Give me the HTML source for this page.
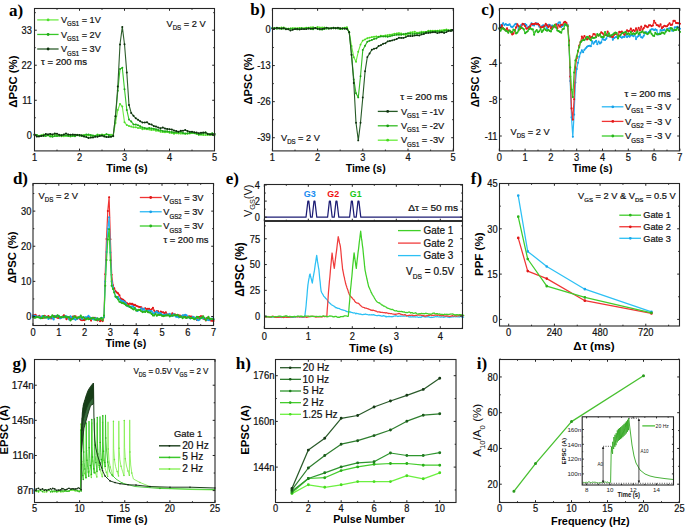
<!DOCTYPE html><html><head><meta charset="utf-8"><style>html,body{margin:0;padding:0;background:#fff;}svg{display:block;}</style></head><body><svg width="685" height="528" viewBox="0 0 685 528">
<rect width="685" height="528" fill="#fff"/>
<polyline points="34.5,134.7 36.8,135.2 39.0,135.7 41.2,135.3 43.5,134.6 45.8,134.9 48.0,135.4 50.2,135.9 52.5,135.0 54.8,134.5 57.0,135.2 59.2,135.5 61.5,136.2 63.8,136.2 66.0,135.7 68.2,135.4 70.5,136.6 72.8,135.8 75.0,135.2 77.2,134.7 79.5,135.0 81.8,135.2 84.0,135.1 86.3,135.2 88.5,135.4 90.8,135.7 93.0,136.0 95.2,135.8 97.5,134.6 99.8,135.3 102.0,134.6 104.2,134.9 106.5,134.3 108.8,134.8 111.0,134.7 113.2,135.1 115.5,122.9 117.8,110.0 120.0,103.9 122.3,106.6 124.5,122.2 126.8,125.1 129.0,126.1 131.2,126.6 133.5,127.3 135.8,127.2 138.0,128.1 140.2,127.9 142.5,129.3 144.8,128.8 147.0,129.3 149.2,129.4 151.5,130.1 153.8,129.8 156.0,130.7 158.2,130.8 160.5,131.7 162.8,132.1 165.0,132.2 167.2,132.0 169.5,132.8 171.8,133.1 174.0,133.8 176.3,133.2 178.5,133.5 180.8,133.6 183.0,133.6 185.2,133.7 187.5,133.7 189.8,133.4 192.0,133.1 194.3,133.3 196.5,133.9 198.8,134.7 201.0,134.8 203.2,135.0 205.5,135.0 207.7,134.9 210.0,134.7 212.2,134.9 214.5,135.5" fill="none" stroke="#70ec48" stroke-width="1.1" stroke-linejoin="round" />
<path d="M33.5,134.7a1.0,1.0 0 1,0 2.0,0a1.0,1.0 0 1,0 -2.0,0M35.8,135.2a1.0,1.0 0 1,0 2.0,0a1.0,1.0 0 1,0 -2.0,0M38.0,135.7a1.0,1.0 0 1,0 2.0,0a1.0,1.0 0 1,0 -2.0,0M40.2,135.3a1.0,1.0 0 1,0 2.0,0a1.0,1.0 0 1,0 -2.0,0M42.5,134.6a1.0,1.0 0 1,0 2.0,0a1.0,1.0 0 1,0 -2.0,0M44.8,134.9a1.0,1.0 0 1,0 2.0,0a1.0,1.0 0 1,0 -2.0,0M47.0,135.4a1.0,1.0 0 1,0 2.0,0a1.0,1.0 0 1,0 -2.0,0M49.2,135.9a1.0,1.0 0 1,0 2.0,0a1.0,1.0 0 1,0 -2.0,0M51.5,135.0a1.0,1.0 0 1,0 2.0,0a1.0,1.0 0 1,0 -2.0,0M53.8,134.5a1.0,1.0 0 1,0 2.0,0a1.0,1.0 0 1,0 -2.0,0M56.0,135.2a1.0,1.0 0 1,0 2.0,0a1.0,1.0 0 1,0 -2.0,0M58.2,135.5a1.0,1.0 0 1,0 2.0,0a1.0,1.0 0 1,0 -2.0,0M60.5,136.2a1.0,1.0 0 1,0 2.0,0a1.0,1.0 0 1,0 -2.0,0M62.8,136.2a1.0,1.0 0 1,0 2.0,0a1.0,1.0 0 1,0 -2.0,0M65.0,135.7a1.0,1.0 0 1,0 2.0,0a1.0,1.0 0 1,0 -2.0,0M67.2,135.4a1.0,1.0 0 1,0 2.0,0a1.0,1.0 0 1,0 -2.0,0M69.5,136.6a1.0,1.0 0 1,0 2.0,0a1.0,1.0 0 1,0 -2.0,0M71.8,135.8a1.0,1.0 0 1,0 2.0,0a1.0,1.0 0 1,0 -2.0,0M74.0,135.2a1.0,1.0 0 1,0 2.0,0a1.0,1.0 0 1,0 -2.0,0M76.2,134.7a1.0,1.0 0 1,0 2.0,0a1.0,1.0 0 1,0 -2.0,0M78.5,135.0a1.0,1.0 0 1,0 2.0,0a1.0,1.0 0 1,0 -2.0,0M80.8,135.2a1.0,1.0 0 1,0 2.0,0a1.0,1.0 0 1,0 -2.0,0M83.0,135.1a1.0,1.0 0 1,0 2.0,0a1.0,1.0 0 1,0 -2.0,0M85.3,135.2a1.0,1.0 0 1,0 2.0,0a1.0,1.0 0 1,0 -2.0,0M87.5,135.4a1.0,1.0 0 1,0 2.0,0a1.0,1.0 0 1,0 -2.0,0M89.8,135.7a1.0,1.0 0 1,0 2.0,0a1.0,1.0 0 1,0 -2.0,0M92.0,136.0a1.0,1.0 0 1,0 2.0,0a1.0,1.0 0 1,0 -2.0,0M94.2,135.8a1.0,1.0 0 1,0 2.0,0a1.0,1.0 0 1,0 -2.0,0M96.5,134.6a1.0,1.0 0 1,0 2.0,0a1.0,1.0 0 1,0 -2.0,0M98.8,135.3a1.0,1.0 0 1,0 2.0,0a1.0,1.0 0 1,0 -2.0,0M101.0,134.6a1.0,1.0 0 1,0 2.0,0a1.0,1.0 0 1,0 -2.0,0M103.2,134.9a1.0,1.0 0 1,0 2.0,0a1.0,1.0 0 1,0 -2.0,0M105.5,134.3a1.0,1.0 0 1,0 2.0,0a1.0,1.0 0 1,0 -2.0,0M107.8,134.8a1.0,1.0 0 1,0 2.0,0a1.0,1.0 0 1,0 -2.0,0M110.0,134.7a1.0,1.0 0 1,0 2.0,0a1.0,1.0 0 1,0 -2.0,0M112.2,135.1a1.0,1.0 0 1,0 2.0,0a1.0,1.0 0 1,0 -2.0,0M114.5,122.9a1.0,1.0 0 1,0 2.0,0a1.0,1.0 0 1,0 -2.0,0M116.8,110.0a1.0,1.0 0 1,0 2.0,0a1.0,1.0 0 1,0 -2.0,0M119.0,103.9a1.0,1.0 0 1,0 2.0,0a1.0,1.0 0 1,0 -2.0,0M121.3,106.6a1.0,1.0 0 1,0 2.0,0a1.0,1.0 0 1,0 -2.0,0M123.5,122.2a1.0,1.0 0 1,0 2.0,0a1.0,1.0 0 1,0 -2.0,0M125.8,125.1a1.0,1.0 0 1,0 2.0,0a1.0,1.0 0 1,0 -2.0,0M128.0,126.1a1.0,1.0 0 1,0 2.0,0a1.0,1.0 0 1,0 -2.0,0M130.2,126.6a1.0,1.0 0 1,0 2.0,0a1.0,1.0 0 1,0 -2.0,0M132.5,127.3a1.0,1.0 0 1,0 2.0,0a1.0,1.0 0 1,0 -2.0,0M134.8,127.2a1.0,1.0 0 1,0 2.0,0a1.0,1.0 0 1,0 -2.0,0M137.0,128.1a1.0,1.0 0 1,0 2.0,0a1.0,1.0 0 1,0 -2.0,0M139.2,127.9a1.0,1.0 0 1,0 2.0,0a1.0,1.0 0 1,0 -2.0,0M141.5,129.3a1.0,1.0 0 1,0 2.0,0a1.0,1.0 0 1,0 -2.0,0M143.8,128.8a1.0,1.0 0 1,0 2.0,0a1.0,1.0 0 1,0 -2.0,0M146.0,129.3a1.0,1.0 0 1,0 2.0,0a1.0,1.0 0 1,0 -2.0,0M148.2,129.4a1.0,1.0 0 1,0 2.0,0a1.0,1.0 0 1,0 -2.0,0M150.5,130.1a1.0,1.0 0 1,0 2.0,0a1.0,1.0 0 1,0 -2.0,0M152.8,129.8a1.0,1.0 0 1,0 2.0,0a1.0,1.0 0 1,0 -2.0,0M155.0,130.7a1.0,1.0 0 1,0 2.0,0a1.0,1.0 0 1,0 -2.0,0M157.2,130.8a1.0,1.0 0 1,0 2.0,0a1.0,1.0 0 1,0 -2.0,0M159.5,131.7a1.0,1.0 0 1,0 2.0,0a1.0,1.0 0 1,0 -2.0,0M161.8,132.1a1.0,1.0 0 1,0 2.0,0a1.0,1.0 0 1,0 -2.0,0M164.0,132.2a1.0,1.0 0 1,0 2.0,0a1.0,1.0 0 1,0 -2.0,0M166.2,132.0a1.0,1.0 0 1,0 2.0,0a1.0,1.0 0 1,0 -2.0,0M168.5,132.8a1.0,1.0 0 1,0 2.0,0a1.0,1.0 0 1,0 -2.0,0M170.8,133.1a1.0,1.0 0 1,0 2.0,0a1.0,1.0 0 1,0 -2.0,0M173.0,133.8a1.0,1.0 0 1,0 2.0,0a1.0,1.0 0 1,0 -2.0,0M175.3,133.2a1.0,1.0 0 1,0 2.0,0a1.0,1.0 0 1,0 -2.0,0M177.5,133.5a1.0,1.0 0 1,0 2.0,0a1.0,1.0 0 1,0 -2.0,0M179.8,133.6a1.0,1.0 0 1,0 2.0,0a1.0,1.0 0 1,0 -2.0,0M182.0,133.6a1.0,1.0 0 1,0 2.0,0a1.0,1.0 0 1,0 -2.0,0M184.2,133.7a1.0,1.0 0 1,0 2.0,0a1.0,1.0 0 1,0 -2.0,0M186.5,133.7a1.0,1.0 0 1,0 2.0,0a1.0,1.0 0 1,0 -2.0,0M188.8,133.4a1.0,1.0 0 1,0 2.0,0a1.0,1.0 0 1,0 -2.0,0M191.0,133.1a1.0,1.0 0 1,0 2.0,0a1.0,1.0 0 1,0 -2.0,0M193.3,133.3a1.0,1.0 0 1,0 2.0,0a1.0,1.0 0 1,0 -2.0,0M195.5,133.9a1.0,1.0 0 1,0 2.0,0a1.0,1.0 0 1,0 -2.0,0M197.8,134.7a1.0,1.0 0 1,0 2.0,0a1.0,1.0 0 1,0 -2.0,0M200.0,134.8a1.0,1.0 0 1,0 2.0,0a1.0,1.0 0 1,0 -2.0,0M202.2,135.0a1.0,1.0 0 1,0 2.0,0a1.0,1.0 0 1,0 -2.0,0M204.5,135.0a1.0,1.0 0 1,0 2.0,0a1.0,1.0 0 1,0 -2.0,0M206.7,134.9a1.0,1.0 0 1,0 2.0,0a1.0,1.0 0 1,0 -2.0,0M209.0,134.7a1.0,1.0 0 1,0 2.0,0a1.0,1.0 0 1,0 -2.0,0M211.2,134.9a1.0,1.0 0 1,0 2.0,0a1.0,1.0 0 1,0 -2.0,0M213.5,135.5a1.0,1.0 0 1,0 2.0,0a1.0,1.0 0 1,0 -2.0,0" fill="#50dc30"/>
<polyline points="34.5,135.1 36.8,134.9 39.0,136.1 41.2,135.8 43.5,136.0 45.8,136.1 48.0,135.1 50.2,136.4 52.5,136.8 54.8,136.1 57.0,136.1 59.2,135.8 61.5,135.1 63.8,135.1 66.0,135.4 68.2,135.9 70.5,136.0 72.8,135.7 75.0,136.2 77.2,135.3 79.5,135.7 81.8,136.1 84.0,135.5 86.3,134.5 88.5,134.5 90.8,135.0 93.0,135.4 95.2,136.1 97.5,135.2 99.8,135.3 102.0,135.6 104.2,135.4 106.5,134.2 108.8,135.1 111.0,136.4 113.2,136.3 115.5,116.2 117.8,90.7 120.0,69.1 122.3,67.7 124.5,89.3 126.8,109.9 129.0,119.6 131.2,121.4 133.5,124.4 135.8,124.6 138.0,125.3 140.2,126.3 142.5,127.6 144.8,128.1 147.0,128.5 149.2,128.0 151.5,128.4 153.8,128.8 156.0,129.2 158.2,130.1 160.5,130.3 162.8,131.1 165.0,131.3 167.2,131.3 169.5,131.8 171.8,132.1 174.0,132.6 176.3,132.2 178.5,132.2 180.8,131.7 183.0,133.0 185.2,133.6 187.5,133.2 189.8,132.9 192.0,132.4 194.3,132.9 196.5,133.2 198.8,134.4 201.0,134.1 203.2,133.5 205.5,132.4 207.7,133.8 210.0,134.0 212.2,133.2 214.5,133.7" fill="none" stroke="#38c828" stroke-width="1.1" stroke-linejoin="round" />
<path d="M33.5,135.1a1.0,1.0 0 1,0 2.0,0a1.0,1.0 0 1,0 -2.0,0M35.8,134.9a1.0,1.0 0 1,0 2.0,0a1.0,1.0 0 1,0 -2.0,0M38.0,136.1a1.0,1.0 0 1,0 2.0,0a1.0,1.0 0 1,0 -2.0,0M40.2,135.8a1.0,1.0 0 1,0 2.0,0a1.0,1.0 0 1,0 -2.0,0M42.5,136.0a1.0,1.0 0 1,0 2.0,0a1.0,1.0 0 1,0 -2.0,0M44.8,136.1a1.0,1.0 0 1,0 2.0,0a1.0,1.0 0 1,0 -2.0,0M47.0,135.1a1.0,1.0 0 1,0 2.0,0a1.0,1.0 0 1,0 -2.0,0M49.2,136.4a1.0,1.0 0 1,0 2.0,0a1.0,1.0 0 1,0 -2.0,0M51.5,136.8a1.0,1.0 0 1,0 2.0,0a1.0,1.0 0 1,0 -2.0,0M53.8,136.1a1.0,1.0 0 1,0 2.0,0a1.0,1.0 0 1,0 -2.0,0M56.0,136.1a1.0,1.0 0 1,0 2.0,0a1.0,1.0 0 1,0 -2.0,0M58.2,135.8a1.0,1.0 0 1,0 2.0,0a1.0,1.0 0 1,0 -2.0,0M60.5,135.1a1.0,1.0 0 1,0 2.0,0a1.0,1.0 0 1,0 -2.0,0M62.8,135.1a1.0,1.0 0 1,0 2.0,0a1.0,1.0 0 1,0 -2.0,0M65.0,135.4a1.0,1.0 0 1,0 2.0,0a1.0,1.0 0 1,0 -2.0,0M67.2,135.9a1.0,1.0 0 1,0 2.0,0a1.0,1.0 0 1,0 -2.0,0M69.5,136.0a1.0,1.0 0 1,0 2.0,0a1.0,1.0 0 1,0 -2.0,0M71.8,135.7a1.0,1.0 0 1,0 2.0,0a1.0,1.0 0 1,0 -2.0,0M74.0,136.2a1.0,1.0 0 1,0 2.0,0a1.0,1.0 0 1,0 -2.0,0M76.2,135.3a1.0,1.0 0 1,0 2.0,0a1.0,1.0 0 1,0 -2.0,0M78.5,135.7a1.0,1.0 0 1,0 2.0,0a1.0,1.0 0 1,0 -2.0,0M80.8,136.1a1.0,1.0 0 1,0 2.0,0a1.0,1.0 0 1,0 -2.0,0M83.0,135.5a1.0,1.0 0 1,0 2.0,0a1.0,1.0 0 1,0 -2.0,0M85.3,134.5a1.0,1.0 0 1,0 2.0,0a1.0,1.0 0 1,0 -2.0,0M87.5,134.5a1.0,1.0 0 1,0 2.0,0a1.0,1.0 0 1,0 -2.0,0M89.8,135.0a1.0,1.0 0 1,0 2.0,0a1.0,1.0 0 1,0 -2.0,0M92.0,135.4a1.0,1.0 0 1,0 2.0,0a1.0,1.0 0 1,0 -2.0,0M94.2,136.1a1.0,1.0 0 1,0 2.0,0a1.0,1.0 0 1,0 -2.0,0M96.5,135.2a1.0,1.0 0 1,0 2.0,0a1.0,1.0 0 1,0 -2.0,0M98.8,135.3a1.0,1.0 0 1,0 2.0,0a1.0,1.0 0 1,0 -2.0,0M101.0,135.6a1.0,1.0 0 1,0 2.0,0a1.0,1.0 0 1,0 -2.0,0M103.2,135.4a1.0,1.0 0 1,0 2.0,0a1.0,1.0 0 1,0 -2.0,0M105.5,134.2a1.0,1.0 0 1,0 2.0,0a1.0,1.0 0 1,0 -2.0,0M107.8,135.1a1.0,1.0 0 1,0 2.0,0a1.0,1.0 0 1,0 -2.0,0M110.0,136.4a1.0,1.0 0 1,0 2.0,0a1.0,1.0 0 1,0 -2.0,0M112.2,136.3a1.0,1.0 0 1,0 2.0,0a1.0,1.0 0 1,0 -2.0,0M114.5,116.2a1.0,1.0 0 1,0 2.0,0a1.0,1.0 0 1,0 -2.0,0M116.8,90.7a1.0,1.0 0 1,0 2.0,0a1.0,1.0 0 1,0 -2.0,0M119.0,69.1a1.0,1.0 0 1,0 2.0,0a1.0,1.0 0 1,0 -2.0,0M121.3,67.7a1.0,1.0 0 1,0 2.0,0a1.0,1.0 0 1,0 -2.0,0M123.5,89.3a1.0,1.0 0 1,0 2.0,0a1.0,1.0 0 1,0 -2.0,0M125.8,109.9a1.0,1.0 0 1,0 2.0,0a1.0,1.0 0 1,0 -2.0,0M128.0,119.6a1.0,1.0 0 1,0 2.0,0a1.0,1.0 0 1,0 -2.0,0M130.2,121.4a1.0,1.0 0 1,0 2.0,0a1.0,1.0 0 1,0 -2.0,0M132.5,124.4a1.0,1.0 0 1,0 2.0,0a1.0,1.0 0 1,0 -2.0,0M134.8,124.6a1.0,1.0 0 1,0 2.0,0a1.0,1.0 0 1,0 -2.0,0M137.0,125.3a1.0,1.0 0 1,0 2.0,0a1.0,1.0 0 1,0 -2.0,0M139.2,126.3a1.0,1.0 0 1,0 2.0,0a1.0,1.0 0 1,0 -2.0,0M141.5,127.6a1.0,1.0 0 1,0 2.0,0a1.0,1.0 0 1,0 -2.0,0M143.8,128.1a1.0,1.0 0 1,0 2.0,0a1.0,1.0 0 1,0 -2.0,0M146.0,128.5a1.0,1.0 0 1,0 2.0,0a1.0,1.0 0 1,0 -2.0,0M148.2,128.0a1.0,1.0 0 1,0 2.0,0a1.0,1.0 0 1,0 -2.0,0M150.5,128.4a1.0,1.0 0 1,0 2.0,0a1.0,1.0 0 1,0 -2.0,0M152.8,128.8a1.0,1.0 0 1,0 2.0,0a1.0,1.0 0 1,0 -2.0,0M155.0,129.2a1.0,1.0 0 1,0 2.0,0a1.0,1.0 0 1,0 -2.0,0M157.2,130.1a1.0,1.0 0 1,0 2.0,0a1.0,1.0 0 1,0 -2.0,0M159.5,130.3a1.0,1.0 0 1,0 2.0,0a1.0,1.0 0 1,0 -2.0,0M161.8,131.1a1.0,1.0 0 1,0 2.0,0a1.0,1.0 0 1,0 -2.0,0M164.0,131.3a1.0,1.0 0 1,0 2.0,0a1.0,1.0 0 1,0 -2.0,0M166.2,131.3a1.0,1.0 0 1,0 2.0,0a1.0,1.0 0 1,0 -2.0,0M168.5,131.8a1.0,1.0 0 1,0 2.0,0a1.0,1.0 0 1,0 -2.0,0M170.8,132.1a1.0,1.0 0 1,0 2.0,0a1.0,1.0 0 1,0 -2.0,0M173.0,132.6a1.0,1.0 0 1,0 2.0,0a1.0,1.0 0 1,0 -2.0,0M175.3,132.2a1.0,1.0 0 1,0 2.0,0a1.0,1.0 0 1,0 -2.0,0M177.5,132.2a1.0,1.0 0 1,0 2.0,0a1.0,1.0 0 1,0 -2.0,0M179.8,131.7a1.0,1.0 0 1,0 2.0,0a1.0,1.0 0 1,0 -2.0,0M182.0,133.0a1.0,1.0 0 1,0 2.0,0a1.0,1.0 0 1,0 -2.0,0M184.2,133.6a1.0,1.0 0 1,0 2.0,0a1.0,1.0 0 1,0 -2.0,0M186.5,133.2a1.0,1.0 0 1,0 2.0,0a1.0,1.0 0 1,0 -2.0,0M188.8,132.9a1.0,1.0 0 1,0 2.0,0a1.0,1.0 0 1,0 -2.0,0M191.0,132.4a1.0,1.0 0 1,0 2.0,0a1.0,1.0 0 1,0 -2.0,0M193.3,132.9a1.0,1.0 0 1,0 2.0,0a1.0,1.0 0 1,0 -2.0,0M195.5,133.2a1.0,1.0 0 1,0 2.0,0a1.0,1.0 0 1,0 -2.0,0M197.8,134.4a1.0,1.0 0 1,0 2.0,0a1.0,1.0 0 1,0 -2.0,0M200.0,134.1a1.0,1.0 0 1,0 2.0,0a1.0,1.0 0 1,0 -2.0,0M202.2,133.5a1.0,1.0 0 1,0 2.0,0a1.0,1.0 0 1,0 -2.0,0M204.5,132.4a1.0,1.0 0 1,0 2.0,0a1.0,1.0 0 1,0 -2.0,0M206.7,133.8a1.0,1.0 0 1,0 2.0,0a1.0,1.0 0 1,0 -2.0,0M209.0,134.0a1.0,1.0 0 1,0 2.0,0a1.0,1.0 0 1,0 -2.0,0M211.2,133.2a1.0,1.0 0 1,0 2.0,0a1.0,1.0 0 1,0 -2.0,0M213.5,133.7a1.0,1.0 0 1,0 2.0,0a1.0,1.0 0 1,0 -2.0,0" fill="#20a818"/>
<polyline points="34.5,134.5 36.8,136.6 39.0,136.4 41.2,136.0 43.5,135.4 45.8,134.1 48.0,134.4 50.2,133.9 52.5,134.6 54.8,133.6 57.0,133.7 59.2,134.7 61.5,135.4 63.8,134.4 66.0,133.6 68.2,134.4 70.5,134.8 72.8,134.5 75.0,134.7 77.2,134.9 79.5,135.0 81.8,135.4 84.0,136.6 86.3,137.0 88.5,138.0 90.8,137.6 93.0,137.4 95.2,136.7 97.5,136.7 99.8,136.1 102.0,135.5 104.2,136.4 106.5,137.1 108.8,136.9 111.0,136.7 113.2,135.9 115.5,116.2 117.8,86.6 120.0,44.5 122.3,26.9 124.5,44.3 126.8,72.6 129.0,104.9 131.2,113.0 133.5,115.8 135.8,118.3 138.0,119.7 140.2,121.3 142.5,122.5 144.8,122.5 147.0,122.3 149.2,124.0 151.5,124.5 153.8,126.0 156.0,126.6 158.2,127.5 160.5,128.2 162.8,127.4 165.0,128.6 167.2,128.9 169.5,129.2 171.8,129.6 174.0,130.5 176.3,131.1 178.5,131.7 180.8,130.7 183.0,130.8 185.2,130.1 187.5,131.0 189.8,131.8 192.0,131.7 194.3,132.2 196.5,132.6 198.8,133.2 201.0,132.7 203.2,132.6 205.5,132.6 207.7,134.0 210.0,134.5 212.2,134.2 214.5,134.3" fill="none" stroke="#2e5e2c" stroke-width="1.1" stroke-linejoin="round" />
<path d="M33.5,134.5a1.0,1.0 0 1,0 2.0,0a1.0,1.0 0 1,0 -2.0,0M35.8,136.6a1.0,1.0 0 1,0 2.0,0a1.0,1.0 0 1,0 -2.0,0M38.0,136.4a1.0,1.0 0 1,0 2.0,0a1.0,1.0 0 1,0 -2.0,0M40.2,136.0a1.0,1.0 0 1,0 2.0,0a1.0,1.0 0 1,0 -2.0,0M42.5,135.4a1.0,1.0 0 1,0 2.0,0a1.0,1.0 0 1,0 -2.0,0M44.8,134.1a1.0,1.0 0 1,0 2.0,0a1.0,1.0 0 1,0 -2.0,0M47.0,134.4a1.0,1.0 0 1,0 2.0,0a1.0,1.0 0 1,0 -2.0,0M49.2,133.9a1.0,1.0 0 1,0 2.0,0a1.0,1.0 0 1,0 -2.0,0M51.5,134.6a1.0,1.0 0 1,0 2.0,0a1.0,1.0 0 1,0 -2.0,0M53.8,133.6a1.0,1.0 0 1,0 2.0,0a1.0,1.0 0 1,0 -2.0,0M56.0,133.7a1.0,1.0 0 1,0 2.0,0a1.0,1.0 0 1,0 -2.0,0M58.2,134.7a1.0,1.0 0 1,0 2.0,0a1.0,1.0 0 1,0 -2.0,0M60.5,135.4a1.0,1.0 0 1,0 2.0,0a1.0,1.0 0 1,0 -2.0,0M62.8,134.4a1.0,1.0 0 1,0 2.0,0a1.0,1.0 0 1,0 -2.0,0M65.0,133.6a1.0,1.0 0 1,0 2.0,0a1.0,1.0 0 1,0 -2.0,0M67.2,134.4a1.0,1.0 0 1,0 2.0,0a1.0,1.0 0 1,0 -2.0,0M69.5,134.8a1.0,1.0 0 1,0 2.0,0a1.0,1.0 0 1,0 -2.0,0M71.8,134.5a1.0,1.0 0 1,0 2.0,0a1.0,1.0 0 1,0 -2.0,0M74.0,134.7a1.0,1.0 0 1,0 2.0,0a1.0,1.0 0 1,0 -2.0,0M76.2,134.9a1.0,1.0 0 1,0 2.0,0a1.0,1.0 0 1,0 -2.0,0M78.5,135.0a1.0,1.0 0 1,0 2.0,0a1.0,1.0 0 1,0 -2.0,0M80.8,135.4a1.0,1.0 0 1,0 2.0,0a1.0,1.0 0 1,0 -2.0,0M83.0,136.6a1.0,1.0 0 1,0 2.0,0a1.0,1.0 0 1,0 -2.0,0M85.3,137.0a1.0,1.0 0 1,0 2.0,0a1.0,1.0 0 1,0 -2.0,0M87.5,138.0a1.0,1.0 0 1,0 2.0,0a1.0,1.0 0 1,0 -2.0,0M89.8,137.6a1.0,1.0 0 1,0 2.0,0a1.0,1.0 0 1,0 -2.0,0M92.0,137.4a1.0,1.0 0 1,0 2.0,0a1.0,1.0 0 1,0 -2.0,0M94.2,136.7a1.0,1.0 0 1,0 2.0,0a1.0,1.0 0 1,0 -2.0,0M96.5,136.7a1.0,1.0 0 1,0 2.0,0a1.0,1.0 0 1,0 -2.0,0M98.8,136.1a1.0,1.0 0 1,0 2.0,0a1.0,1.0 0 1,0 -2.0,0M101.0,135.5a1.0,1.0 0 1,0 2.0,0a1.0,1.0 0 1,0 -2.0,0M103.2,136.4a1.0,1.0 0 1,0 2.0,0a1.0,1.0 0 1,0 -2.0,0M105.5,137.1a1.0,1.0 0 1,0 2.0,0a1.0,1.0 0 1,0 -2.0,0M107.8,136.9a1.0,1.0 0 1,0 2.0,0a1.0,1.0 0 1,0 -2.0,0M110.0,136.7a1.0,1.0 0 1,0 2.0,0a1.0,1.0 0 1,0 -2.0,0M112.2,135.9a1.0,1.0 0 1,0 2.0,0a1.0,1.0 0 1,0 -2.0,0M114.5,116.2a1.0,1.0 0 1,0 2.0,0a1.0,1.0 0 1,0 -2.0,0M116.8,86.6a1.0,1.0 0 1,0 2.0,0a1.0,1.0 0 1,0 -2.0,0M119.0,44.5a1.0,1.0 0 1,0 2.0,0a1.0,1.0 0 1,0 -2.0,0M121.3,26.9a1.0,1.0 0 1,0 2.0,0a1.0,1.0 0 1,0 -2.0,0M123.5,44.3a1.0,1.0 0 1,0 2.0,0a1.0,1.0 0 1,0 -2.0,0M125.8,72.6a1.0,1.0 0 1,0 2.0,0a1.0,1.0 0 1,0 -2.0,0M128.0,104.9a1.0,1.0 0 1,0 2.0,0a1.0,1.0 0 1,0 -2.0,0M130.2,113.0a1.0,1.0 0 1,0 2.0,0a1.0,1.0 0 1,0 -2.0,0M132.5,115.8a1.0,1.0 0 1,0 2.0,0a1.0,1.0 0 1,0 -2.0,0M134.8,118.3a1.0,1.0 0 1,0 2.0,0a1.0,1.0 0 1,0 -2.0,0M137.0,119.7a1.0,1.0 0 1,0 2.0,0a1.0,1.0 0 1,0 -2.0,0M139.2,121.3a1.0,1.0 0 1,0 2.0,0a1.0,1.0 0 1,0 -2.0,0M141.5,122.5a1.0,1.0 0 1,0 2.0,0a1.0,1.0 0 1,0 -2.0,0M143.8,122.5a1.0,1.0 0 1,0 2.0,0a1.0,1.0 0 1,0 -2.0,0M146.0,122.3a1.0,1.0 0 1,0 2.0,0a1.0,1.0 0 1,0 -2.0,0M148.2,124.0a1.0,1.0 0 1,0 2.0,0a1.0,1.0 0 1,0 -2.0,0M150.5,124.5a1.0,1.0 0 1,0 2.0,0a1.0,1.0 0 1,0 -2.0,0M152.8,126.0a1.0,1.0 0 1,0 2.0,0a1.0,1.0 0 1,0 -2.0,0M155.0,126.6a1.0,1.0 0 1,0 2.0,0a1.0,1.0 0 1,0 -2.0,0M157.2,127.5a1.0,1.0 0 1,0 2.0,0a1.0,1.0 0 1,0 -2.0,0M159.5,128.2a1.0,1.0 0 1,0 2.0,0a1.0,1.0 0 1,0 -2.0,0M161.8,127.4a1.0,1.0 0 1,0 2.0,0a1.0,1.0 0 1,0 -2.0,0M164.0,128.6a1.0,1.0 0 1,0 2.0,0a1.0,1.0 0 1,0 -2.0,0M166.2,128.9a1.0,1.0 0 1,0 2.0,0a1.0,1.0 0 1,0 -2.0,0M168.5,129.2a1.0,1.0 0 1,0 2.0,0a1.0,1.0 0 1,0 -2.0,0M170.8,129.6a1.0,1.0 0 1,0 2.0,0a1.0,1.0 0 1,0 -2.0,0M173.0,130.5a1.0,1.0 0 1,0 2.0,0a1.0,1.0 0 1,0 -2.0,0M175.3,131.1a1.0,1.0 0 1,0 2.0,0a1.0,1.0 0 1,0 -2.0,0M177.5,131.7a1.0,1.0 0 1,0 2.0,0a1.0,1.0 0 1,0 -2.0,0M179.8,130.7a1.0,1.0 0 1,0 2.0,0a1.0,1.0 0 1,0 -2.0,0M182.0,130.8a1.0,1.0 0 1,0 2.0,0a1.0,1.0 0 1,0 -2.0,0M184.2,130.1a1.0,1.0 0 1,0 2.0,0a1.0,1.0 0 1,0 -2.0,0M186.5,131.0a1.0,1.0 0 1,0 2.0,0a1.0,1.0 0 1,0 -2.0,0M188.8,131.8a1.0,1.0 0 1,0 2.0,0a1.0,1.0 0 1,0 -2.0,0M191.0,131.7a1.0,1.0 0 1,0 2.0,0a1.0,1.0 0 1,0 -2.0,0M193.3,132.2a1.0,1.0 0 1,0 2.0,0a1.0,1.0 0 1,0 -2.0,0M195.5,132.6a1.0,1.0 0 1,0 2.0,0a1.0,1.0 0 1,0 -2.0,0M197.8,133.2a1.0,1.0 0 1,0 2.0,0a1.0,1.0 0 1,0 -2.0,0M200.0,132.7a1.0,1.0 0 1,0 2.0,0a1.0,1.0 0 1,0 -2.0,0M202.2,132.6a1.0,1.0 0 1,0 2.0,0a1.0,1.0 0 1,0 -2.0,0M204.5,132.6a1.0,1.0 0 1,0 2.0,0a1.0,1.0 0 1,0 -2.0,0M206.7,134.0a1.0,1.0 0 1,0 2.0,0a1.0,1.0 0 1,0 -2.0,0M209.0,134.5a1.0,1.0 0 1,0 2.0,0a1.0,1.0 0 1,0 -2.0,0M211.2,134.2a1.0,1.0 0 1,0 2.0,0a1.0,1.0 0 1,0 -2.0,0M213.5,134.3a1.0,1.0 0 1,0 2.0,0a1.0,1.0 0 1,0 -2.0,0" fill="#0e300e"/>
<path d="M34.5,150.9v-2.3M34.5,8.5v2.3M79.5,150.9v-2.3M79.5,8.5v2.3M124.5,150.9v-2.3M124.5,8.5v2.3M169.5,150.9v-2.3M169.5,8.5v2.3M214.5,150.9v-2.3M214.5,8.5v2.3M57,150.9v-1.3M57,8.5v1.3M102,150.9v-1.3M102,8.5v1.3M147,150.9v-1.3M147,8.5v1.3M192,150.9v-1.3M192,8.5v1.3M34.5,135.3h2.3M214.5,135.3h-2.3M34.5,100.27h2.3M214.5,100.27h-2.3M34.5,65.23h2.3M214.5,65.23h-2.3M34.5,30.2h2.3M214.5,30.2h-2.3M34.5,117.78h1.3M214.5,117.78h-1.3M34.5,82.75h1.3M214.5,82.75h-1.3M34.5,47.71h1.3M214.5,47.71h-1.3M34.5,12.68h1.3M214.5,12.68h-1.3" stroke="#262626" stroke-width="1" fill="none"/>
<rect x="34.5" y="8.5" width="180" height="142.4" fill="none" stroke="#262626" stroke-width="1.1"/>
<text transform="translate(31.91 161.4) scale(0.930 1)" font-family="Liberation Sans" font-size="10" font-weight="normal" fill="#111" stroke="#111" stroke-width="0.22">1</text>
<text transform="translate(76.91 161.4) scale(0.930 1)" font-family="Liberation Sans" font-size="10" font-weight="normal" fill="#111" stroke="#111" stroke-width="0.22">2</text>
<text transform="translate(121.91 161.4) scale(0.930 1)" font-family="Liberation Sans" font-size="10" font-weight="normal" fill="#111" stroke="#111" stroke-width="0.22">3</text>
<text transform="translate(166.91 161.4) scale(0.930 1)" font-family="Liberation Sans" font-size="10" font-weight="normal" fill="#111" stroke="#111" stroke-width="0.22">4</text>
<text transform="translate(211.91 161.4) scale(0.930 1)" font-family="Liberation Sans" font-size="10" font-weight="normal" fill="#111" stroke="#111" stroke-width="0.22">5</text>
<text transform="translate(26.66 139.05) scale(0.930 1)" font-family="Liberation Sans" font-size="10" font-weight="normal" fill="#111" stroke="#111" stroke-width="0.22">0</text>
<text transform="translate(22.29 104.02) scale(0.930 1)" font-family="Liberation Sans" font-size="10" font-weight="normal" fill="#111" stroke="#111" stroke-width="0.22">11</text>
<text transform="translate(21.6 68.98) scale(0.930 1)" font-family="Liberation Sans" font-size="10" font-weight="normal" fill="#111" stroke="#111" stroke-width="0.22">22</text>
<text transform="translate(21.55 33.95) scale(0.930 1)" font-family="Liberation Sans" font-size="10" font-weight="normal" fill="#111" stroke="#111" stroke-width="0.22">33</text>
<text transform="translate(106.29 172.2) scale(0.986 1)" font-family="Liberation Sans" font-size="11" font-weight="bold" fill="#000">Time (s)</text>
<text transform="translate(16.8 107.2) rotate(-90) scale(1.028 1) translate(-0.44 0)" font-family="Liberation Sans" font-size="11" font-weight="bold" fill="#000">ΔPSC (%)</text>
<line x1="37.2" y1="19.9" x2="58.6" y2="19.9" stroke="#70ec48" stroke-width="1.3" />
<path d="M46.7,19.9a1.4,1.4 0 1,0 2.8,0a1.4,1.4 0 1,0 -2.8,0" fill="#50dc30"/>
<text transform="translate(61 23.1) scale(0.932 1)" font-family="Liberation Sans" font-size="9.8" font-weight="normal" fill="#111" stroke="#111" stroke-width="0.22">V<tspan font-size="6.47" dy="3.23">GS1</tspan><tspan dy="-3.23"> = 1V</tspan></text>
<line x1="37.2" y1="34.45" x2="58.6" y2="34.45" stroke="#38c828" stroke-width="1.3" />
<path d="M46.7,34.5a1.4,1.4 0 1,0 2.8,0a1.4,1.4 0 1,0 -2.8,0" fill="#20a818"/>
<text transform="translate(61 37.7) scale(0.932 1)" font-family="Liberation Sans" font-size="9.8" font-weight="normal" fill="#111" stroke="#111" stroke-width="0.22">V<tspan font-size="6.47" dy="3.23">GS1</tspan><tspan dy="-3.23"> = 2V</tspan></text>
<line x1="37.2" y1="49" x2="58.6" y2="49" stroke="#2e5e2c" stroke-width="1.3" />
<path d="M46.7,49.0a1.4,1.4 0 1,0 2.8,0a1.4,1.4 0 1,0 -2.8,0" fill="#0e300e"/>
<text transform="translate(61 52.3) scale(0.932 1)" font-family="Liberation Sans" font-size="9.8" font-weight="normal" fill="#111" stroke="#111" stroke-width="0.22">V<tspan font-size="6.47" dy="3.23">GS1</tspan><tspan dy="-3.23"> = 3V</tspan></text>
<text transform="translate(41 64.5) scale(1.015 1)" font-family="Liberation Sans" font-size="9.4" font-weight="normal" fill="#111" stroke="#111" stroke-width="0.22">τ = 200 ms</text>
<text transform="translate(166.5 26.6) scale(0.937 1)" font-family="Liberation Sans" font-size="9.9" font-weight="normal" fill="#111" stroke="#111" stroke-width="0.22">V<tspan font-size="6.53" dy="3.27">DS</tspan><tspan dy="-3.27"> = 2 V</tspan></text>
<text transform="translate(9.1 15.7)" font-family="Liberation Serif" font-size="17" font-weight="bold" fill="#000">a)</text>
<polyline points="272.4,28.2 274.7,28.2 276.9,28.1 279.2,27.9 281.4,27.5 283.7,27.5 286.0,28.5 288.2,28.6 290.5,28.4 292.7,28.1 295.0,28.2 297.3,28.3 299.5,27.9 301.8,28.1 304.0,28.2 306.3,27.8 308.6,27.6 310.8,27.4 313.1,27.3 315.3,28.1 317.6,27.0 319.9,27.5 322.1,27.5 324.4,27.5 326.6,27.9 328.9,28.5 331.2,28.3 333.4,28.2 335.7,27.9 337.9,27.9 340.2,28.4 342.5,28.1 344.7,27.6 347.0,27.3 349.2,32.1 351.5,45.9 353.8,57.2 356.0,61.7 358.3,51.7 360.5,44.6 362.8,40.6 365.1,39.4 367.3,38.2 369.6,37.6 371.8,37.1 374.1,36.7 376.4,36.4 378.6,36.8 380.9,35.7 383.1,36.1 385.4,35.5 387.7,35.1 389.9,34.7 392.2,34.5 394.4,33.6 396.7,33.4 399.0,33.1 401.2,33.5 403.5,34.4 405.7,35.0 408.0,33.8 410.3,32.4 412.5,32.2 414.8,31.8 417.0,32.8 419.3,32.5 421.6,31.7 423.8,32.0 426.1,31.9 428.3,30.8 430.6,30.7 432.9,30.7 435.1,30.7 437.4,30.7 439.6,30.4 441.9,30.4 444.2,29.9 446.4,29.5 448.7,30.3 450.9,30.0 453.2,29.9" fill="none" stroke="#68ec3c" stroke-width="1.1" stroke-linejoin="round" />
<path d="M271.4,28.2a0.95,0.95 0 1,0 1.9,0a0.95,0.95 0 1,0 -1.9,0M273.7,28.2a0.95,0.95 0 1,0 1.9,0a0.95,0.95 0 1,0 -1.9,0M276.0,28.1a0.95,0.95 0 1,0 1.9,0a0.95,0.95 0 1,0 -1.9,0M278.2,27.9a0.95,0.95 0 1,0 1.9,0a0.95,0.95 0 1,0 -1.9,0M280.5,27.5a0.95,0.95 0 1,0 1.9,0a0.95,0.95 0 1,0 -1.9,0M282.8,27.5a0.95,0.95 0 1,0 1.9,0a0.95,0.95 0 1,0 -1.9,0M285.0,28.5a0.95,0.95 0 1,0 1.9,0a0.95,0.95 0 1,0 -1.9,0M287.3,28.6a0.95,0.95 0 1,0 1.9,0a0.95,0.95 0 1,0 -1.9,0M289.5,28.4a0.95,0.95 0 1,0 1.9,0a0.95,0.95 0 1,0 -1.9,0M291.8,28.1a0.95,0.95 0 1,0 1.9,0a0.95,0.95 0 1,0 -1.9,0M294.1,28.2a0.95,0.95 0 1,0 1.9,0a0.95,0.95 0 1,0 -1.9,0M296.3,28.3a0.95,0.95 0 1,0 1.9,0a0.95,0.95 0 1,0 -1.9,0M298.6,27.9a0.95,0.95 0 1,0 1.9,0a0.95,0.95 0 1,0 -1.9,0M300.8,28.1a0.95,0.95 0 1,0 1.9,0a0.95,0.95 0 1,0 -1.9,0M303.1,28.2a0.95,0.95 0 1,0 1.9,0a0.95,0.95 0 1,0 -1.9,0M305.3,27.8a0.95,0.95 0 1,0 1.9,0a0.95,0.95 0 1,0 -1.9,0M307.6,27.6a0.95,0.95 0 1,0 1.9,0a0.95,0.95 0 1,0 -1.9,0M309.9,27.4a0.95,0.95 0 1,0 1.9,0a0.95,0.95 0 1,0 -1.9,0M312.1,27.3a0.95,0.95 0 1,0 1.9,0a0.95,0.95 0 1,0 -1.9,0M314.4,28.1a0.95,0.95 0 1,0 1.9,0a0.95,0.95 0 1,0 -1.9,0M316.6,27.0a0.95,0.95 0 1,0 1.9,0a0.95,0.95 0 1,0 -1.9,0M318.9,27.5a0.95,0.95 0 1,0 1.9,0a0.95,0.95 0 1,0 -1.9,0M321.2,27.5a0.95,0.95 0 1,0 1.9,0a0.95,0.95 0 1,0 -1.9,0M323.4,27.5a0.95,0.95 0 1,0 1.9,0a0.95,0.95 0 1,0 -1.9,0M325.7,27.9a0.95,0.95 0 1,0 1.9,0a0.95,0.95 0 1,0 -1.9,0M327.9,28.5a0.95,0.95 0 1,0 1.9,0a0.95,0.95 0 1,0 -1.9,0M330.2,28.3a0.95,0.95 0 1,0 1.9,0a0.95,0.95 0 1,0 -1.9,0M332.5,28.2a0.95,0.95 0 1,0 1.9,0a0.95,0.95 0 1,0 -1.9,0M334.7,27.9a0.95,0.95 0 1,0 1.9,0a0.95,0.95 0 1,0 -1.9,0M337.0,27.9a0.95,0.95 0 1,0 1.9,0a0.95,0.95 0 1,0 -1.9,0M339.2,28.4a0.95,0.95 0 1,0 1.9,0a0.95,0.95 0 1,0 -1.9,0M341.5,28.1a0.95,0.95 0 1,0 1.9,0a0.95,0.95 0 1,0 -1.9,0M343.8,27.6a0.95,0.95 0 1,0 1.9,0a0.95,0.95 0 1,0 -1.9,0M346.0,27.3a0.95,0.95 0 1,0 1.9,0a0.95,0.95 0 1,0 -1.9,0M348.3,32.1a0.95,0.95 0 1,0 1.9,0a0.95,0.95 0 1,0 -1.9,0M350.6,45.9a0.95,0.95 0 1,0 1.9,0a0.95,0.95 0 1,0 -1.9,0M352.8,57.2a0.95,0.95 0 1,0 1.9,0a0.95,0.95 0 1,0 -1.9,0M355.1,61.7a0.95,0.95 0 1,0 1.9,0a0.95,0.95 0 1,0 -1.9,0M357.3,51.7a0.95,0.95 0 1,0 1.9,0a0.95,0.95 0 1,0 -1.9,0M359.6,44.6a0.95,0.95 0 1,0 1.9,0a0.95,0.95 0 1,0 -1.9,0M361.8,40.6a0.95,0.95 0 1,0 1.9,0a0.95,0.95 0 1,0 -1.9,0M364.1,39.4a0.95,0.95 0 1,0 1.9,0a0.95,0.95 0 1,0 -1.9,0M366.4,38.2a0.95,0.95 0 1,0 1.9,0a0.95,0.95 0 1,0 -1.9,0M368.6,37.6a0.95,0.95 0 1,0 1.9,0a0.95,0.95 0 1,0 -1.9,0M370.9,37.1a0.95,0.95 0 1,0 1.9,0a0.95,0.95 0 1,0 -1.9,0M373.1,36.7a0.95,0.95 0 1,0 1.9,0a0.95,0.95 0 1,0 -1.9,0M375.4,36.4a0.95,0.95 0 1,0 1.9,0a0.95,0.95 0 1,0 -1.9,0M377.7,36.8a0.95,0.95 0 1,0 1.9,0a0.95,0.95 0 1,0 -1.9,0M379.9,35.7a0.95,0.95 0 1,0 1.9,0a0.95,0.95 0 1,0 -1.9,0M382.2,36.1a0.95,0.95 0 1,0 1.9,0a0.95,0.95 0 1,0 -1.9,0M384.4,35.5a0.95,0.95 0 1,0 1.9,0a0.95,0.95 0 1,0 -1.9,0M386.7,35.1a0.95,0.95 0 1,0 1.9,0a0.95,0.95 0 1,0 -1.9,0M389.0,34.7a0.95,0.95 0 1,0 1.9,0a0.95,0.95 0 1,0 -1.9,0M391.2,34.5a0.95,0.95 0 1,0 1.9,0a0.95,0.95 0 1,0 -1.9,0M393.5,33.6a0.95,0.95 0 1,0 1.9,0a0.95,0.95 0 1,0 -1.9,0M395.8,33.4a0.95,0.95 0 1,0 1.9,0a0.95,0.95 0 1,0 -1.9,0M398.0,33.1a0.95,0.95 0 1,0 1.9,0a0.95,0.95 0 1,0 -1.9,0M400.3,33.5a0.95,0.95 0 1,0 1.9,0a0.95,0.95 0 1,0 -1.9,0M402.5,34.4a0.95,0.95 0 1,0 1.9,0a0.95,0.95 0 1,0 -1.9,0M404.8,35.0a0.95,0.95 0 1,0 1.9,0a0.95,0.95 0 1,0 -1.9,0M407.1,33.8a0.95,0.95 0 1,0 1.9,0a0.95,0.95 0 1,0 -1.9,0M409.3,32.4a0.95,0.95 0 1,0 1.9,0a0.95,0.95 0 1,0 -1.9,0M411.6,32.2a0.95,0.95 0 1,0 1.9,0a0.95,0.95 0 1,0 -1.9,0M413.8,31.8a0.95,0.95 0 1,0 1.9,0a0.95,0.95 0 1,0 -1.9,0M416.1,32.8a0.95,0.95 0 1,0 1.9,0a0.95,0.95 0 1,0 -1.9,0M418.3,32.5a0.95,0.95 0 1,0 1.9,0a0.95,0.95 0 1,0 -1.9,0M420.6,31.7a0.95,0.95 0 1,0 1.9,0a0.95,0.95 0 1,0 -1.9,0M422.9,32.0a0.95,0.95 0 1,0 1.9,0a0.95,0.95 0 1,0 -1.9,0M425.1,31.9a0.95,0.95 0 1,0 1.9,0a0.95,0.95 0 1,0 -1.9,0M427.4,30.8a0.95,0.95 0 1,0 1.9,0a0.95,0.95 0 1,0 -1.9,0M429.7,30.7a0.95,0.95 0 1,0 1.9,0a0.95,0.95 0 1,0 -1.9,0M431.9,30.7a0.95,0.95 0 1,0 1.9,0a0.95,0.95 0 1,0 -1.9,0M434.2,30.7a0.95,0.95 0 1,0 1.9,0a0.95,0.95 0 1,0 -1.9,0M436.4,30.7a0.95,0.95 0 1,0 1.9,0a0.95,0.95 0 1,0 -1.9,0M438.7,30.4a0.95,0.95 0 1,0 1.9,0a0.95,0.95 0 1,0 -1.9,0M440.9,30.4a0.95,0.95 0 1,0 1.9,0a0.95,0.95 0 1,0 -1.9,0M443.2,29.9a0.95,0.95 0 1,0 1.9,0a0.95,0.95 0 1,0 -1.9,0M445.5,29.5a0.95,0.95 0 1,0 1.9,0a0.95,0.95 0 1,0 -1.9,0M447.7,30.3a0.95,0.95 0 1,0 1.9,0a0.95,0.95 0 1,0 -1.9,0M450.0,30.0a0.95,0.95 0 1,0 1.9,0a0.95,0.95 0 1,0 -1.9,0M452.2,29.9a0.95,0.95 0 1,0 1.9,0a0.95,0.95 0 1,0 -1.9,0" fill="#48d820"/>
<polyline points="272.4,27.9 274.7,28.2 276.9,28.8 279.2,28.2 281.4,28.9 283.7,28.6 286.0,28.8 288.2,28.7 290.5,28.8 292.7,29.3 295.0,28.8 297.3,29.4 299.5,28.7 301.8,28.3 304.0,28.8 306.3,28.2 308.6,28.3 310.8,28.9 313.1,29.3 315.3,28.2 317.6,28.7 319.9,29.5 322.1,29.6 324.4,29.0 326.6,28.6 328.9,28.5 331.2,28.1 333.4,28.2 335.7,28.4 337.9,28.5 340.2,29.1 342.5,28.8 344.7,28.1 347.0,28.8 349.2,32.2 351.5,54.4 353.8,79.4 356.0,93.3 358.3,97.4 360.5,76.3 362.8,49.9 365.1,45.8 367.3,41.7 369.6,40.8 371.8,39.9 374.1,38.9 376.4,38.5 378.6,36.9 380.9,36.5 383.1,36.5 385.4,36.5 387.7,36.7 389.9,36.3 392.2,35.6 394.4,35.1 396.7,34.8 399.0,34.7 401.2,34.7 403.5,34.2 405.7,33.6 408.0,33.2 410.3,33.7 412.5,34.0 414.8,33.8 417.0,33.6 419.3,33.4 421.6,32.9 423.8,32.9 426.1,32.0 428.3,31.8 430.6,31.5 432.9,31.8 435.1,31.4 437.4,31.3 439.6,31.4 441.9,31.8 444.2,30.9 446.4,30.4 448.7,30.8 450.9,30.1 453.2,30.3" fill="none" stroke="#34bc24" stroke-width="1.1" stroke-linejoin="round" />
<path d="M271.4,27.9a0.95,0.95 0 1,0 1.9,0a0.95,0.95 0 1,0 -1.9,0M273.7,28.2a0.95,0.95 0 1,0 1.9,0a0.95,0.95 0 1,0 -1.9,0M276.0,28.8a0.95,0.95 0 1,0 1.9,0a0.95,0.95 0 1,0 -1.9,0M278.2,28.2a0.95,0.95 0 1,0 1.9,0a0.95,0.95 0 1,0 -1.9,0M280.5,28.9a0.95,0.95 0 1,0 1.9,0a0.95,0.95 0 1,0 -1.9,0M282.8,28.6a0.95,0.95 0 1,0 1.9,0a0.95,0.95 0 1,0 -1.9,0M285.0,28.8a0.95,0.95 0 1,0 1.9,0a0.95,0.95 0 1,0 -1.9,0M287.3,28.7a0.95,0.95 0 1,0 1.9,0a0.95,0.95 0 1,0 -1.9,0M289.5,28.8a0.95,0.95 0 1,0 1.9,0a0.95,0.95 0 1,0 -1.9,0M291.8,29.3a0.95,0.95 0 1,0 1.9,0a0.95,0.95 0 1,0 -1.9,0M294.1,28.8a0.95,0.95 0 1,0 1.9,0a0.95,0.95 0 1,0 -1.9,0M296.3,29.4a0.95,0.95 0 1,0 1.9,0a0.95,0.95 0 1,0 -1.9,0M298.6,28.7a0.95,0.95 0 1,0 1.9,0a0.95,0.95 0 1,0 -1.9,0M300.8,28.3a0.95,0.95 0 1,0 1.9,0a0.95,0.95 0 1,0 -1.9,0M303.1,28.8a0.95,0.95 0 1,0 1.9,0a0.95,0.95 0 1,0 -1.9,0M305.3,28.2a0.95,0.95 0 1,0 1.9,0a0.95,0.95 0 1,0 -1.9,0M307.6,28.3a0.95,0.95 0 1,0 1.9,0a0.95,0.95 0 1,0 -1.9,0M309.9,28.9a0.95,0.95 0 1,0 1.9,0a0.95,0.95 0 1,0 -1.9,0M312.1,29.3a0.95,0.95 0 1,0 1.9,0a0.95,0.95 0 1,0 -1.9,0M314.4,28.2a0.95,0.95 0 1,0 1.9,0a0.95,0.95 0 1,0 -1.9,0M316.6,28.7a0.95,0.95 0 1,0 1.9,0a0.95,0.95 0 1,0 -1.9,0M318.9,29.5a0.95,0.95 0 1,0 1.9,0a0.95,0.95 0 1,0 -1.9,0M321.2,29.6a0.95,0.95 0 1,0 1.9,0a0.95,0.95 0 1,0 -1.9,0M323.4,29.0a0.95,0.95 0 1,0 1.9,0a0.95,0.95 0 1,0 -1.9,0M325.7,28.6a0.95,0.95 0 1,0 1.9,0a0.95,0.95 0 1,0 -1.9,0M327.9,28.5a0.95,0.95 0 1,0 1.9,0a0.95,0.95 0 1,0 -1.9,0M330.2,28.1a0.95,0.95 0 1,0 1.9,0a0.95,0.95 0 1,0 -1.9,0M332.5,28.2a0.95,0.95 0 1,0 1.9,0a0.95,0.95 0 1,0 -1.9,0M334.7,28.4a0.95,0.95 0 1,0 1.9,0a0.95,0.95 0 1,0 -1.9,0M337.0,28.5a0.95,0.95 0 1,0 1.9,0a0.95,0.95 0 1,0 -1.9,0M339.2,29.1a0.95,0.95 0 1,0 1.9,0a0.95,0.95 0 1,0 -1.9,0M341.5,28.8a0.95,0.95 0 1,0 1.9,0a0.95,0.95 0 1,0 -1.9,0M343.8,28.1a0.95,0.95 0 1,0 1.9,0a0.95,0.95 0 1,0 -1.9,0M346.0,28.8a0.95,0.95 0 1,0 1.9,0a0.95,0.95 0 1,0 -1.9,0M348.3,32.2a0.95,0.95 0 1,0 1.9,0a0.95,0.95 0 1,0 -1.9,0M350.6,54.4a0.95,0.95 0 1,0 1.9,0a0.95,0.95 0 1,0 -1.9,0M352.8,79.4a0.95,0.95 0 1,0 1.9,0a0.95,0.95 0 1,0 -1.9,0M355.1,93.3a0.95,0.95 0 1,0 1.9,0a0.95,0.95 0 1,0 -1.9,0M357.3,97.4a0.95,0.95 0 1,0 1.9,0a0.95,0.95 0 1,0 -1.9,0M359.6,76.3a0.95,0.95 0 1,0 1.9,0a0.95,0.95 0 1,0 -1.9,0M361.8,49.9a0.95,0.95 0 1,0 1.9,0a0.95,0.95 0 1,0 -1.9,0M364.1,45.8a0.95,0.95 0 1,0 1.9,0a0.95,0.95 0 1,0 -1.9,0M366.4,41.7a0.95,0.95 0 1,0 1.9,0a0.95,0.95 0 1,0 -1.9,0M368.6,40.8a0.95,0.95 0 1,0 1.9,0a0.95,0.95 0 1,0 -1.9,0M370.9,39.9a0.95,0.95 0 1,0 1.9,0a0.95,0.95 0 1,0 -1.9,0M373.1,38.9a0.95,0.95 0 1,0 1.9,0a0.95,0.95 0 1,0 -1.9,0M375.4,38.5a0.95,0.95 0 1,0 1.9,0a0.95,0.95 0 1,0 -1.9,0M377.7,36.9a0.95,0.95 0 1,0 1.9,0a0.95,0.95 0 1,0 -1.9,0M379.9,36.5a0.95,0.95 0 1,0 1.9,0a0.95,0.95 0 1,0 -1.9,0M382.2,36.5a0.95,0.95 0 1,0 1.9,0a0.95,0.95 0 1,0 -1.9,0M384.4,36.5a0.95,0.95 0 1,0 1.9,0a0.95,0.95 0 1,0 -1.9,0M386.7,36.7a0.95,0.95 0 1,0 1.9,0a0.95,0.95 0 1,0 -1.9,0M389.0,36.3a0.95,0.95 0 1,0 1.9,0a0.95,0.95 0 1,0 -1.9,0M391.2,35.6a0.95,0.95 0 1,0 1.9,0a0.95,0.95 0 1,0 -1.9,0M393.5,35.1a0.95,0.95 0 1,0 1.9,0a0.95,0.95 0 1,0 -1.9,0M395.8,34.8a0.95,0.95 0 1,0 1.9,0a0.95,0.95 0 1,0 -1.9,0M398.0,34.7a0.95,0.95 0 1,0 1.9,0a0.95,0.95 0 1,0 -1.9,0M400.3,34.7a0.95,0.95 0 1,0 1.9,0a0.95,0.95 0 1,0 -1.9,0M402.5,34.2a0.95,0.95 0 1,0 1.9,0a0.95,0.95 0 1,0 -1.9,0M404.8,33.6a0.95,0.95 0 1,0 1.9,0a0.95,0.95 0 1,0 -1.9,0M407.1,33.2a0.95,0.95 0 1,0 1.9,0a0.95,0.95 0 1,0 -1.9,0M409.3,33.7a0.95,0.95 0 1,0 1.9,0a0.95,0.95 0 1,0 -1.9,0M411.6,34.0a0.95,0.95 0 1,0 1.9,0a0.95,0.95 0 1,0 -1.9,0M413.8,33.8a0.95,0.95 0 1,0 1.9,0a0.95,0.95 0 1,0 -1.9,0M416.1,33.6a0.95,0.95 0 1,0 1.9,0a0.95,0.95 0 1,0 -1.9,0M418.3,33.4a0.95,0.95 0 1,0 1.9,0a0.95,0.95 0 1,0 -1.9,0M420.6,32.9a0.95,0.95 0 1,0 1.9,0a0.95,0.95 0 1,0 -1.9,0M422.9,32.9a0.95,0.95 0 1,0 1.9,0a0.95,0.95 0 1,0 -1.9,0M425.1,32.0a0.95,0.95 0 1,0 1.9,0a0.95,0.95 0 1,0 -1.9,0M427.4,31.8a0.95,0.95 0 1,0 1.9,0a0.95,0.95 0 1,0 -1.9,0M429.7,31.5a0.95,0.95 0 1,0 1.9,0a0.95,0.95 0 1,0 -1.9,0M431.9,31.8a0.95,0.95 0 1,0 1.9,0a0.95,0.95 0 1,0 -1.9,0M434.2,31.4a0.95,0.95 0 1,0 1.9,0a0.95,0.95 0 1,0 -1.9,0M436.4,31.3a0.95,0.95 0 1,0 1.9,0a0.95,0.95 0 1,0 -1.9,0M438.7,31.4a0.95,0.95 0 1,0 1.9,0a0.95,0.95 0 1,0 -1.9,0M440.9,31.8a0.95,0.95 0 1,0 1.9,0a0.95,0.95 0 1,0 -1.9,0M443.2,30.9a0.95,0.95 0 1,0 1.9,0a0.95,0.95 0 1,0 -1.9,0M445.5,30.4a0.95,0.95 0 1,0 1.9,0a0.95,0.95 0 1,0 -1.9,0M447.7,30.8a0.95,0.95 0 1,0 1.9,0a0.95,0.95 0 1,0 -1.9,0M450.0,30.1a0.95,0.95 0 1,0 1.9,0a0.95,0.95 0 1,0 -1.9,0M452.2,30.3a0.95,0.95 0 1,0 1.9,0a0.95,0.95 0 1,0 -1.9,0" fill="#1c9c14"/>
<polyline points="272.4,28.4 274.7,28.5 276.9,27.8 279.2,28.5 281.4,28.4 283.7,28.1 286.0,29.3 288.2,29.3 290.5,30.6 292.7,29.8 295.0,29.1 297.3,28.9 299.5,29.5 301.8,29.1 304.0,29.1 306.3,29.1 308.6,28.5 310.8,28.6 313.1,28.4 315.3,28.0 317.6,28.7 319.9,29.0 322.1,28.9 324.4,28.4 326.6,27.6 328.9,28.4 331.2,28.5 333.4,27.8 335.7,28.2 337.9,27.8 340.2,28.2 342.5,28.5 344.7,28.7 347.0,28.8 349.2,32.3 351.5,54.9 353.8,83.0 356.0,122.7 358.3,140.4 360.5,122.7 362.8,97.5 365.1,71.3 367.3,57.1 369.6,53.5 371.8,49.7 374.1,48.8 376.4,48.3 378.6,46.0 380.9,45.2 383.1,43.8 385.4,43.2 387.7,41.4 389.9,40.9 392.2,40.4 394.4,39.8 396.7,39.0 399.0,37.8 401.2,37.9 403.5,37.9 405.7,37.1 408.0,36.0 410.3,36.0 412.5,36.0 414.8,35.5 417.0,35.2 419.3,35.5 421.6,34.4 423.8,34.0 426.1,33.0 428.3,32.9 430.6,32.6 432.9,32.3 435.1,32.2 437.4,33.1 439.6,32.5 441.9,32.2 444.2,32.9 446.4,32.1 448.7,30.8 450.9,31.0 453.2,30.4" fill="none" stroke="#265a26" stroke-width="1.1" stroke-linejoin="round" />
<path d="M271.4,28.4a0.95,0.95 0 1,0 1.9,0a0.95,0.95 0 1,0 -1.9,0M273.7,28.5a0.95,0.95 0 1,0 1.9,0a0.95,0.95 0 1,0 -1.9,0M276.0,27.8a0.95,0.95 0 1,0 1.9,0a0.95,0.95 0 1,0 -1.9,0M278.2,28.5a0.95,0.95 0 1,0 1.9,0a0.95,0.95 0 1,0 -1.9,0M280.5,28.4a0.95,0.95 0 1,0 1.9,0a0.95,0.95 0 1,0 -1.9,0M282.8,28.1a0.95,0.95 0 1,0 1.9,0a0.95,0.95 0 1,0 -1.9,0M285.0,29.3a0.95,0.95 0 1,0 1.9,0a0.95,0.95 0 1,0 -1.9,0M287.3,29.3a0.95,0.95 0 1,0 1.9,0a0.95,0.95 0 1,0 -1.9,0M289.5,30.6a0.95,0.95 0 1,0 1.9,0a0.95,0.95 0 1,0 -1.9,0M291.8,29.8a0.95,0.95 0 1,0 1.9,0a0.95,0.95 0 1,0 -1.9,0M294.1,29.1a0.95,0.95 0 1,0 1.9,0a0.95,0.95 0 1,0 -1.9,0M296.3,28.9a0.95,0.95 0 1,0 1.9,0a0.95,0.95 0 1,0 -1.9,0M298.6,29.5a0.95,0.95 0 1,0 1.9,0a0.95,0.95 0 1,0 -1.9,0M300.8,29.1a0.95,0.95 0 1,0 1.9,0a0.95,0.95 0 1,0 -1.9,0M303.1,29.1a0.95,0.95 0 1,0 1.9,0a0.95,0.95 0 1,0 -1.9,0M305.3,29.1a0.95,0.95 0 1,0 1.9,0a0.95,0.95 0 1,0 -1.9,0M307.6,28.5a0.95,0.95 0 1,0 1.9,0a0.95,0.95 0 1,0 -1.9,0M309.9,28.6a0.95,0.95 0 1,0 1.9,0a0.95,0.95 0 1,0 -1.9,0M312.1,28.4a0.95,0.95 0 1,0 1.9,0a0.95,0.95 0 1,0 -1.9,0M314.4,28.0a0.95,0.95 0 1,0 1.9,0a0.95,0.95 0 1,0 -1.9,0M316.6,28.7a0.95,0.95 0 1,0 1.9,0a0.95,0.95 0 1,0 -1.9,0M318.9,29.0a0.95,0.95 0 1,0 1.9,0a0.95,0.95 0 1,0 -1.9,0M321.2,28.9a0.95,0.95 0 1,0 1.9,0a0.95,0.95 0 1,0 -1.9,0M323.4,28.4a0.95,0.95 0 1,0 1.9,0a0.95,0.95 0 1,0 -1.9,0M325.7,27.6a0.95,0.95 0 1,0 1.9,0a0.95,0.95 0 1,0 -1.9,0M327.9,28.4a0.95,0.95 0 1,0 1.9,0a0.95,0.95 0 1,0 -1.9,0M330.2,28.5a0.95,0.95 0 1,0 1.9,0a0.95,0.95 0 1,0 -1.9,0M332.5,27.8a0.95,0.95 0 1,0 1.9,0a0.95,0.95 0 1,0 -1.9,0M334.7,28.2a0.95,0.95 0 1,0 1.9,0a0.95,0.95 0 1,0 -1.9,0M337.0,27.8a0.95,0.95 0 1,0 1.9,0a0.95,0.95 0 1,0 -1.9,0M339.2,28.2a0.95,0.95 0 1,0 1.9,0a0.95,0.95 0 1,0 -1.9,0M341.5,28.5a0.95,0.95 0 1,0 1.9,0a0.95,0.95 0 1,0 -1.9,0M343.8,28.7a0.95,0.95 0 1,0 1.9,0a0.95,0.95 0 1,0 -1.9,0M346.0,28.8a0.95,0.95 0 1,0 1.9,0a0.95,0.95 0 1,0 -1.9,0M348.3,32.3a0.95,0.95 0 1,0 1.9,0a0.95,0.95 0 1,0 -1.9,0M350.6,54.9a0.95,0.95 0 1,0 1.9,0a0.95,0.95 0 1,0 -1.9,0M352.8,83.0a0.95,0.95 0 1,0 1.9,0a0.95,0.95 0 1,0 -1.9,0M355.1,122.7a0.95,0.95 0 1,0 1.9,0a0.95,0.95 0 1,0 -1.9,0M357.3,140.4a0.95,0.95 0 1,0 1.9,0a0.95,0.95 0 1,0 -1.9,0M359.6,122.7a0.95,0.95 0 1,0 1.9,0a0.95,0.95 0 1,0 -1.9,0M361.8,97.5a0.95,0.95 0 1,0 1.9,0a0.95,0.95 0 1,0 -1.9,0M364.1,71.3a0.95,0.95 0 1,0 1.9,0a0.95,0.95 0 1,0 -1.9,0M366.4,57.1a0.95,0.95 0 1,0 1.9,0a0.95,0.95 0 1,0 -1.9,0M368.6,53.5a0.95,0.95 0 1,0 1.9,0a0.95,0.95 0 1,0 -1.9,0M370.9,49.7a0.95,0.95 0 1,0 1.9,0a0.95,0.95 0 1,0 -1.9,0M373.1,48.8a0.95,0.95 0 1,0 1.9,0a0.95,0.95 0 1,0 -1.9,0M375.4,48.3a0.95,0.95 0 1,0 1.9,0a0.95,0.95 0 1,0 -1.9,0M377.7,46.0a0.95,0.95 0 1,0 1.9,0a0.95,0.95 0 1,0 -1.9,0M379.9,45.2a0.95,0.95 0 1,0 1.9,0a0.95,0.95 0 1,0 -1.9,0M382.2,43.8a0.95,0.95 0 1,0 1.9,0a0.95,0.95 0 1,0 -1.9,0M384.4,43.2a0.95,0.95 0 1,0 1.9,0a0.95,0.95 0 1,0 -1.9,0M386.7,41.4a0.95,0.95 0 1,0 1.9,0a0.95,0.95 0 1,0 -1.9,0M389.0,40.9a0.95,0.95 0 1,0 1.9,0a0.95,0.95 0 1,0 -1.9,0M391.2,40.4a0.95,0.95 0 1,0 1.9,0a0.95,0.95 0 1,0 -1.9,0M393.5,39.8a0.95,0.95 0 1,0 1.9,0a0.95,0.95 0 1,0 -1.9,0M395.8,39.0a0.95,0.95 0 1,0 1.9,0a0.95,0.95 0 1,0 -1.9,0M398.0,37.8a0.95,0.95 0 1,0 1.9,0a0.95,0.95 0 1,0 -1.9,0M400.3,37.9a0.95,0.95 0 1,0 1.9,0a0.95,0.95 0 1,0 -1.9,0M402.5,37.9a0.95,0.95 0 1,0 1.9,0a0.95,0.95 0 1,0 -1.9,0M404.8,37.1a0.95,0.95 0 1,0 1.9,0a0.95,0.95 0 1,0 -1.9,0M407.1,36.0a0.95,0.95 0 1,0 1.9,0a0.95,0.95 0 1,0 -1.9,0M409.3,36.0a0.95,0.95 0 1,0 1.9,0a0.95,0.95 0 1,0 -1.9,0M411.6,36.0a0.95,0.95 0 1,0 1.9,0a0.95,0.95 0 1,0 -1.9,0M413.8,35.5a0.95,0.95 0 1,0 1.9,0a0.95,0.95 0 1,0 -1.9,0M416.1,35.2a0.95,0.95 0 1,0 1.9,0a0.95,0.95 0 1,0 -1.9,0M418.3,35.5a0.95,0.95 0 1,0 1.9,0a0.95,0.95 0 1,0 -1.9,0M420.6,34.4a0.95,0.95 0 1,0 1.9,0a0.95,0.95 0 1,0 -1.9,0M422.9,34.0a0.95,0.95 0 1,0 1.9,0a0.95,0.95 0 1,0 -1.9,0M425.1,33.0a0.95,0.95 0 1,0 1.9,0a0.95,0.95 0 1,0 -1.9,0M427.4,32.9a0.95,0.95 0 1,0 1.9,0a0.95,0.95 0 1,0 -1.9,0M429.7,32.6a0.95,0.95 0 1,0 1.9,0a0.95,0.95 0 1,0 -1.9,0M431.9,32.3a0.95,0.95 0 1,0 1.9,0a0.95,0.95 0 1,0 -1.9,0M434.2,32.2a0.95,0.95 0 1,0 1.9,0a0.95,0.95 0 1,0 -1.9,0M436.4,33.1a0.95,0.95 0 1,0 1.9,0a0.95,0.95 0 1,0 -1.9,0M438.7,32.5a0.95,0.95 0 1,0 1.9,0a0.95,0.95 0 1,0 -1.9,0M440.9,32.2a0.95,0.95 0 1,0 1.9,0a0.95,0.95 0 1,0 -1.9,0M443.2,32.9a0.95,0.95 0 1,0 1.9,0a0.95,0.95 0 1,0 -1.9,0M445.5,32.1a0.95,0.95 0 1,0 1.9,0a0.95,0.95 0 1,0 -1.9,0M447.7,30.8a0.95,0.95 0 1,0 1.9,0a0.95,0.95 0 1,0 -1.9,0M450.0,31.0a0.95,0.95 0 1,0 1.9,0a0.95,0.95 0 1,0 -1.9,0M452.2,30.4a0.95,0.95 0 1,0 1.9,0a0.95,0.95 0 1,0 -1.9,0" fill="#0e300e"/>
<path d="M272.4,150.9v-2.3M272.4,8.5v2.3M317.6,150.9v-2.3M317.6,8.5v2.3M362.8,150.9v-2.3M362.8,8.5v2.3M408,150.9v-2.3M408,8.5v2.3M453.2,150.9v-2.3M453.2,8.5v2.3M295,150.9v-1.3M295,8.5v1.3M340.2,150.9v-1.3M340.2,8.5v1.3M385.4,150.9v-1.3M385.4,8.5v1.3M430.6,150.9v-1.3M430.6,8.5v1.3M272.5,29.5h2.3M453.5,29.5h-2.3M272.5,65.57h2.3M453.5,65.57h-2.3M272.5,101.65h2.3M453.5,101.65h-2.3M272.5,137.72h2.3M453.5,137.72h-2.3M272.5,47.54h1.3M453.5,47.54h-1.3M272.5,83.61h1.3M453.5,83.61h-1.3M272.5,119.69h1.3M453.5,119.69h-1.3" stroke="#262626" stroke-width="1" fill="none"/>
<rect x="272.5" y="8.5" width="181" height="142.4" fill="none" stroke="#262626" stroke-width="1.1"/>
<text transform="translate(269.81 161.4) scale(0.930 1)" font-family="Liberation Sans" font-size="10" font-weight="normal" fill="#111" stroke="#111" stroke-width="0.22">1</text>
<text transform="translate(315.01 161.4) scale(0.930 1)" font-family="Liberation Sans" font-size="10" font-weight="normal" fill="#111" stroke="#111" stroke-width="0.22">2</text>
<text transform="translate(360.21 161.4) scale(0.930 1)" font-family="Liberation Sans" font-size="10" font-weight="normal" fill="#111" stroke="#111" stroke-width="0.22">3</text>
<text transform="translate(405.41 161.4) scale(0.930 1)" font-family="Liberation Sans" font-size="10" font-weight="normal" fill="#111" stroke="#111" stroke-width="0.22">4</text>
<text transform="translate(450.61 161.4) scale(0.930 1)" font-family="Liberation Sans" font-size="10" font-weight="normal" fill="#111" stroke="#111" stroke-width="0.22">5</text>
<text transform="translate(265.46 33.25) scale(0.930 1)" font-family="Liberation Sans" font-size="10" font-weight="normal" fill="#111" stroke="#111" stroke-width="0.22">0</text>
<text transform="translate(257.23 69.32) scale(0.930 1)" font-family="Liberation Sans" font-size="10" font-weight="normal" fill="#111" stroke="#111" stroke-width="0.22">-13</text>
<text transform="translate(257.23 105.4) scale(0.930 1)" font-family="Liberation Sans" font-size="10" font-weight="normal" fill="#111" stroke="#111" stroke-width="0.22">-26</text>
<text transform="translate(257.28 141.47) scale(0.930 1)" font-family="Liberation Sans" font-size="10" font-weight="normal" fill="#111" stroke="#111" stroke-width="0.22">-39</text>
<text transform="translate(345.7 172) scale(0.953 1)" font-family="Liberation Sans" font-size="11" font-weight="bold" fill="#000">Time (s)</text>
<text transform="translate(252.3 104.1) rotate(-90) scale(1.006 1) translate(-0.44 0)" font-family="Liberation Sans" font-size="11" font-weight="bold" fill="#000">ΔPSC (%)</text>
<line x1="377.8" y1="111.4" x2="397.7" y2="111.4" stroke="#265a26" stroke-width="1.3" />
<path d="M386.3,111.4a1.4,1.4 0 1,0 2.8,0a1.4,1.4 0 1,0 -2.8,0" fill="#0e300e"/>
<text transform="translate(400.9 114.9) scale(0.946 1)" font-family="Liberation Sans" font-size="9.8" font-weight="normal" fill="#111" stroke="#111" stroke-width="0.22">V<tspan font-size="6.47" dy="3.23">GS1</tspan><tspan dy="-3.23"> = -1V</tspan></text>
<line x1="377.8" y1="125.8" x2="397.7" y2="125.8" stroke="#34bc24" stroke-width="1.3" />
<path d="M386.3,125.8a1.4,1.4 0 1,0 2.8,0a1.4,1.4 0 1,0 -2.8,0" fill="#1c9c14"/>
<text transform="translate(400.9 129.15) scale(0.946 1)" font-family="Liberation Sans" font-size="9.8" font-weight="normal" fill="#111" stroke="#111" stroke-width="0.22">V<tspan font-size="6.47" dy="3.23">GS1</tspan><tspan dy="-3.23"> = -2V</tspan></text>
<line x1="377.8" y1="140.2" x2="397.7" y2="140.2" stroke="#68ec3c" stroke-width="1.3" />
<path d="M386.3,140.2a1.4,1.4 0 1,0 2.8,0a1.4,1.4 0 1,0 -2.8,0" fill="#48d820"/>
<text transform="translate(400.9 143.4) scale(0.946 1)" font-family="Liberation Sans" font-size="9.8" font-weight="normal" fill="#111" stroke="#111" stroke-width="0.22">V<tspan font-size="6.47" dy="3.23">GS1</tspan><tspan dy="-3.23"> = -3V</tspan></text>
<text transform="translate(400.3 100.1) scale(1.039 1)" font-family="Liberation Sans" font-size="9.4" font-weight="normal" fill="#111" stroke="#111" stroke-width="0.22">τ = 200 ms</text>
<text transform="translate(281 140.8) scale(0.930 1)" font-family="Liberation Sans" font-size="9.9" font-weight="normal" fill="#111" stroke="#111" stroke-width="0.22">V<tspan font-size="6.53" dy="3.27">DS</tspan><tspan dy="-3.27"> = 2 V</tspan></text>
<text transform="translate(250.2 15.3)" font-family="Liberation Serif" font-size="17" font-weight="bold" fill="#000">b)</text>
<polyline points="499.3,28.8 500.6,25.2 501.9,24.9 503.2,23.2 504.5,25.1 505.8,24.0 507.0,25.0 508.3,24.9 509.6,24.4 510.9,26.5 512.2,27.2 513.5,26.2 514.8,24.5 516.1,23.7 517.4,25.5 518.6,29.3 519.9,26.5 521.2,25.0 522.5,24.7 523.8,24.1 525.1,24.1 526.4,25.1 527.7,27.9 529.0,26.7 530.3,25.4 531.5,23.2 532.8,25.2 534.1,25.4 535.4,23.7 536.7,23.2 538.0,24.5 539.3,26.6 540.6,26.8 541.9,26.2 543.2,25.2 544.5,25.8 545.7,25.5 547.0,28.7 548.3,24.9 549.6,24.7 550.9,27.0 552.2,25.5 553.5,27.4 554.8,25.8 556.1,25.4 557.4,24.4 558.6,22.5 559.9,22.4 561.2,27.0 562.5,25.9 563.8,25.2 565.1,25.1 566.4,24.3 567.7,24.8 569.0,40.8 570.2,81.0 571.5,117.4 572.8,136.7 574.1,114.6 575.4,82.6 576.7,69.1 578.0,62.7 579.3,56.8 580.6,52.7 581.9,50.3 583.1,52.2 584.4,49.7 585.7,48.3 587.0,46.8 588.3,46.0 589.6,45.8 590.9,46.2 592.2,41.4 593.5,43.7 594.8,42.1 596.0,40.9 597.3,44.3 598.6,41.5 599.9,43.4 601.2,42.4 602.5,38.8 603.8,39.6 605.1,40.0 606.4,38.6 607.7,34.6 609.0,36.2 610.2,37.0 611.5,35.8 612.8,39.8 614.1,38.0 615.4,37.2 616.7,37.0 618.0,36.1 619.3,35.8 620.6,37.0 621.9,37.7 623.1,36.7 624.4,36.9 625.7,35.0 627.0,37.1 628.3,36.0 629.6,36.8 630.9,35.3 632.2,35.3 633.5,36.2 634.8,34.3 636.0,39.1 637.3,36.8 638.6,35.9 639.9,34.4 641.2,37.3 642.5,37.6 643.8,35.8 645.1,32.4 646.4,32.2 647.6,33.5 648.9,32.0 650.2,30.2 651.5,29.2 652.8,29.2 654.1,30.1 655.4,29.4 656.7,30.1 658.0,34.4 659.3,34.3 660.5,30.0 661.8,30.5 663.1,30.1 664.4,29.6 665.7,31.1 667.0,29.5 668.3,28.8 669.6,28.4 670.9,28.6 672.2,30.7 673.5,30.6 674.7,27.3 676.0,27.4 677.3,26.8 678.6,28.9 679.9,28.7" fill="none" stroke="#2cb8f4" stroke-width="1.2" stroke-linejoin="round" />
<path d="M498.2,28.8a1.05,1.05 0 1,0 2.1,0a1.05,1.05 0 1,0 -2.1,0M499.5,25.2a1.05,1.05 0 1,0 2.1,0a1.05,1.05 0 1,0 -2.1,0M500.8,24.9a1.05,1.05 0 1,0 2.1,0a1.05,1.05 0 1,0 -2.1,0M502.1,23.2a1.05,1.05 0 1,0 2.1,0a1.05,1.05 0 1,0 -2.1,0M503.4,25.1a1.05,1.05 0 1,0 2.1,0a1.05,1.05 0 1,0 -2.1,0M504.7,24.0a1.05,1.05 0 1,0 2.1,0a1.05,1.05 0 1,0 -2.1,0M506.0,25.0a1.05,1.05 0 1,0 2.1,0a1.05,1.05 0 1,0 -2.1,0M507.3,24.9a1.05,1.05 0 1,0 2.1,0a1.05,1.05 0 1,0 -2.1,0M508.6,24.4a1.05,1.05 0 1,0 2.1,0a1.05,1.05 0 1,0 -2.1,0M509.9,26.5a1.05,1.05 0 1,0 2.1,0a1.05,1.05 0 1,0 -2.1,0M511.2,27.2a1.05,1.05 0 1,0 2.1,0a1.05,1.05 0 1,0 -2.1,0M512.4,26.2a1.05,1.05 0 1,0 2.1,0a1.05,1.05 0 1,0 -2.1,0M513.7,24.5a1.05,1.05 0 1,0 2.1,0a1.05,1.05 0 1,0 -2.1,0M515.0,23.7a1.05,1.05 0 1,0 2.1,0a1.05,1.05 0 1,0 -2.1,0M516.3,25.5a1.05,1.05 0 1,0 2.1,0a1.05,1.05 0 1,0 -2.1,0M517.6,29.3a1.05,1.05 0 1,0 2.1,0a1.05,1.05 0 1,0 -2.1,0M518.9,26.5a1.05,1.05 0 1,0 2.1,0a1.05,1.05 0 1,0 -2.1,0M520.2,25.0a1.05,1.05 0 1,0 2.1,0a1.05,1.05 0 1,0 -2.1,0M521.5,24.7a1.05,1.05 0 1,0 2.1,0a1.05,1.05 0 1,0 -2.1,0M522.8,24.1a1.05,1.05 0 1,0 2.1,0a1.05,1.05 0 1,0 -2.1,0M524.1,24.1a1.05,1.05 0 1,0 2.1,0a1.05,1.05 0 1,0 -2.1,0M525.3,25.1a1.05,1.05 0 1,0 2.1,0a1.05,1.05 0 1,0 -2.1,0M526.6,27.9a1.05,1.05 0 1,0 2.1,0a1.05,1.05 0 1,0 -2.1,0M527.9,26.7a1.05,1.05 0 1,0 2.1,0a1.05,1.05 0 1,0 -2.1,0M529.2,25.4a1.05,1.05 0 1,0 2.1,0a1.05,1.05 0 1,0 -2.1,0M530.5,23.2a1.05,1.05 0 1,0 2.1,0a1.05,1.05 0 1,0 -2.1,0M531.8,25.2a1.05,1.05 0 1,0 2.1,0a1.05,1.05 0 1,0 -2.1,0M533.1,25.4a1.05,1.05 0 1,0 2.1,0a1.05,1.05 0 1,0 -2.1,0M534.4,23.7a1.05,1.05 0 1,0 2.1,0a1.05,1.05 0 1,0 -2.1,0M535.7,23.2a1.05,1.05 0 1,0 2.1,0a1.05,1.05 0 1,0 -2.1,0M537.0,24.5a1.05,1.05 0 1,0 2.1,0a1.05,1.05 0 1,0 -2.1,0M538.2,26.6a1.05,1.05 0 1,0 2.1,0a1.05,1.05 0 1,0 -2.1,0M539.5,26.8a1.05,1.05 0 1,0 2.1,0a1.05,1.05 0 1,0 -2.1,0M540.8,26.2a1.05,1.05 0 1,0 2.1,0a1.05,1.05 0 1,0 -2.1,0M542.1,25.2a1.05,1.05 0 1,0 2.1,0a1.05,1.05 0 1,0 -2.1,0M543.4,25.8a1.05,1.05 0 1,0 2.1,0a1.05,1.05 0 1,0 -2.1,0M544.7,25.5a1.05,1.05 0 1,0 2.1,0a1.05,1.05 0 1,0 -2.1,0M546.0,28.7a1.05,1.05 0 1,0 2.1,0a1.05,1.05 0 1,0 -2.1,0M547.3,24.9a1.05,1.05 0 1,0 2.1,0a1.05,1.05 0 1,0 -2.1,0M548.6,24.7a1.05,1.05 0 1,0 2.1,0a1.05,1.05 0 1,0 -2.1,0M549.9,27.0a1.05,1.05 0 1,0 2.1,0a1.05,1.05 0 1,0 -2.1,0M551.1,25.5a1.05,1.05 0 1,0 2.1,0a1.05,1.05 0 1,0 -2.1,0M552.4,27.4a1.05,1.05 0 1,0 2.1,0a1.05,1.05 0 1,0 -2.1,0M553.7,25.8a1.05,1.05 0 1,0 2.1,0a1.05,1.05 0 1,0 -2.1,0M555.0,25.4a1.05,1.05 0 1,0 2.1,0a1.05,1.05 0 1,0 -2.1,0M556.3,24.4a1.05,1.05 0 1,0 2.1,0a1.05,1.05 0 1,0 -2.1,0M557.6,22.5a1.05,1.05 0 1,0 2.1,0a1.05,1.05 0 1,0 -2.1,0M558.9,22.4a1.05,1.05 0 1,0 2.1,0a1.05,1.05 0 1,0 -2.1,0M560.2,27.0a1.05,1.05 0 1,0 2.1,0a1.05,1.05 0 1,0 -2.1,0M561.5,25.9a1.05,1.05 0 1,0 2.1,0a1.05,1.05 0 1,0 -2.1,0M562.8,25.2a1.05,1.05 0 1,0 2.1,0a1.05,1.05 0 1,0 -2.1,0M564.0,25.1a1.05,1.05 0 1,0 2.1,0a1.05,1.05 0 1,0 -2.1,0M565.3,24.3a1.05,1.05 0 1,0 2.1,0a1.05,1.05 0 1,0 -2.1,0M566.6,24.8a1.05,1.05 0 1,0 2.1,0a1.05,1.05 0 1,0 -2.1,0M567.9,40.8a1.05,1.05 0 1,0 2.1,0a1.05,1.05 0 1,0 -2.1,0M569.2,81.0a1.05,1.05 0 1,0 2.1,0a1.05,1.05 0 1,0 -2.1,0M570.5,117.4a1.05,1.05 0 1,0 2.1,0a1.05,1.05 0 1,0 -2.1,0M571.8,136.7a1.05,1.05 0 1,0 2.1,0a1.05,1.05 0 1,0 -2.1,0M573.1,114.6a1.05,1.05 0 1,0 2.1,0a1.05,1.05 0 1,0 -2.1,0M574.4,82.6a1.05,1.05 0 1,0 2.1,0a1.05,1.05 0 1,0 -2.1,0M575.7,69.1a1.05,1.05 0 1,0 2.1,0a1.05,1.05 0 1,0 -2.1,0M576.9,62.7a1.05,1.05 0 1,0 2.1,0a1.05,1.05 0 1,0 -2.1,0M578.2,56.8a1.05,1.05 0 1,0 2.1,0a1.05,1.05 0 1,0 -2.1,0M579.5,52.7a1.05,1.05 0 1,0 2.1,0a1.05,1.05 0 1,0 -2.1,0M580.8,50.3a1.05,1.05 0 1,0 2.1,0a1.05,1.05 0 1,0 -2.1,0M582.1,52.2a1.05,1.05 0 1,0 2.1,0a1.05,1.05 0 1,0 -2.1,0M583.4,49.7a1.05,1.05 0 1,0 2.1,0a1.05,1.05 0 1,0 -2.1,0M584.7,48.3a1.05,1.05 0 1,0 2.1,0a1.05,1.05 0 1,0 -2.1,0M586.0,46.8a1.05,1.05 0 1,0 2.1,0a1.05,1.05 0 1,0 -2.1,0M587.3,46.0a1.05,1.05 0 1,0 2.1,0a1.05,1.05 0 1,0 -2.1,0M588.6,45.8a1.05,1.05 0 1,0 2.1,0a1.05,1.05 0 1,0 -2.1,0M589.8,46.2a1.05,1.05 0 1,0 2.1,0a1.05,1.05 0 1,0 -2.1,0M591.1,41.4a1.05,1.05 0 1,0 2.1,0a1.05,1.05 0 1,0 -2.1,0M592.4,43.7a1.05,1.05 0 1,0 2.1,0a1.05,1.05 0 1,0 -2.1,0M593.7,42.1a1.05,1.05 0 1,0 2.1,0a1.05,1.05 0 1,0 -2.1,0M595.0,40.9a1.05,1.05 0 1,0 2.1,0a1.05,1.05 0 1,0 -2.1,0M596.3,44.3a1.05,1.05 0 1,0 2.1,0a1.05,1.05 0 1,0 -2.1,0M597.6,41.5a1.05,1.05 0 1,0 2.1,0a1.05,1.05 0 1,0 -2.1,0M598.9,43.4a1.05,1.05 0 1,0 2.1,0a1.05,1.05 0 1,0 -2.1,0M600.2,42.4a1.05,1.05 0 1,0 2.1,0a1.05,1.05 0 1,0 -2.1,0M601.5,38.8a1.05,1.05 0 1,0 2.1,0a1.05,1.05 0 1,0 -2.1,0M602.7,39.6a1.05,1.05 0 1,0 2.1,0a1.05,1.05 0 1,0 -2.1,0M604.0,40.0a1.05,1.05 0 1,0 2.1,0a1.05,1.05 0 1,0 -2.1,0M605.3,38.6a1.05,1.05 0 1,0 2.1,0a1.05,1.05 0 1,0 -2.1,0M606.6,34.6a1.05,1.05 0 1,0 2.1,0a1.05,1.05 0 1,0 -2.1,0M607.9,36.2a1.05,1.05 0 1,0 2.1,0a1.05,1.05 0 1,0 -2.1,0M609.2,37.0a1.05,1.05 0 1,0 2.1,0a1.05,1.05 0 1,0 -2.1,0M610.5,35.8a1.05,1.05 0 1,0 2.1,0a1.05,1.05 0 1,0 -2.1,0M611.8,39.8a1.05,1.05 0 1,0 2.1,0a1.05,1.05 0 1,0 -2.1,0M613.1,38.0a1.05,1.05 0 1,0 2.1,0a1.05,1.05 0 1,0 -2.1,0M614.4,37.2a1.05,1.05 0 1,0 2.1,0a1.05,1.05 0 1,0 -2.1,0M615.6,37.0a1.05,1.05 0 1,0 2.1,0a1.05,1.05 0 1,0 -2.1,0M616.9,36.1a1.05,1.05 0 1,0 2.1,0a1.05,1.05 0 1,0 -2.1,0M618.2,35.8a1.05,1.05 0 1,0 2.1,0a1.05,1.05 0 1,0 -2.1,0M619.5,37.0a1.05,1.05 0 1,0 2.1,0a1.05,1.05 0 1,0 -2.1,0M620.8,37.7a1.05,1.05 0 1,0 2.1,0a1.05,1.05 0 1,0 -2.1,0M622.1,36.7a1.05,1.05 0 1,0 2.1,0a1.05,1.05 0 1,0 -2.1,0M623.4,36.9a1.05,1.05 0 1,0 2.1,0a1.05,1.05 0 1,0 -2.1,0M624.7,35.0a1.05,1.05 0 1,0 2.1,0a1.05,1.05 0 1,0 -2.1,0M626.0,37.1a1.05,1.05 0 1,0 2.1,0a1.05,1.05 0 1,0 -2.1,0M627.2,36.0a1.05,1.05 0 1,0 2.1,0a1.05,1.05 0 1,0 -2.1,0M628.5,36.8a1.05,1.05 0 1,0 2.1,0a1.05,1.05 0 1,0 -2.1,0M629.8,35.3a1.05,1.05 0 1,0 2.1,0a1.05,1.05 0 1,0 -2.1,0M631.1,35.3a1.05,1.05 0 1,0 2.1,0a1.05,1.05 0 1,0 -2.1,0M632.4,36.2a1.05,1.05 0 1,0 2.1,0a1.05,1.05 0 1,0 -2.1,0M633.7,34.3a1.05,1.05 0 1,0 2.1,0a1.05,1.05 0 1,0 -2.1,0M635.0,39.1a1.05,1.05 0 1,0 2.1,0a1.05,1.05 0 1,0 -2.1,0M636.3,36.8a1.05,1.05 0 1,0 2.1,0a1.05,1.05 0 1,0 -2.1,0M637.6,35.9a1.05,1.05 0 1,0 2.1,0a1.05,1.05 0 1,0 -2.1,0M638.9,34.4a1.05,1.05 0 1,0 2.1,0a1.05,1.05 0 1,0 -2.1,0M640.2,37.3a1.05,1.05 0 1,0 2.1,0a1.05,1.05 0 1,0 -2.1,0M641.4,37.6a1.05,1.05 0 1,0 2.1,0a1.05,1.05 0 1,0 -2.1,0M642.7,35.8a1.05,1.05 0 1,0 2.1,0a1.05,1.05 0 1,0 -2.1,0M644.0,32.4a1.05,1.05 0 1,0 2.1,0a1.05,1.05 0 1,0 -2.1,0M645.3,32.2a1.05,1.05 0 1,0 2.1,0a1.05,1.05 0 1,0 -2.1,0M646.6,33.5a1.05,1.05 0 1,0 2.1,0a1.05,1.05 0 1,0 -2.1,0M647.9,32.0a1.05,1.05 0 1,0 2.1,0a1.05,1.05 0 1,0 -2.1,0M649.2,30.2a1.05,1.05 0 1,0 2.1,0a1.05,1.05 0 1,0 -2.1,0M650.5,29.2a1.05,1.05 0 1,0 2.1,0a1.05,1.05 0 1,0 -2.1,0M651.8,29.2a1.05,1.05 0 1,0 2.1,0a1.05,1.05 0 1,0 -2.1,0M653.1,30.1a1.05,1.05 0 1,0 2.1,0a1.05,1.05 0 1,0 -2.1,0M654.3,29.4a1.05,1.05 0 1,0 2.1,0a1.05,1.05 0 1,0 -2.1,0M655.6,30.1a1.05,1.05 0 1,0 2.1,0a1.05,1.05 0 1,0 -2.1,0M656.9,34.4a1.05,1.05 0 1,0 2.1,0a1.05,1.05 0 1,0 -2.1,0M658.2,34.3a1.05,1.05 0 1,0 2.1,0a1.05,1.05 0 1,0 -2.1,0M659.5,30.0a1.05,1.05 0 1,0 2.1,0a1.05,1.05 0 1,0 -2.1,0M660.8,30.5a1.05,1.05 0 1,0 2.1,0a1.05,1.05 0 1,0 -2.1,0M662.1,30.1a1.05,1.05 0 1,0 2.1,0a1.05,1.05 0 1,0 -2.1,0M663.4,29.6a1.05,1.05 0 1,0 2.1,0a1.05,1.05 0 1,0 -2.1,0M664.7,31.1a1.05,1.05 0 1,0 2.1,0a1.05,1.05 0 1,0 -2.1,0M666.0,29.5a1.05,1.05 0 1,0 2.1,0a1.05,1.05 0 1,0 -2.1,0M667.2,28.8a1.05,1.05 0 1,0 2.1,0a1.05,1.05 0 1,0 -2.1,0M668.5,28.4a1.05,1.05 0 1,0 2.1,0a1.05,1.05 0 1,0 -2.1,0M669.8,28.6a1.05,1.05 0 1,0 2.1,0a1.05,1.05 0 1,0 -2.1,0M671.1,30.7a1.05,1.05 0 1,0 2.1,0a1.05,1.05 0 1,0 -2.1,0M672.4,30.6a1.05,1.05 0 1,0 2.1,0a1.05,1.05 0 1,0 -2.1,0M673.7,27.3a1.05,1.05 0 1,0 2.1,0a1.05,1.05 0 1,0 -2.1,0M675.0,27.4a1.05,1.05 0 1,0 2.1,0a1.05,1.05 0 1,0 -2.1,0M676.3,26.8a1.05,1.05 0 1,0 2.1,0a1.05,1.05 0 1,0 -2.1,0M677.6,28.9a1.05,1.05 0 1,0 2.1,0a1.05,1.05 0 1,0 -2.1,0M678.9,28.7a1.05,1.05 0 1,0 2.1,0a1.05,1.05 0 1,0 -2.1,0" fill="#18a0e8"/>
<polyline points="499.3,28.5 500.6,28.0 501.9,25.4 503.2,28.3 504.5,29.2 505.8,30.3 507.0,28.2 508.3,30.6 509.6,30.9 510.9,31.8 512.2,34.4 513.5,33.6 514.8,30.5 516.1,27.4 517.4,24.2 518.6,26.0 519.9,28.9 521.2,27.8 522.5,23.9 523.8,24.3 525.1,26.1 526.4,28.6 527.7,28.5 529.0,27.2 530.3,26.4 531.5,24.1 532.8,24.1 534.1,24.1 535.4,23.4 536.7,24.3 538.0,23.8 539.3,25.0 540.6,27.3 541.9,27.2 543.2,26.9 544.5,25.9 545.7,23.9 547.0,25.4 548.3,27.1 549.6,25.6 550.9,28.6 552.2,27.0 553.5,27.3 554.8,26.2 556.1,24.3 557.4,28.5 558.6,25.0 559.9,26.7 561.2,24.9 562.5,24.8 563.8,22.5 565.1,21.7 566.4,22.8 567.7,26.0 569.0,40.6 570.2,76.6 571.5,108.4 572.8,119.6 574.1,99.3 575.4,67.4 576.7,57.9 578.0,51.4 579.3,45.5 580.6,42.0 581.9,36.6 583.1,38.2 584.4,36.0 585.7,37.8 587.0,39.4 588.3,38.4 589.6,36.1 590.9,37.8 592.2,36.7 593.5,34.0 594.8,34.2 596.0,37.0 597.3,35.3 598.6,35.4 599.9,34.6 601.2,32.3 602.5,33.2 603.8,34.8 605.1,35.1 606.4,34.6 607.7,31.5 609.0,35.4 610.2,35.9 611.5,36.6 612.8,37.1 614.1,34.7 615.4,33.6 616.7,34.3 618.0,36.4 619.3,31.9 620.6,32.4 621.9,31.6 623.1,33.1 624.4,34.8 625.7,32.6 627.0,30.2 628.3,31.2 629.6,30.8 630.9,28.6 632.2,31.3 633.5,30.0 634.8,31.1 636.0,28.4 637.3,30.9 638.6,27.7 639.9,30.2 641.2,26.6 642.5,29.9 643.8,28.1 645.1,25.5 646.4,26.4 647.6,27.3 648.9,25.4 650.2,25.2 651.5,26.1 652.8,25.5 654.1,20.7 655.4,23.0 656.7,25.0 658.0,25.4 659.3,26.5 660.5,24.3 661.8,28.3 663.1,26.9 664.4,25.7 665.7,26.3 667.0,26.2 668.3,24.8 669.6,23.2 670.9,25.0 672.2,24.6 673.5,20.9 674.7,20.7 676.0,22.9 677.3,23.1 678.6,23.3 679.9,23.8" fill="none" stroke="#f03434" stroke-width="1.2" stroke-linejoin="round" />
<path d="M498.2,28.5a1.05,1.05 0 1,0 2.1,0a1.05,1.05 0 1,0 -2.1,0M499.5,28.0a1.05,1.05 0 1,0 2.1,0a1.05,1.05 0 1,0 -2.1,0M500.8,25.4a1.05,1.05 0 1,0 2.1,0a1.05,1.05 0 1,0 -2.1,0M502.1,28.3a1.05,1.05 0 1,0 2.1,0a1.05,1.05 0 1,0 -2.1,0M503.4,29.2a1.05,1.05 0 1,0 2.1,0a1.05,1.05 0 1,0 -2.1,0M504.7,30.3a1.05,1.05 0 1,0 2.1,0a1.05,1.05 0 1,0 -2.1,0M506.0,28.2a1.05,1.05 0 1,0 2.1,0a1.05,1.05 0 1,0 -2.1,0M507.3,30.6a1.05,1.05 0 1,0 2.1,0a1.05,1.05 0 1,0 -2.1,0M508.6,30.9a1.05,1.05 0 1,0 2.1,0a1.05,1.05 0 1,0 -2.1,0M509.9,31.8a1.05,1.05 0 1,0 2.1,0a1.05,1.05 0 1,0 -2.1,0M511.2,34.4a1.05,1.05 0 1,0 2.1,0a1.05,1.05 0 1,0 -2.1,0M512.4,33.6a1.05,1.05 0 1,0 2.1,0a1.05,1.05 0 1,0 -2.1,0M513.7,30.5a1.05,1.05 0 1,0 2.1,0a1.05,1.05 0 1,0 -2.1,0M515.0,27.4a1.05,1.05 0 1,0 2.1,0a1.05,1.05 0 1,0 -2.1,0M516.3,24.2a1.05,1.05 0 1,0 2.1,0a1.05,1.05 0 1,0 -2.1,0M517.6,26.0a1.05,1.05 0 1,0 2.1,0a1.05,1.05 0 1,0 -2.1,0M518.9,28.9a1.05,1.05 0 1,0 2.1,0a1.05,1.05 0 1,0 -2.1,0M520.2,27.8a1.05,1.05 0 1,0 2.1,0a1.05,1.05 0 1,0 -2.1,0M521.5,23.9a1.05,1.05 0 1,0 2.1,0a1.05,1.05 0 1,0 -2.1,0M522.8,24.3a1.05,1.05 0 1,0 2.1,0a1.05,1.05 0 1,0 -2.1,0M524.1,26.1a1.05,1.05 0 1,0 2.1,0a1.05,1.05 0 1,0 -2.1,0M525.3,28.6a1.05,1.05 0 1,0 2.1,0a1.05,1.05 0 1,0 -2.1,0M526.6,28.5a1.05,1.05 0 1,0 2.1,0a1.05,1.05 0 1,0 -2.1,0M527.9,27.2a1.05,1.05 0 1,0 2.1,0a1.05,1.05 0 1,0 -2.1,0M529.2,26.4a1.05,1.05 0 1,0 2.1,0a1.05,1.05 0 1,0 -2.1,0M530.5,24.1a1.05,1.05 0 1,0 2.1,0a1.05,1.05 0 1,0 -2.1,0M531.8,24.1a1.05,1.05 0 1,0 2.1,0a1.05,1.05 0 1,0 -2.1,0M533.1,24.1a1.05,1.05 0 1,0 2.1,0a1.05,1.05 0 1,0 -2.1,0M534.4,23.4a1.05,1.05 0 1,0 2.1,0a1.05,1.05 0 1,0 -2.1,0M535.7,24.3a1.05,1.05 0 1,0 2.1,0a1.05,1.05 0 1,0 -2.1,0M537.0,23.8a1.05,1.05 0 1,0 2.1,0a1.05,1.05 0 1,0 -2.1,0M538.2,25.0a1.05,1.05 0 1,0 2.1,0a1.05,1.05 0 1,0 -2.1,0M539.5,27.3a1.05,1.05 0 1,0 2.1,0a1.05,1.05 0 1,0 -2.1,0M540.8,27.2a1.05,1.05 0 1,0 2.1,0a1.05,1.05 0 1,0 -2.1,0M542.1,26.9a1.05,1.05 0 1,0 2.1,0a1.05,1.05 0 1,0 -2.1,0M543.4,25.9a1.05,1.05 0 1,0 2.1,0a1.05,1.05 0 1,0 -2.1,0M544.7,23.9a1.05,1.05 0 1,0 2.1,0a1.05,1.05 0 1,0 -2.1,0M546.0,25.4a1.05,1.05 0 1,0 2.1,0a1.05,1.05 0 1,0 -2.1,0M547.3,27.1a1.05,1.05 0 1,0 2.1,0a1.05,1.05 0 1,0 -2.1,0M548.6,25.6a1.05,1.05 0 1,0 2.1,0a1.05,1.05 0 1,0 -2.1,0M549.9,28.6a1.05,1.05 0 1,0 2.1,0a1.05,1.05 0 1,0 -2.1,0M551.1,27.0a1.05,1.05 0 1,0 2.1,0a1.05,1.05 0 1,0 -2.1,0M552.4,27.3a1.05,1.05 0 1,0 2.1,0a1.05,1.05 0 1,0 -2.1,0M553.7,26.2a1.05,1.05 0 1,0 2.1,0a1.05,1.05 0 1,0 -2.1,0M555.0,24.3a1.05,1.05 0 1,0 2.1,0a1.05,1.05 0 1,0 -2.1,0M556.3,28.5a1.05,1.05 0 1,0 2.1,0a1.05,1.05 0 1,0 -2.1,0M557.6,25.0a1.05,1.05 0 1,0 2.1,0a1.05,1.05 0 1,0 -2.1,0M558.9,26.7a1.05,1.05 0 1,0 2.1,0a1.05,1.05 0 1,0 -2.1,0M560.2,24.9a1.05,1.05 0 1,0 2.1,0a1.05,1.05 0 1,0 -2.1,0M561.5,24.8a1.05,1.05 0 1,0 2.1,0a1.05,1.05 0 1,0 -2.1,0M562.8,22.5a1.05,1.05 0 1,0 2.1,0a1.05,1.05 0 1,0 -2.1,0M564.0,21.7a1.05,1.05 0 1,0 2.1,0a1.05,1.05 0 1,0 -2.1,0M565.3,22.8a1.05,1.05 0 1,0 2.1,0a1.05,1.05 0 1,0 -2.1,0M566.6,26.0a1.05,1.05 0 1,0 2.1,0a1.05,1.05 0 1,0 -2.1,0M567.9,40.6a1.05,1.05 0 1,0 2.1,0a1.05,1.05 0 1,0 -2.1,0M569.2,76.6a1.05,1.05 0 1,0 2.1,0a1.05,1.05 0 1,0 -2.1,0M570.5,108.4a1.05,1.05 0 1,0 2.1,0a1.05,1.05 0 1,0 -2.1,0M571.8,119.6a1.05,1.05 0 1,0 2.1,0a1.05,1.05 0 1,0 -2.1,0M573.1,99.3a1.05,1.05 0 1,0 2.1,0a1.05,1.05 0 1,0 -2.1,0M574.4,67.4a1.05,1.05 0 1,0 2.1,0a1.05,1.05 0 1,0 -2.1,0M575.7,57.9a1.05,1.05 0 1,0 2.1,0a1.05,1.05 0 1,0 -2.1,0M576.9,51.4a1.05,1.05 0 1,0 2.1,0a1.05,1.05 0 1,0 -2.1,0M578.2,45.5a1.05,1.05 0 1,0 2.1,0a1.05,1.05 0 1,0 -2.1,0M579.5,42.0a1.05,1.05 0 1,0 2.1,0a1.05,1.05 0 1,0 -2.1,0M580.8,36.6a1.05,1.05 0 1,0 2.1,0a1.05,1.05 0 1,0 -2.1,0M582.1,38.2a1.05,1.05 0 1,0 2.1,0a1.05,1.05 0 1,0 -2.1,0M583.4,36.0a1.05,1.05 0 1,0 2.1,0a1.05,1.05 0 1,0 -2.1,0M584.7,37.8a1.05,1.05 0 1,0 2.1,0a1.05,1.05 0 1,0 -2.1,0M586.0,39.4a1.05,1.05 0 1,0 2.1,0a1.05,1.05 0 1,0 -2.1,0M587.3,38.4a1.05,1.05 0 1,0 2.1,0a1.05,1.05 0 1,0 -2.1,0M588.6,36.1a1.05,1.05 0 1,0 2.1,0a1.05,1.05 0 1,0 -2.1,0M589.8,37.8a1.05,1.05 0 1,0 2.1,0a1.05,1.05 0 1,0 -2.1,0M591.1,36.7a1.05,1.05 0 1,0 2.1,0a1.05,1.05 0 1,0 -2.1,0M592.4,34.0a1.05,1.05 0 1,0 2.1,0a1.05,1.05 0 1,0 -2.1,0M593.7,34.2a1.05,1.05 0 1,0 2.1,0a1.05,1.05 0 1,0 -2.1,0M595.0,37.0a1.05,1.05 0 1,0 2.1,0a1.05,1.05 0 1,0 -2.1,0M596.3,35.3a1.05,1.05 0 1,0 2.1,0a1.05,1.05 0 1,0 -2.1,0M597.6,35.4a1.05,1.05 0 1,0 2.1,0a1.05,1.05 0 1,0 -2.1,0M598.9,34.6a1.05,1.05 0 1,0 2.1,0a1.05,1.05 0 1,0 -2.1,0M600.2,32.3a1.05,1.05 0 1,0 2.1,0a1.05,1.05 0 1,0 -2.1,0M601.5,33.2a1.05,1.05 0 1,0 2.1,0a1.05,1.05 0 1,0 -2.1,0M602.7,34.8a1.05,1.05 0 1,0 2.1,0a1.05,1.05 0 1,0 -2.1,0M604.0,35.1a1.05,1.05 0 1,0 2.1,0a1.05,1.05 0 1,0 -2.1,0M605.3,34.6a1.05,1.05 0 1,0 2.1,0a1.05,1.05 0 1,0 -2.1,0M606.6,31.5a1.05,1.05 0 1,0 2.1,0a1.05,1.05 0 1,0 -2.1,0M607.9,35.4a1.05,1.05 0 1,0 2.1,0a1.05,1.05 0 1,0 -2.1,0M609.2,35.9a1.05,1.05 0 1,0 2.1,0a1.05,1.05 0 1,0 -2.1,0M610.5,36.6a1.05,1.05 0 1,0 2.1,0a1.05,1.05 0 1,0 -2.1,0M611.8,37.1a1.05,1.05 0 1,0 2.1,0a1.05,1.05 0 1,0 -2.1,0M613.1,34.7a1.05,1.05 0 1,0 2.1,0a1.05,1.05 0 1,0 -2.1,0M614.4,33.6a1.05,1.05 0 1,0 2.1,0a1.05,1.05 0 1,0 -2.1,0M615.6,34.3a1.05,1.05 0 1,0 2.1,0a1.05,1.05 0 1,0 -2.1,0M616.9,36.4a1.05,1.05 0 1,0 2.1,0a1.05,1.05 0 1,0 -2.1,0M618.2,31.9a1.05,1.05 0 1,0 2.1,0a1.05,1.05 0 1,0 -2.1,0M619.5,32.4a1.05,1.05 0 1,0 2.1,0a1.05,1.05 0 1,0 -2.1,0M620.8,31.6a1.05,1.05 0 1,0 2.1,0a1.05,1.05 0 1,0 -2.1,0M622.1,33.1a1.05,1.05 0 1,0 2.1,0a1.05,1.05 0 1,0 -2.1,0M623.4,34.8a1.05,1.05 0 1,0 2.1,0a1.05,1.05 0 1,0 -2.1,0M624.7,32.6a1.05,1.05 0 1,0 2.1,0a1.05,1.05 0 1,0 -2.1,0M626.0,30.2a1.05,1.05 0 1,0 2.1,0a1.05,1.05 0 1,0 -2.1,0M627.2,31.2a1.05,1.05 0 1,0 2.1,0a1.05,1.05 0 1,0 -2.1,0M628.5,30.8a1.05,1.05 0 1,0 2.1,0a1.05,1.05 0 1,0 -2.1,0M629.8,28.6a1.05,1.05 0 1,0 2.1,0a1.05,1.05 0 1,0 -2.1,0M631.1,31.3a1.05,1.05 0 1,0 2.1,0a1.05,1.05 0 1,0 -2.1,0M632.4,30.0a1.05,1.05 0 1,0 2.1,0a1.05,1.05 0 1,0 -2.1,0M633.7,31.1a1.05,1.05 0 1,0 2.1,0a1.05,1.05 0 1,0 -2.1,0M635.0,28.4a1.05,1.05 0 1,0 2.1,0a1.05,1.05 0 1,0 -2.1,0M636.3,30.9a1.05,1.05 0 1,0 2.1,0a1.05,1.05 0 1,0 -2.1,0M637.6,27.7a1.05,1.05 0 1,0 2.1,0a1.05,1.05 0 1,0 -2.1,0M638.9,30.2a1.05,1.05 0 1,0 2.1,0a1.05,1.05 0 1,0 -2.1,0M640.2,26.6a1.05,1.05 0 1,0 2.1,0a1.05,1.05 0 1,0 -2.1,0M641.4,29.9a1.05,1.05 0 1,0 2.1,0a1.05,1.05 0 1,0 -2.1,0M642.7,28.1a1.05,1.05 0 1,0 2.1,0a1.05,1.05 0 1,0 -2.1,0M644.0,25.5a1.05,1.05 0 1,0 2.1,0a1.05,1.05 0 1,0 -2.1,0M645.3,26.4a1.05,1.05 0 1,0 2.1,0a1.05,1.05 0 1,0 -2.1,0M646.6,27.3a1.05,1.05 0 1,0 2.1,0a1.05,1.05 0 1,0 -2.1,0M647.9,25.4a1.05,1.05 0 1,0 2.1,0a1.05,1.05 0 1,0 -2.1,0M649.2,25.2a1.05,1.05 0 1,0 2.1,0a1.05,1.05 0 1,0 -2.1,0M650.5,26.1a1.05,1.05 0 1,0 2.1,0a1.05,1.05 0 1,0 -2.1,0M651.8,25.5a1.05,1.05 0 1,0 2.1,0a1.05,1.05 0 1,0 -2.1,0M653.1,20.7a1.05,1.05 0 1,0 2.1,0a1.05,1.05 0 1,0 -2.1,0M654.3,23.0a1.05,1.05 0 1,0 2.1,0a1.05,1.05 0 1,0 -2.1,0M655.6,25.0a1.05,1.05 0 1,0 2.1,0a1.05,1.05 0 1,0 -2.1,0M656.9,25.4a1.05,1.05 0 1,0 2.1,0a1.05,1.05 0 1,0 -2.1,0M658.2,26.5a1.05,1.05 0 1,0 2.1,0a1.05,1.05 0 1,0 -2.1,0M659.5,24.3a1.05,1.05 0 1,0 2.1,0a1.05,1.05 0 1,0 -2.1,0M660.8,28.3a1.05,1.05 0 1,0 2.1,0a1.05,1.05 0 1,0 -2.1,0M662.1,26.9a1.05,1.05 0 1,0 2.1,0a1.05,1.05 0 1,0 -2.1,0M663.4,25.7a1.05,1.05 0 1,0 2.1,0a1.05,1.05 0 1,0 -2.1,0M664.7,26.3a1.05,1.05 0 1,0 2.1,0a1.05,1.05 0 1,0 -2.1,0M666.0,26.2a1.05,1.05 0 1,0 2.1,0a1.05,1.05 0 1,0 -2.1,0M667.2,24.8a1.05,1.05 0 1,0 2.1,0a1.05,1.05 0 1,0 -2.1,0M668.5,23.2a1.05,1.05 0 1,0 2.1,0a1.05,1.05 0 1,0 -2.1,0M669.8,25.0a1.05,1.05 0 1,0 2.1,0a1.05,1.05 0 1,0 -2.1,0M671.1,24.6a1.05,1.05 0 1,0 2.1,0a1.05,1.05 0 1,0 -2.1,0M672.4,20.9a1.05,1.05 0 1,0 2.1,0a1.05,1.05 0 1,0 -2.1,0M673.7,20.7a1.05,1.05 0 1,0 2.1,0a1.05,1.05 0 1,0 -2.1,0M675.0,22.9a1.05,1.05 0 1,0 2.1,0a1.05,1.05 0 1,0 -2.1,0M676.3,23.1a1.05,1.05 0 1,0 2.1,0a1.05,1.05 0 1,0 -2.1,0M677.6,23.3a1.05,1.05 0 1,0 2.1,0a1.05,1.05 0 1,0 -2.1,0M678.9,23.8a1.05,1.05 0 1,0 2.1,0a1.05,1.05 0 1,0 -2.1,0" fill="#e01818"/>
<polyline points="499.3,28.3 500.6,30.8 501.9,28.6 503.2,28.3 504.5,29.4 505.8,30.7 507.0,31.3 508.3,32.8 509.6,30.5 510.9,32.4 512.2,32.1 513.5,29.6 514.8,30.0 516.1,33.4 517.4,32.6 518.6,30.4 519.9,26.7 521.2,27.8 522.5,28.2 523.8,29.4 525.1,33.2 526.4,32.2 527.7,31.3 529.0,29.2 530.3,28.1 531.5,29.3 532.8,29.4 534.1,34.7 535.4,31.5 536.7,30.1 538.0,32.3 539.3,31.3 540.6,29.0 541.9,31.9 543.2,30.4 544.5,28.4 545.7,30.0 547.0,30.8 548.3,29.8 549.6,30.9 550.9,31.5 552.2,29.0 553.5,26.3 554.8,24.8 556.1,27.6 557.4,30.5 558.6,31.1 559.9,31.9 561.2,32.7 562.5,29.2 563.8,28.8 565.1,24.1 566.4,25.0 567.7,26.2 569.0,45.2 570.2,67.4 571.5,89.5 572.8,97.1 574.1,72.6 575.4,60.4 576.7,56.2 578.0,50.7 579.3,47.1 580.6,42.3 581.9,40.7 583.1,39.9 584.4,40.1 585.7,38.5 587.0,36.8 588.3,37.2 589.6,39.1 590.9,40.3 592.2,37.6 593.5,38.0 594.8,37.8 596.0,37.2 597.3,34.0 598.6,35.7 599.9,34.2 601.2,36.9 602.5,37.1 603.8,36.9 605.1,32.0 606.4,35.0 607.7,36.0 609.0,33.4 610.2,35.7 611.5,35.2 612.8,34.5 614.1,33.4 615.4,32.5 616.7,33.0 618.0,38.4 619.3,35.9 620.6,35.0 621.9,33.3 623.1,32.7 624.4,32.5 625.7,31.9 627.0,34.3 628.3,33.3 629.6,34.6 630.9,32.0 632.2,34.2 633.5,33.4 634.8,34.1 636.0,33.2 637.3,31.6 638.6,34.1 639.9,32.5 641.2,32.3 642.5,31.3 643.8,32.8 645.1,32.5 646.4,33.5 647.6,34.1 648.9,32.8 650.2,31.4 651.5,33.8 652.8,35.5 654.1,35.9 655.4,32.9 656.7,34.3 658.0,34.3 659.3,34.0 660.5,33.9 661.8,32.6 663.1,32.8 664.4,33.7 665.7,31.7 667.0,29.4 668.3,30.5 669.6,31.1 670.9,28.1 672.2,28.6 673.5,30.5 674.7,29.9 676.0,29.9 677.3,27.7 678.6,30.0 679.9,31.9" fill="none" stroke="#3ccc2c" stroke-width="1.2" stroke-linejoin="round" />
<path d="M498.2,28.3a1.05,1.05 0 1,0 2.1,0a1.05,1.05 0 1,0 -2.1,0M499.5,30.8a1.05,1.05 0 1,0 2.1,0a1.05,1.05 0 1,0 -2.1,0M500.8,28.6a1.05,1.05 0 1,0 2.1,0a1.05,1.05 0 1,0 -2.1,0M502.1,28.3a1.05,1.05 0 1,0 2.1,0a1.05,1.05 0 1,0 -2.1,0M503.4,29.4a1.05,1.05 0 1,0 2.1,0a1.05,1.05 0 1,0 -2.1,0M504.7,30.7a1.05,1.05 0 1,0 2.1,0a1.05,1.05 0 1,0 -2.1,0M506.0,31.3a1.05,1.05 0 1,0 2.1,0a1.05,1.05 0 1,0 -2.1,0M507.3,32.8a1.05,1.05 0 1,0 2.1,0a1.05,1.05 0 1,0 -2.1,0M508.6,30.5a1.05,1.05 0 1,0 2.1,0a1.05,1.05 0 1,0 -2.1,0M509.9,32.4a1.05,1.05 0 1,0 2.1,0a1.05,1.05 0 1,0 -2.1,0M511.2,32.1a1.05,1.05 0 1,0 2.1,0a1.05,1.05 0 1,0 -2.1,0M512.4,29.6a1.05,1.05 0 1,0 2.1,0a1.05,1.05 0 1,0 -2.1,0M513.7,30.0a1.05,1.05 0 1,0 2.1,0a1.05,1.05 0 1,0 -2.1,0M515.0,33.4a1.05,1.05 0 1,0 2.1,0a1.05,1.05 0 1,0 -2.1,0M516.3,32.6a1.05,1.05 0 1,0 2.1,0a1.05,1.05 0 1,0 -2.1,0M517.6,30.4a1.05,1.05 0 1,0 2.1,0a1.05,1.05 0 1,0 -2.1,0M518.9,26.7a1.05,1.05 0 1,0 2.1,0a1.05,1.05 0 1,0 -2.1,0M520.2,27.8a1.05,1.05 0 1,0 2.1,0a1.05,1.05 0 1,0 -2.1,0M521.5,28.2a1.05,1.05 0 1,0 2.1,0a1.05,1.05 0 1,0 -2.1,0M522.8,29.4a1.05,1.05 0 1,0 2.1,0a1.05,1.05 0 1,0 -2.1,0M524.1,33.2a1.05,1.05 0 1,0 2.1,0a1.05,1.05 0 1,0 -2.1,0M525.3,32.2a1.05,1.05 0 1,0 2.1,0a1.05,1.05 0 1,0 -2.1,0M526.6,31.3a1.05,1.05 0 1,0 2.1,0a1.05,1.05 0 1,0 -2.1,0M527.9,29.2a1.05,1.05 0 1,0 2.1,0a1.05,1.05 0 1,0 -2.1,0M529.2,28.1a1.05,1.05 0 1,0 2.1,0a1.05,1.05 0 1,0 -2.1,0M530.5,29.3a1.05,1.05 0 1,0 2.1,0a1.05,1.05 0 1,0 -2.1,0M531.8,29.4a1.05,1.05 0 1,0 2.1,0a1.05,1.05 0 1,0 -2.1,0M533.1,34.7a1.05,1.05 0 1,0 2.1,0a1.05,1.05 0 1,0 -2.1,0M534.4,31.5a1.05,1.05 0 1,0 2.1,0a1.05,1.05 0 1,0 -2.1,0M535.7,30.1a1.05,1.05 0 1,0 2.1,0a1.05,1.05 0 1,0 -2.1,0M537.0,32.3a1.05,1.05 0 1,0 2.1,0a1.05,1.05 0 1,0 -2.1,0M538.2,31.3a1.05,1.05 0 1,0 2.1,0a1.05,1.05 0 1,0 -2.1,0M539.5,29.0a1.05,1.05 0 1,0 2.1,0a1.05,1.05 0 1,0 -2.1,0M540.8,31.9a1.05,1.05 0 1,0 2.1,0a1.05,1.05 0 1,0 -2.1,0M542.1,30.4a1.05,1.05 0 1,0 2.1,0a1.05,1.05 0 1,0 -2.1,0M543.4,28.4a1.05,1.05 0 1,0 2.1,0a1.05,1.05 0 1,0 -2.1,0M544.7,30.0a1.05,1.05 0 1,0 2.1,0a1.05,1.05 0 1,0 -2.1,0M546.0,30.8a1.05,1.05 0 1,0 2.1,0a1.05,1.05 0 1,0 -2.1,0M547.3,29.8a1.05,1.05 0 1,0 2.1,0a1.05,1.05 0 1,0 -2.1,0M548.6,30.9a1.05,1.05 0 1,0 2.1,0a1.05,1.05 0 1,0 -2.1,0M549.9,31.5a1.05,1.05 0 1,0 2.1,0a1.05,1.05 0 1,0 -2.1,0M551.1,29.0a1.05,1.05 0 1,0 2.1,0a1.05,1.05 0 1,0 -2.1,0M552.4,26.3a1.05,1.05 0 1,0 2.1,0a1.05,1.05 0 1,0 -2.1,0M553.7,24.8a1.05,1.05 0 1,0 2.1,0a1.05,1.05 0 1,0 -2.1,0M555.0,27.6a1.05,1.05 0 1,0 2.1,0a1.05,1.05 0 1,0 -2.1,0M556.3,30.5a1.05,1.05 0 1,0 2.1,0a1.05,1.05 0 1,0 -2.1,0M557.6,31.1a1.05,1.05 0 1,0 2.1,0a1.05,1.05 0 1,0 -2.1,0M558.9,31.9a1.05,1.05 0 1,0 2.1,0a1.05,1.05 0 1,0 -2.1,0M560.2,32.7a1.05,1.05 0 1,0 2.1,0a1.05,1.05 0 1,0 -2.1,0M561.5,29.2a1.05,1.05 0 1,0 2.1,0a1.05,1.05 0 1,0 -2.1,0M562.8,28.8a1.05,1.05 0 1,0 2.1,0a1.05,1.05 0 1,0 -2.1,0M564.0,24.1a1.05,1.05 0 1,0 2.1,0a1.05,1.05 0 1,0 -2.1,0M565.3,25.0a1.05,1.05 0 1,0 2.1,0a1.05,1.05 0 1,0 -2.1,0M566.6,26.2a1.05,1.05 0 1,0 2.1,0a1.05,1.05 0 1,0 -2.1,0M567.9,45.2a1.05,1.05 0 1,0 2.1,0a1.05,1.05 0 1,0 -2.1,0M569.2,67.4a1.05,1.05 0 1,0 2.1,0a1.05,1.05 0 1,0 -2.1,0M570.5,89.5a1.05,1.05 0 1,0 2.1,0a1.05,1.05 0 1,0 -2.1,0M571.8,97.1a1.05,1.05 0 1,0 2.1,0a1.05,1.05 0 1,0 -2.1,0M573.1,72.6a1.05,1.05 0 1,0 2.1,0a1.05,1.05 0 1,0 -2.1,0M574.4,60.4a1.05,1.05 0 1,0 2.1,0a1.05,1.05 0 1,0 -2.1,0M575.7,56.2a1.05,1.05 0 1,0 2.1,0a1.05,1.05 0 1,0 -2.1,0M576.9,50.7a1.05,1.05 0 1,0 2.1,0a1.05,1.05 0 1,0 -2.1,0M578.2,47.1a1.05,1.05 0 1,0 2.1,0a1.05,1.05 0 1,0 -2.1,0M579.5,42.3a1.05,1.05 0 1,0 2.1,0a1.05,1.05 0 1,0 -2.1,0M580.8,40.7a1.05,1.05 0 1,0 2.1,0a1.05,1.05 0 1,0 -2.1,0M582.1,39.9a1.05,1.05 0 1,0 2.1,0a1.05,1.05 0 1,0 -2.1,0M583.4,40.1a1.05,1.05 0 1,0 2.1,0a1.05,1.05 0 1,0 -2.1,0M584.7,38.5a1.05,1.05 0 1,0 2.1,0a1.05,1.05 0 1,0 -2.1,0M586.0,36.8a1.05,1.05 0 1,0 2.1,0a1.05,1.05 0 1,0 -2.1,0M587.3,37.2a1.05,1.05 0 1,0 2.1,0a1.05,1.05 0 1,0 -2.1,0M588.6,39.1a1.05,1.05 0 1,0 2.1,0a1.05,1.05 0 1,0 -2.1,0M589.8,40.3a1.05,1.05 0 1,0 2.1,0a1.05,1.05 0 1,0 -2.1,0M591.1,37.6a1.05,1.05 0 1,0 2.1,0a1.05,1.05 0 1,0 -2.1,0M592.4,38.0a1.05,1.05 0 1,0 2.1,0a1.05,1.05 0 1,0 -2.1,0M593.7,37.8a1.05,1.05 0 1,0 2.1,0a1.05,1.05 0 1,0 -2.1,0M595.0,37.2a1.05,1.05 0 1,0 2.1,0a1.05,1.05 0 1,0 -2.1,0M596.3,34.0a1.05,1.05 0 1,0 2.1,0a1.05,1.05 0 1,0 -2.1,0M597.6,35.7a1.05,1.05 0 1,0 2.1,0a1.05,1.05 0 1,0 -2.1,0M598.9,34.2a1.05,1.05 0 1,0 2.1,0a1.05,1.05 0 1,0 -2.1,0M600.2,36.9a1.05,1.05 0 1,0 2.1,0a1.05,1.05 0 1,0 -2.1,0M601.5,37.1a1.05,1.05 0 1,0 2.1,0a1.05,1.05 0 1,0 -2.1,0M602.7,36.9a1.05,1.05 0 1,0 2.1,0a1.05,1.05 0 1,0 -2.1,0M604.0,32.0a1.05,1.05 0 1,0 2.1,0a1.05,1.05 0 1,0 -2.1,0M605.3,35.0a1.05,1.05 0 1,0 2.1,0a1.05,1.05 0 1,0 -2.1,0M606.6,36.0a1.05,1.05 0 1,0 2.1,0a1.05,1.05 0 1,0 -2.1,0M607.9,33.4a1.05,1.05 0 1,0 2.1,0a1.05,1.05 0 1,0 -2.1,0M609.2,35.7a1.05,1.05 0 1,0 2.1,0a1.05,1.05 0 1,0 -2.1,0M610.5,35.2a1.05,1.05 0 1,0 2.1,0a1.05,1.05 0 1,0 -2.1,0M611.8,34.5a1.05,1.05 0 1,0 2.1,0a1.05,1.05 0 1,0 -2.1,0M613.1,33.4a1.05,1.05 0 1,0 2.1,0a1.05,1.05 0 1,0 -2.1,0M614.4,32.5a1.05,1.05 0 1,0 2.1,0a1.05,1.05 0 1,0 -2.1,0M615.6,33.0a1.05,1.05 0 1,0 2.1,0a1.05,1.05 0 1,0 -2.1,0M616.9,38.4a1.05,1.05 0 1,0 2.1,0a1.05,1.05 0 1,0 -2.1,0M618.2,35.9a1.05,1.05 0 1,0 2.1,0a1.05,1.05 0 1,0 -2.1,0M619.5,35.0a1.05,1.05 0 1,0 2.1,0a1.05,1.05 0 1,0 -2.1,0M620.8,33.3a1.05,1.05 0 1,0 2.1,0a1.05,1.05 0 1,0 -2.1,0M622.1,32.7a1.05,1.05 0 1,0 2.1,0a1.05,1.05 0 1,0 -2.1,0M623.4,32.5a1.05,1.05 0 1,0 2.1,0a1.05,1.05 0 1,0 -2.1,0M624.7,31.9a1.05,1.05 0 1,0 2.1,0a1.05,1.05 0 1,0 -2.1,0M626.0,34.3a1.05,1.05 0 1,0 2.1,0a1.05,1.05 0 1,0 -2.1,0M627.2,33.3a1.05,1.05 0 1,0 2.1,0a1.05,1.05 0 1,0 -2.1,0M628.5,34.6a1.05,1.05 0 1,0 2.1,0a1.05,1.05 0 1,0 -2.1,0M629.8,32.0a1.05,1.05 0 1,0 2.1,0a1.05,1.05 0 1,0 -2.1,0M631.1,34.2a1.05,1.05 0 1,0 2.1,0a1.05,1.05 0 1,0 -2.1,0M632.4,33.4a1.05,1.05 0 1,0 2.1,0a1.05,1.05 0 1,0 -2.1,0M633.7,34.1a1.05,1.05 0 1,0 2.1,0a1.05,1.05 0 1,0 -2.1,0M635.0,33.2a1.05,1.05 0 1,0 2.1,0a1.05,1.05 0 1,0 -2.1,0M636.3,31.6a1.05,1.05 0 1,0 2.1,0a1.05,1.05 0 1,0 -2.1,0M637.6,34.1a1.05,1.05 0 1,0 2.1,0a1.05,1.05 0 1,0 -2.1,0M638.9,32.5a1.05,1.05 0 1,0 2.1,0a1.05,1.05 0 1,0 -2.1,0M640.2,32.3a1.05,1.05 0 1,0 2.1,0a1.05,1.05 0 1,0 -2.1,0M641.4,31.3a1.05,1.05 0 1,0 2.1,0a1.05,1.05 0 1,0 -2.1,0M642.7,32.8a1.05,1.05 0 1,0 2.1,0a1.05,1.05 0 1,0 -2.1,0M644.0,32.5a1.05,1.05 0 1,0 2.1,0a1.05,1.05 0 1,0 -2.1,0M645.3,33.5a1.05,1.05 0 1,0 2.1,0a1.05,1.05 0 1,0 -2.1,0M646.6,34.1a1.05,1.05 0 1,0 2.1,0a1.05,1.05 0 1,0 -2.1,0M647.9,32.8a1.05,1.05 0 1,0 2.1,0a1.05,1.05 0 1,0 -2.1,0M649.2,31.4a1.05,1.05 0 1,0 2.1,0a1.05,1.05 0 1,0 -2.1,0M650.5,33.8a1.05,1.05 0 1,0 2.1,0a1.05,1.05 0 1,0 -2.1,0M651.8,35.5a1.05,1.05 0 1,0 2.1,0a1.05,1.05 0 1,0 -2.1,0M653.1,35.9a1.05,1.05 0 1,0 2.1,0a1.05,1.05 0 1,0 -2.1,0M654.3,32.9a1.05,1.05 0 1,0 2.1,0a1.05,1.05 0 1,0 -2.1,0M655.6,34.3a1.05,1.05 0 1,0 2.1,0a1.05,1.05 0 1,0 -2.1,0M656.9,34.3a1.05,1.05 0 1,0 2.1,0a1.05,1.05 0 1,0 -2.1,0M658.2,34.0a1.05,1.05 0 1,0 2.1,0a1.05,1.05 0 1,0 -2.1,0M659.5,33.9a1.05,1.05 0 1,0 2.1,0a1.05,1.05 0 1,0 -2.1,0M660.8,32.6a1.05,1.05 0 1,0 2.1,0a1.05,1.05 0 1,0 -2.1,0M662.1,32.8a1.05,1.05 0 1,0 2.1,0a1.05,1.05 0 1,0 -2.1,0M663.4,33.7a1.05,1.05 0 1,0 2.1,0a1.05,1.05 0 1,0 -2.1,0M664.7,31.7a1.05,1.05 0 1,0 2.1,0a1.05,1.05 0 1,0 -2.1,0M666.0,29.4a1.05,1.05 0 1,0 2.1,0a1.05,1.05 0 1,0 -2.1,0M667.2,30.5a1.05,1.05 0 1,0 2.1,0a1.05,1.05 0 1,0 -2.1,0M668.5,31.1a1.05,1.05 0 1,0 2.1,0a1.05,1.05 0 1,0 -2.1,0M669.8,28.1a1.05,1.05 0 1,0 2.1,0a1.05,1.05 0 1,0 -2.1,0M671.1,28.6a1.05,1.05 0 1,0 2.1,0a1.05,1.05 0 1,0 -2.1,0M672.4,30.5a1.05,1.05 0 1,0 2.1,0a1.05,1.05 0 1,0 -2.1,0M673.7,29.9a1.05,1.05 0 1,0 2.1,0a1.05,1.05 0 1,0 -2.1,0M675.0,29.9a1.05,1.05 0 1,0 2.1,0a1.05,1.05 0 1,0 -2.1,0M676.3,27.7a1.05,1.05 0 1,0 2.1,0a1.05,1.05 0 1,0 -2.1,0M677.6,30.0a1.05,1.05 0 1,0 2.1,0a1.05,1.05 0 1,0 -2.1,0M678.9,31.9a1.05,1.05 0 1,0 2.1,0a1.05,1.05 0 1,0 -2.1,0" fill="#28b41c"/>
<path d="M499.3,150.9v-2.3M499.3,8.5v2.3M525.1,150.9v-2.3M525.1,8.5v2.3M550.9,150.9v-2.3M550.9,8.5v2.3M576.7,150.9v-2.3M576.7,8.5v2.3M602.5,150.9v-2.3M602.5,8.5v2.3M628.3,150.9v-2.3M628.3,8.5v2.3M654.1,150.9v-2.3M654.1,8.5v2.3M679.9,150.9v-2.3M679.9,8.5v2.3M512.2,150.9v-1.3M512.2,8.5v1.3M538,150.9v-1.3M538,8.5v1.3M563.8,150.9v-1.3M563.8,8.5v1.3M589.6,150.9v-1.3M589.6,8.5v1.3M615.4,150.9v-1.3M615.4,8.5v1.3M641.2,150.9v-1.3M641.2,8.5v1.3M667,150.9v-1.3M667,8.5v1.3M499.5,27.2h2.3M679.5,27.2h-2.3M499.5,63.1h2.3M679.5,63.1h-2.3M499.5,99.1h2.3M679.5,99.1h-2.3M499.5,136h2.3M679.5,136h-2.3M499.5,45.15h1.3M679.5,45.15h-1.3M499.5,81.1h1.3M679.5,81.1h-1.3M499.5,117.5h1.3M679.5,117.5h-1.3" stroke="#262626" stroke-width="1" fill="none"/>
<rect x="499.5" y="8.5" width="180" height="142.4" fill="none" stroke="#262626" stroke-width="1.1"/>
<text transform="translate(496.71 161.4) scale(0.930 1)" font-family="Liberation Sans" font-size="10" font-weight="normal" fill="#111" stroke="#111" stroke-width="0.22">0</text>
<text transform="translate(522.51 161.4) scale(0.930 1)" font-family="Liberation Sans" font-size="10" font-weight="normal" fill="#111" stroke="#111" stroke-width="0.22">1</text>
<text transform="translate(548.31 161.4) scale(0.930 1)" font-family="Liberation Sans" font-size="10" font-weight="normal" fill="#111" stroke="#111" stroke-width="0.22">2</text>
<text transform="translate(574.11 161.4) scale(0.930 1)" font-family="Liberation Sans" font-size="10" font-weight="normal" fill="#111" stroke="#111" stroke-width="0.22">3</text>
<text transform="translate(599.91 161.4) scale(0.930 1)" font-family="Liberation Sans" font-size="10" font-weight="normal" fill="#111" stroke="#111" stroke-width="0.22">4</text>
<text transform="translate(625.71 161.4) scale(0.930 1)" font-family="Liberation Sans" font-size="10" font-weight="normal" fill="#111" stroke="#111" stroke-width="0.22">5</text>
<text transform="translate(651.51 161.4) scale(0.930 1)" font-family="Liberation Sans" font-size="10" font-weight="normal" fill="#111" stroke="#111" stroke-width="0.22">6</text>
<text transform="translate(677.31 161.4) scale(0.930 1)" font-family="Liberation Sans" font-size="10" font-weight="normal" fill="#111" stroke="#111" stroke-width="0.22">7</text>
<text transform="translate(492.16 30.95) scale(0.930 1)" font-family="Liberation Sans" font-size="10" font-weight="normal" fill="#111" stroke="#111" stroke-width="0.22">0</text>
<text transform="translate(488.96 67.15) scale(0.930 1)" font-family="Liberation Sans" font-size="10" font-weight="normal" fill="#111" stroke="#111" stroke-width="0.22">-4</text>
<text transform="translate(489.1 104.15) scale(0.930 1)" font-family="Liberation Sans" font-size="10" font-weight="normal" fill="#111" stroke="#111" stroke-width="0.22">-8</text>
<text transform="translate(484.68 139.75) scale(0.930 1)" font-family="Liberation Sans" font-size="10" font-weight="normal" fill="#111" stroke="#111" stroke-width="0.22">-11</text>
<text transform="translate(572.4 172) scale(0.953 1)" font-family="Liberation Sans" font-size="11" font-weight="bold" fill="#000">Time (s)</text>
<text transform="translate(479.2 106.7) rotate(-90) scale(1.006 1) translate(-0.44 0)" font-family="Liberation Sans" font-size="11" font-weight="bold" fill="#000">ΔPSC (%)</text>
<line x1="601.8" y1="106.8" x2="623.4" y2="106.8" stroke="#2cb8f4" stroke-width="1.3" />
<path d="M611.4,106.8a1.4,1.4 0 1,0 2.8,0a1.4,1.4 0 1,0 -2.8,0" fill="#18a0e8"/>
<text transform="translate(625.1 110.1) scale(0.949 1)" font-family="Liberation Sans" font-size="9.8" font-weight="normal" fill="#111" stroke="#111" stroke-width="0.22">V<tspan font-size="6.47" dy="3.23">GS1</tspan><tspan dy="-3.23"> = -3 V</tspan></text>
<line x1="601.8" y1="121.4" x2="623.4" y2="121.4" stroke="#f03434" stroke-width="1.3" />
<path d="M611.4,121.4a1.4,1.4 0 1,0 2.8,0a1.4,1.4 0 1,0 -2.8,0" fill="#e01818"/>
<text transform="translate(625.1 124.7) scale(0.949 1)" font-family="Liberation Sans" font-size="9.8" font-weight="normal" fill="#111" stroke="#111" stroke-width="0.22">V<tspan font-size="6.47" dy="3.23">GS2</tspan><tspan dy="-3.23"> = -3 V</tspan></text>
<line x1="601.8" y1="136" x2="623.4" y2="136" stroke="#3ccc2c" stroke-width="1.3" />
<path d="M611.4,136.0a1.4,1.4 0 1,0 2.8,0a1.4,1.4 0 1,0 -2.8,0" fill="#28b41c"/>
<text transform="translate(625.1 139.3) scale(0.949 1)" font-family="Liberation Sans" font-size="9.8" font-weight="normal" fill="#111" stroke="#111" stroke-width="0.22">V<tspan font-size="6.47" dy="3.23">GS3</tspan><tspan dy="-3.23"> = -3 V</tspan></text>
<text transform="translate(624.4 97.3) scale(1.030 1)" font-family="Liberation Sans" font-size="9.4" font-weight="normal" fill="#111" stroke="#111" stroke-width="0.22">τ = 200 ms</text>
<text transform="translate(510.5 134.6) scale(0.935 1)" font-family="Liberation Sans" font-size="9.9" font-weight="normal" fill="#111" stroke="#111" stroke-width="0.22">V<tspan font-size="6.53" dy="3.27">DS</tspan><tspan dy="-3.27"> = 2 V</tspan></text>
<text transform="translate(481.2 15.3)" font-family="Liberation Serif" font-size="17" font-weight="bold" fill="#000">c)</text>
<polyline points="33.0,315.6 34.3,315.2 35.6,314.8 36.9,316.6 38.2,316.6 39.5,315.9 40.7,317.5 42.0,317.8 43.3,317.8 44.6,315.8 45.9,316.7 47.2,317.5 48.5,316.1 49.8,317.5 51.1,318.4 52.4,318.3 53.6,316.6 54.9,316.0 56.2,317.2 57.5,317.7 58.8,318.0 60.1,318.2 61.4,317.2 62.7,316.6 64.0,315.2 65.2,317.1 66.5,319.2 67.8,317.5 69.1,317.0 70.4,317.9 71.7,318.1 73.0,316.5 74.3,316.6 75.6,316.3 76.9,319.0 78.2,317.6 79.4,318.5 80.7,319.8 82.0,320.2 83.3,320.0 84.6,320.1 85.9,317.7 87.2,317.7 88.5,317.4 89.8,317.8 91.1,320.6 92.3,317.8 93.6,318.9 94.9,317.7 96.2,319.7 97.5,320.4 98.8,319.2 100.1,321.2 101.4,320.2 102.7,321.1 104.0,317.3 105.2,274.3 106.5,239.1 107.8,211.1 109.1,197.2 110.4,239.3 111.7,274.8 113.0,285.4 114.3,288.4 115.6,291.2 116.9,292.5 118.1,293.4 119.4,295.2 120.7,298.5 122.0,299.2 123.3,299.8 124.6,301.0 125.9,302.6 127.2,303.3 128.5,304.2 129.8,303.5 131.0,303.9 132.3,303.9 133.6,304.9 134.9,304.9 136.2,305.7 137.5,306.3 138.8,306.8 140.1,307.1 141.4,307.3 142.7,309.3 143.9,308.7 145.2,308.2 146.5,309.3 147.8,308.8 149.1,308.9 150.4,310.2 151.7,309.3 153.0,307.8 154.3,310.7 155.6,312.6 156.8,311.0 158.1,311.4 159.4,313.1 160.7,311.6 162.0,312.3 163.3,312.3 164.6,313.4 165.9,312.3 167.2,314.6 168.5,314.6 169.7,315.2 171.0,315.0 172.3,313.4 173.6,314.8 174.9,314.3 176.2,315.3 177.5,315.0 178.8,315.4 180.1,315.6 181.3,316.7 182.6,317.1 183.9,315.6 185.2,316.1 186.5,317.6 187.8,317.3 189.1,316.3 190.4,316.6 191.7,316.6 193.0,317.9 194.2,317.6 195.5,318.0 196.8,319.9 198.1,317.4 199.4,317.0 200.7,316.3 202.0,316.3 203.3,318.6 204.6,319.0 205.9,320.4 207.2,317.7 208.4,317.9 209.7,320.1 211.0,320.6 212.3,320.7 213.6,320.9" fill="none" stroke="#f03434" stroke-width="1.2" stroke-linejoin="round" />
<path d="M31.9,315.6a1.05,1.05 0 1,0 2.1,0a1.05,1.05 0 1,0 -2.1,0M33.2,315.2a1.05,1.05 0 1,0 2.1,0a1.05,1.05 0 1,0 -2.1,0M34.5,314.8a1.05,1.05 0 1,0 2.1,0a1.05,1.05 0 1,0 -2.1,0M35.8,316.6a1.05,1.05 0 1,0 2.1,0a1.05,1.05 0 1,0 -2.1,0M37.1,316.6a1.05,1.05 0 1,0 2.1,0a1.05,1.05 0 1,0 -2.1,0M38.4,315.9a1.05,1.05 0 1,0 2.1,0a1.05,1.05 0 1,0 -2.1,0M39.7,317.5a1.05,1.05 0 1,0 2.1,0a1.05,1.05 0 1,0 -2.1,0M41.0,317.8a1.05,1.05 0 1,0 2.1,0a1.05,1.05 0 1,0 -2.1,0M42.3,317.8a1.05,1.05 0 1,0 2.1,0a1.05,1.05 0 1,0 -2.1,0M43.6,315.8a1.05,1.05 0 1,0 2.1,0a1.05,1.05 0 1,0 -2.1,0M44.9,316.7a1.05,1.05 0 1,0 2.1,0a1.05,1.05 0 1,0 -2.1,0M46.1,317.5a1.05,1.05 0 1,0 2.1,0a1.05,1.05 0 1,0 -2.1,0M47.4,316.1a1.05,1.05 0 1,0 2.1,0a1.05,1.05 0 1,0 -2.1,0M48.7,317.5a1.05,1.05 0 1,0 2.1,0a1.05,1.05 0 1,0 -2.1,0M50.0,318.4a1.05,1.05 0 1,0 2.1,0a1.05,1.05 0 1,0 -2.1,0M51.3,318.3a1.05,1.05 0 1,0 2.1,0a1.05,1.05 0 1,0 -2.1,0M52.6,316.6a1.05,1.05 0 1,0 2.1,0a1.05,1.05 0 1,0 -2.1,0M53.9,316.0a1.05,1.05 0 1,0 2.1,0a1.05,1.05 0 1,0 -2.1,0M55.2,317.2a1.05,1.05 0 1,0 2.1,0a1.05,1.05 0 1,0 -2.1,0M56.5,317.7a1.05,1.05 0 1,0 2.1,0a1.05,1.05 0 1,0 -2.1,0M57.8,318.0a1.05,1.05 0 1,0 2.1,0a1.05,1.05 0 1,0 -2.1,0M59.0,318.2a1.05,1.05 0 1,0 2.1,0a1.05,1.05 0 1,0 -2.1,0M60.3,317.2a1.05,1.05 0 1,0 2.1,0a1.05,1.05 0 1,0 -2.1,0M61.6,316.6a1.05,1.05 0 1,0 2.1,0a1.05,1.05 0 1,0 -2.1,0M62.9,315.2a1.05,1.05 0 1,0 2.1,0a1.05,1.05 0 1,0 -2.1,0M64.2,317.1a1.05,1.05 0 1,0 2.1,0a1.05,1.05 0 1,0 -2.1,0M65.5,319.2a1.05,1.05 0 1,0 2.1,0a1.05,1.05 0 1,0 -2.1,0M66.8,317.5a1.05,1.05 0 1,0 2.1,0a1.05,1.05 0 1,0 -2.1,0M68.1,317.0a1.05,1.05 0 1,0 2.1,0a1.05,1.05 0 1,0 -2.1,0M69.4,317.9a1.05,1.05 0 1,0 2.1,0a1.05,1.05 0 1,0 -2.1,0M70.7,318.1a1.05,1.05 0 1,0 2.1,0a1.05,1.05 0 1,0 -2.1,0M71.9,316.5a1.05,1.05 0 1,0 2.1,0a1.05,1.05 0 1,0 -2.1,0M73.2,316.6a1.05,1.05 0 1,0 2.1,0a1.05,1.05 0 1,0 -2.1,0M74.5,316.3a1.05,1.05 0 1,0 2.1,0a1.05,1.05 0 1,0 -2.1,0M75.8,319.0a1.05,1.05 0 1,0 2.1,0a1.05,1.05 0 1,0 -2.1,0M77.1,317.6a1.05,1.05 0 1,0 2.1,0a1.05,1.05 0 1,0 -2.1,0M78.4,318.5a1.05,1.05 0 1,0 2.1,0a1.05,1.05 0 1,0 -2.1,0M79.7,319.8a1.05,1.05 0 1,0 2.1,0a1.05,1.05 0 1,0 -2.1,0M81.0,320.2a1.05,1.05 0 1,0 2.1,0a1.05,1.05 0 1,0 -2.1,0M82.3,320.0a1.05,1.05 0 1,0 2.1,0a1.05,1.05 0 1,0 -2.1,0M83.5,320.1a1.05,1.05 0 1,0 2.1,0a1.05,1.05 0 1,0 -2.1,0M84.8,317.7a1.05,1.05 0 1,0 2.1,0a1.05,1.05 0 1,0 -2.1,0M86.1,317.7a1.05,1.05 0 1,0 2.1,0a1.05,1.05 0 1,0 -2.1,0M87.4,317.4a1.05,1.05 0 1,0 2.1,0a1.05,1.05 0 1,0 -2.1,0M88.7,317.8a1.05,1.05 0 1,0 2.1,0a1.05,1.05 0 1,0 -2.1,0M90.0,320.6a1.05,1.05 0 1,0 2.1,0a1.05,1.05 0 1,0 -2.1,0M91.3,317.8a1.05,1.05 0 1,0 2.1,0a1.05,1.05 0 1,0 -2.1,0M92.6,318.9a1.05,1.05 0 1,0 2.1,0a1.05,1.05 0 1,0 -2.1,0M93.9,317.7a1.05,1.05 0 1,0 2.1,0a1.05,1.05 0 1,0 -2.1,0M95.2,319.7a1.05,1.05 0 1,0 2.1,0a1.05,1.05 0 1,0 -2.1,0M96.5,320.4a1.05,1.05 0 1,0 2.1,0a1.05,1.05 0 1,0 -2.1,0M97.7,319.2a1.05,1.05 0 1,0 2.1,0a1.05,1.05 0 1,0 -2.1,0M99.0,321.2a1.05,1.05 0 1,0 2.1,0a1.05,1.05 0 1,0 -2.1,0M100.3,320.2a1.05,1.05 0 1,0 2.1,0a1.05,1.05 0 1,0 -2.1,0M101.6,321.1a1.05,1.05 0 1,0 2.1,0a1.05,1.05 0 1,0 -2.1,0M102.9,317.3a1.05,1.05 0 1,0 2.1,0a1.05,1.05 0 1,0 -2.1,0M104.2,274.3a1.05,1.05 0 1,0 2.1,0a1.05,1.05 0 1,0 -2.1,0M105.5,239.1a1.05,1.05 0 1,0 2.1,0a1.05,1.05 0 1,0 -2.1,0M106.8,211.1a1.05,1.05 0 1,0 2.1,0a1.05,1.05 0 1,0 -2.1,0M108.1,197.2a1.05,1.05 0 1,0 2.1,0a1.05,1.05 0 1,0 -2.1,0M109.4,239.3a1.05,1.05 0 1,0 2.1,0a1.05,1.05 0 1,0 -2.1,0M110.6,274.8a1.05,1.05 0 1,0 2.1,0a1.05,1.05 0 1,0 -2.1,0M111.9,285.4a1.05,1.05 0 1,0 2.1,0a1.05,1.05 0 1,0 -2.1,0M113.2,288.4a1.05,1.05 0 1,0 2.1,0a1.05,1.05 0 1,0 -2.1,0M114.5,291.2a1.05,1.05 0 1,0 2.1,0a1.05,1.05 0 1,0 -2.1,0M115.8,292.5a1.05,1.05 0 1,0 2.1,0a1.05,1.05 0 1,0 -2.1,0M117.1,293.4a1.05,1.05 0 1,0 2.1,0a1.05,1.05 0 1,0 -2.1,0M118.4,295.2a1.05,1.05 0 1,0 2.1,0a1.05,1.05 0 1,0 -2.1,0M119.7,298.5a1.05,1.05 0 1,0 2.1,0a1.05,1.05 0 1,0 -2.1,0M121.0,299.2a1.05,1.05 0 1,0 2.1,0a1.05,1.05 0 1,0 -2.1,0M122.2,299.8a1.05,1.05 0 1,0 2.1,0a1.05,1.05 0 1,0 -2.1,0M123.5,301.0a1.05,1.05 0 1,0 2.1,0a1.05,1.05 0 1,0 -2.1,0M124.8,302.6a1.05,1.05 0 1,0 2.1,0a1.05,1.05 0 1,0 -2.1,0M126.1,303.3a1.05,1.05 0 1,0 2.1,0a1.05,1.05 0 1,0 -2.1,0M127.4,304.2a1.05,1.05 0 1,0 2.1,0a1.05,1.05 0 1,0 -2.1,0M128.7,303.5a1.05,1.05 0 1,0 2.1,0a1.05,1.05 0 1,0 -2.1,0M130.0,303.9a1.05,1.05 0 1,0 2.1,0a1.05,1.05 0 1,0 -2.1,0M131.3,303.9a1.05,1.05 0 1,0 2.1,0a1.05,1.05 0 1,0 -2.1,0M132.6,304.9a1.05,1.05 0 1,0 2.1,0a1.05,1.05 0 1,0 -2.1,0M133.9,304.9a1.05,1.05 0 1,0 2.1,0a1.05,1.05 0 1,0 -2.1,0M135.1,305.7a1.05,1.05 0 1,0 2.1,0a1.05,1.05 0 1,0 -2.1,0M136.4,306.3a1.05,1.05 0 1,0 2.1,0a1.05,1.05 0 1,0 -2.1,0M137.7,306.8a1.05,1.05 0 1,0 2.1,0a1.05,1.05 0 1,0 -2.1,0M139.0,307.1a1.05,1.05 0 1,0 2.1,0a1.05,1.05 0 1,0 -2.1,0M140.3,307.3a1.05,1.05 0 1,0 2.1,0a1.05,1.05 0 1,0 -2.1,0M141.6,309.3a1.05,1.05 0 1,0 2.1,0a1.05,1.05 0 1,0 -2.1,0M142.9,308.7a1.05,1.05 0 1,0 2.1,0a1.05,1.05 0 1,0 -2.1,0M144.2,308.2a1.05,1.05 0 1,0 2.1,0a1.05,1.05 0 1,0 -2.1,0M145.5,309.3a1.05,1.05 0 1,0 2.1,0a1.05,1.05 0 1,0 -2.1,0M146.8,308.8a1.05,1.05 0 1,0 2.1,0a1.05,1.05 0 1,0 -2.1,0M148.1,308.9a1.05,1.05 0 1,0 2.1,0a1.05,1.05 0 1,0 -2.1,0M149.3,310.2a1.05,1.05 0 1,0 2.1,0a1.05,1.05 0 1,0 -2.1,0M150.6,309.3a1.05,1.05 0 1,0 2.1,0a1.05,1.05 0 1,0 -2.1,0M151.9,307.8a1.05,1.05 0 1,0 2.1,0a1.05,1.05 0 1,0 -2.1,0M153.2,310.7a1.05,1.05 0 1,0 2.1,0a1.05,1.05 0 1,0 -2.1,0M154.5,312.6a1.05,1.05 0 1,0 2.1,0a1.05,1.05 0 1,0 -2.1,0M155.8,311.0a1.05,1.05 0 1,0 2.1,0a1.05,1.05 0 1,0 -2.1,0M157.1,311.4a1.05,1.05 0 1,0 2.1,0a1.05,1.05 0 1,0 -2.1,0M158.4,313.1a1.05,1.05 0 1,0 2.1,0a1.05,1.05 0 1,0 -2.1,0M159.7,311.6a1.05,1.05 0 1,0 2.1,0a1.05,1.05 0 1,0 -2.1,0M160.9,312.3a1.05,1.05 0 1,0 2.1,0a1.05,1.05 0 1,0 -2.1,0M162.2,312.3a1.05,1.05 0 1,0 2.1,0a1.05,1.05 0 1,0 -2.1,0M163.5,313.4a1.05,1.05 0 1,0 2.1,0a1.05,1.05 0 1,0 -2.1,0M164.8,312.3a1.05,1.05 0 1,0 2.1,0a1.05,1.05 0 1,0 -2.1,0M166.1,314.6a1.05,1.05 0 1,0 2.1,0a1.05,1.05 0 1,0 -2.1,0M167.4,314.6a1.05,1.05 0 1,0 2.1,0a1.05,1.05 0 1,0 -2.1,0M168.7,315.2a1.05,1.05 0 1,0 2.1,0a1.05,1.05 0 1,0 -2.1,0M170.0,315.0a1.05,1.05 0 1,0 2.1,0a1.05,1.05 0 1,0 -2.1,0M171.3,313.4a1.05,1.05 0 1,0 2.1,0a1.05,1.05 0 1,0 -2.1,0M172.6,314.8a1.05,1.05 0 1,0 2.1,0a1.05,1.05 0 1,0 -2.1,0M173.8,314.3a1.05,1.05 0 1,0 2.1,0a1.05,1.05 0 1,0 -2.1,0M175.1,315.3a1.05,1.05 0 1,0 2.1,0a1.05,1.05 0 1,0 -2.1,0M176.4,315.0a1.05,1.05 0 1,0 2.1,0a1.05,1.05 0 1,0 -2.1,0M177.7,315.4a1.05,1.05 0 1,0 2.1,0a1.05,1.05 0 1,0 -2.1,0M179.0,315.6a1.05,1.05 0 1,0 2.1,0a1.05,1.05 0 1,0 -2.1,0M180.3,316.7a1.05,1.05 0 1,0 2.1,0a1.05,1.05 0 1,0 -2.1,0M181.6,317.1a1.05,1.05 0 1,0 2.1,0a1.05,1.05 0 1,0 -2.1,0M182.9,315.6a1.05,1.05 0 1,0 2.1,0a1.05,1.05 0 1,0 -2.1,0M184.2,316.1a1.05,1.05 0 1,0 2.1,0a1.05,1.05 0 1,0 -2.1,0M185.5,317.6a1.05,1.05 0 1,0 2.1,0a1.05,1.05 0 1,0 -2.1,0M186.8,317.3a1.05,1.05 0 1,0 2.1,0a1.05,1.05 0 1,0 -2.1,0M188.0,316.3a1.05,1.05 0 1,0 2.1,0a1.05,1.05 0 1,0 -2.1,0M189.3,316.6a1.05,1.05 0 1,0 2.1,0a1.05,1.05 0 1,0 -2.1,0M190.6,316.6a1.05,1.05 0 1,0 2.1,0a1.05,1.05 0 1,0 -2.1,0M191.9,317.9a1.05,1.05 0 1,0 2.1,0a1.05,1.05 0 1,0 -2.1,0M193.2,317.6a1.05,1.05 0 1,0 2.1,0a1.05,1.05 0 1,0 -2.1,0M194.5,318.0a1.05,1.05 0 1,0 2.1,0a1.05,1.05 0 1,0 -2.1,0M195.8,319.9a1.05,1.05 0 1,0 2.1,0a1.05,1.05 0 1,0 -2.1,0M197.1,317.4a1.05,1.05 0 1,0 2.1,0a1.05,1.05 0 1,0 -2.1,0M198.4,317.0a1.05,1.05 0 1,0 2.1,0a1.05,1.05 0 1,0 -2.1,0M199.7,316.3a1.05,1.05 0 1,0 2.1,0a1.05,1.05 0 1,0 -2.1,0M200.9,316.3a1.05,1.05 0 1,0 2.1,0a1.05,1.05 0 1,0 -2.1,0M202.2,318.6a1.05,1.05 0 1,0 2.1,0a1.05,1.05 0 1,0 -2.1,0M203.5,319.0a1.05,1.05 0 1,0 2.1,0a1.05,1.05 0 1,0 -2.1,0M204.8,320.4a1.05,1.05 0 1,0 2.1,0a1.05,1.05 0 1,0 -2.1,0M206.1,317.7a1.05,1.05 0 1,0 2.1,0a1.05,1.05 0 1,0 -2.1,0M207.4,317.9a1.05,1.05 0 1,0 2.1,0a1.05,1.05 0 1,0 -2.1,0M208.7,320.1a1.05,1.05 0 1,0 2.1,0a1.05,1.05 0 1,0 -2.1,0M210.0,320.6a1.05,1.05 0 1,0 2.1,0a1.05,1.05 0 1,0 -2.1,0M211.3,320.7a1.05,1.05 0 1,0 2.1,0a1.05,1.05 0 1,0 -2.1,0M212.5,320.9a1.05,1.05 0 1,0 2.1,0a1.05,1.05 0 1,0 -2.1,0" fill="#e01818"/>
<polyline points="33.0,315.8 34.3,315.9 35.6,316.1 36.9,317.0 38.2,316.5 39.5,316.8 40.7,318.1 42.0,316.3 43.3,316.1 44.6,317.3 45.9,317.0 47.2,316.9 48.5,318.9 49.8,318.0 51.1,316.9 52.4,317.8 53.6,319.4 54.9,316.6 56.2,316.0 57.5,316.5 58.8,315.9 60.1,318.3 61.4,317.8 62.7,316.8 64.0,317.4 65.2,316.5 66.5,316.4 67.8,317.1 69.1,319.4 70.4,316.2 71.7,317.5 73.0,318.8 74.3,318.7 75.6,319.8 76.9,318.8 78.2,318.3 79.4,317.8 80.7,317.1 82.0,319.0 83.3,317.2 84.6,317.6 85.9,317.4 87.2,317.2 88.5,315.9 89.8,317.2 91.1,318.2 92.3,318.6 93.6,319.4 94.9,318.9 96.2,318.3 97.5,319.0 98.8,319.8 100.1,318.7 101.4,317.9 102.7,318.2 104.0,316.9 105.2,281.6 106.5,252.1 107.8,228.8 109.1,217.2 110.4,252.5 111.7,281.4 113.0,287.3 114.3,291.9 115.6,296.6 116.9,297.9 118.1,297.0 119.4,299.1 120.7,300.2 122.0,301.1 123.3,301.3 124.6,302.1 125.9,303.4 127.2,306.0 128.5,306.4 129.8,306.6 131.0,306.6 132.3,306.3 133.6,307.0 134.9,308.9 136.2,309.5 137.5,310.9 138.8,310.1 140.1,309.7 141.4,308.4 142.7,310.0 143.9,308.8 145.2,311.5 146.5,310.8 147.8,311.3 149.1,310.5 150.4,311.1 151.7,311.2 153.0,313.2 154.3,313.4 155.6,312.3 156.8,311.5 158.1,313.1 159.4,313.4 160.7,313.2 162.0,314.8 163.3,314.7 164.6,315.0 165.9,314.5 167.2,314.5 168.5,314.6 169.7,313.7 171.0,315.5 172.3,315.9 173.6,314.3 174.9,315.4 176.2,316.8 177.5,316.6 178.8,317.5 180.1,316.5 181.3,316.5 182.6,315.4 183.9,315.5 185.2,314.7 186.5,315.4 187.8,316.7 189.1,317.5 190.4,318.5 191.7,317.9 193.0,316.8 194.2,317.8 195.5,317.7 196.8,319.5 198.1,320.3 199.4,319.8 200.7,317.8 202.0,317.8 203.3,318.5 204.6,318.0 205.9,319.1 207.2,319.7 208.4,320.1 209.7,319.8 211.0,318.8 212.3,318.6 213.6,319.2" fill="none" stroke="#2cb8f4" stroke-width="1.2" stroke-linejoin="round" />
<path d="M31.9,315.8a1.05,1.05 0 1,0 2.1,0a1.05,1.05 0 1,0 -2.1,0M33.2,315.9a1.05,1.05 0 1,0 2.1,0a1.05,1.05 0 1,0 -2.1,0M34.5,316.1a1.05,1.05 0 1,0 2.1,0a1.05,1.05 0 1,0 -2.1,0M35.8,317.0a1.05,1.05 0 1,0 2.1,0a1.05,1.05 0 1,0 -2.1,0M37.1,316.5a1.05,1.05 0 1,0 2.1,0a1.05,1.05 0 1,0 -2.1,0M38.4,316.8a1.05,1.05 0 1,0 2.1,0a1.05,1.05 0 1,0 -2.1,0M39.7,318.1a1.05,1.05 0 1,0 2.1,0a1.05,1.05 0 1,0 -2.1,0M41.0,316.3a1.05,1.05 0 1,0 2.1,0a1.05,1.05 0 1,0 -2.1,0M42.3,316.1a1.05,1.05 0 1,0 2.1,0a1.05,1.05 0 1,0 -2.1,0M43.6,317.3a1.05,1.05 0 1,0 2.1,0a1.05,1.05 0 1,0 -2.1,0M44.9,317.0a1.05,1.05 0 1,0 2.1,0a1.05,1.05 0 1,0 -2.1,0M46.1,316.9a1.05,1.05 0 1,0 2.1,0a1.05,1.05 0 1,0 -2.1,0M47.4,318.9a1.05,1.05 0 1,0 2.1,0a1.05,1.05 0 1,0 -2.1,0M48.7,318.0a1.05,1.05 0 1,0 2.1,0a1.05,1.05 0 1,0 -2.1,0M50.0,316.9a1.05,1.05 0 1,0 2.1,0a1.05,1.05 0 1,0 -2.1,0M51.3,317.8a1.05,1.05 0 1,0 2.1,0a1.05,1.05 0 1,0 -2.1,0M52.6,319.4a1.05,1.05 0 1,0 2.1,0a1.05,1.05 0 1,0 -2.1,0M53.9,316.6a1.05,1.05 0 1,0 2.1,0a1.05,1.05 0 1,0 -2.1,0M55.2,316.0a1.05,1.05 0 1,0 2.1,0a1.05,1.05 0 1,0 -2.1,0M56.5,316.5a1.05,1.05 0 1,0 2.1,0a1.05,1.05 0 1,0 -2.1,0M57.8,315.9a1.05,1.05 0 1,0 2.1,0a1.05,1.05 0 1,0 -2.1,0M59.0,318.3a1.05,1.05 0 1,0 2.1,0a1.05,1.05 0 1,0 -2.1,0M60.3,317.8a1.05,1.05 0 1,0 2.1,0a1.05,1.05 0 1,0 -2.1,0M61.6,316.8a1.05,1.05 0 1,0 2.1,0a1.05,1.05 0 1,0 -2.1,0M62.9,317.4a1.05,1.05 0 1,0 2.1,0a1.05,1.05 0 1,0 -2.1,0M64.2,316.5a1.05,1.05 0 1,0 2.1,0a1.05,1.05 0 1,0 -2.1,0M65.5,316.4a1.05,1.05 0 1,0 2.1,0a1.05,1.05 0 1,0 -2.1,0M66.8,317.1a1.05,1.05 0 1,0 2.1,0a1.05,1.05 0 1,0 -2.1,0M68.1,319.4a1.05,1.05 0 1,0 2.1,0a1.05,1.05 0 1,0 -2.1,0M69.4,316.2a1.05,1.05 0 1,0 2.1,0a1.05,1.05 0 1,0 -2.1,0M70.7,317.5a1.05,1.05 0 1,0 2.1,0a1.05,1.05 0 1,0 -2.1,0M71.9,318.8a1.05,1.05 0 1,0 2.1,0a1.05,1.05 0 1,0 -2.1,0M73.2,318.7a1.05,1.05 0 1,0 2.1,0a1.05,1.05 0 1,0 -2.1,0M74.5,319.8a1.05,1.05 0 1,0 2.1,0a1.05,1.05 0 1,0 -2.1,0M75.8,318.8a1.05,1.05 0 1,0 2.1,0a1.05,1.05 0 1,0 -2.1,0M77.1,318.3a1.05,1.05 0 1,0 2.1,0a1.05,1.05 0 1,0 -2.1,0M78.4,317.8a1.05,1.05 0 1,0 2.1,0a1.05,1.05 0 1,0 -2.1,0M79.7,317.1a1.05,1.05 0 1,0 2.1,0a1.05,1.05 0 1,0 -2.1,0M81.0,319.0a1.05,1.05 0 1,0 2.1,0a1.05,1.05 0 1,0 -2.1,0M82.3,317.2a1.05,1.05 0 1,0 2.1,0a1.05,1.05 0 1,0 -2.1,0M83.5,317.6a1.05,1.05 0 1,0 2.1,0a1.05,1.05 0 1,0 -2.1,0M84.8,317.4a1.05,1.05 0 1,0 2.1,0a1.05,1.05 0 1,0 -2.1,0M86.1,317.2a1.05,1.05 0 1,0 2.1,0a1.05,1.05 0 1,0 -2.1,0M87.4,315.9a1.05,1.05 0 1,0 2.1,0a1.05,1.05 0 1,0 -2.1,0M88.7,317.2a1.05,1.05 0 1,0 2.1,0a1.05,1.05 0 1,0 -2.1,0M90.0,318.2a1.05,1.05 0 1,0 2.1,0a1.05,1.05 0 1,0 -2.1,0M91.3,318.6a1.05,1.05 0 1,0 2.1,0a1.05,1.05 0 1,0 -2.1,0M92.6,319.4a1.05,1.05 0 1,0 2.1,0a1.05,1.05 0 1,0 -2.1,0M93.9,318.9a1.05,1.05 0 1,0 2.1,0a1.05,1.05 0 1,0 -2.1,0M95.2,318.3a1.05,1.05 0 1,0 2.1,0a1.05,1.05 0 1,0 -2.1,0M96.5,319.0a1.05,1.05 0 1,0 2.1,0a1.05,1.05 0 1,0 -2.1,0M97.7,319.8a1.05,1.05 0 1,0 2.1,0a1.05,1.05 0 1,0 -2.1,0M99.0,318.7a1.05,1.05 0 1,0 2.1,0a1.05,1.05 0 1,0 -2.1,0M100.3,317.9a1.05,1.05 0 1,0 2.1,0a1.05,1.05 0 1,0 -2.1,0M101.6,318.2a1.05,1.05 0 1,0 2.1,0a1.05,1.05 0 1,0 -2.1,0M102.9,316.9a1.05,1.05 0 1,0 2.1,0a1.05,1.05 0 1,0 -2.1,0M104.2,281.6a1.05,1.05 0 1,0 2.1,0a1.05,1.05 0 1,0 -2.1,0M105.5,252.1a1.05,1.05 0 1,0 2.1,0a1.05,1.05 0 1,0 -2.1,0M106.8,228.8a1.05,1.05 0 1,0 2.1,0a1.05,1.05 0 1,0 -2.1,0M108.1,217.2a1.05,1.05 0 1,0 2.1,0a1.05,1.05 0 1,0 -2.1,0M109.4,252.5a1.05,1.05 0 1,0 2.1,0a1.05,1.05 0 1,0 -2.1,0M110.6,281.4a1.05,1.05 0 1,0 2.1,0a1.05,1.05 0 1,0 -2.1,0M111.9,287.3a1.05,1.05 0 1,0 2.1,0a1.05,1.05 0 1,0 -2.1,0M113.2,291.9a1.05,1.05 0 1,0 2.1,0a1.05,1.05 0 1,0 -2.1,0M114.5,296.6a1.05,1.05 0 1,0 2.1,0a1.05,1.05 0 1,0 -2.1,0M115.8,297.9a1.05,1.05 0 1,0 2.1,0a1.05,1.05 0 1,0 -2.1,0M117.1,297.0a1.05,1.05 0 1,0 2.1,0a1.05,1.05 0 1,0 -2.1,0M118.4,299.1a1.05,1.05 0 1,0 2.1,0a1.05,1.05 0 1,0 -2.1,0M119.7,300.2a1.05,1.05 0 1,0 2.1,0a1.05,1.05 0 1,0 -2.1,0M121.0,301.1a1.05,1.05 0 1,0 2.1,0a1.05,1.05 0 1,0 -2.1,0M122.2,301.3a1.05,1.05 0 1,0 2.1,0a1.05,1.05 0 1,0 -2.1,0M123.5,302.1a1.05,1.05 0 1,0 2.1,0a1.05,1.05 0 1,0 -2.1,0M124.8,303.4a1.05,1.05 0 1,0 2.1,0a1.05,1.05 0 1,0 -2.1,0M126.1,306.0a1.05,1.05 0 1,0 2.1,0a1.05,1.05 0 1,0 -2.1,0M127.4,306.4a1.05,1.05 0 1,0 2.1,0a1.05,1.05 0 1,0 -2.1,0M128.7,306.6a1.05,1.05 0 1,0 2.1,0a1.05,1.05 0 1,0 -2.1,0M130.0,306.6a1.05,1.05 0 1,0 2.1,0a1.05,1.05 0 1,0 -2.1,0M131.3,306.3a1.05,1.05 0 1,0 2.1,0a1.05,1.05 0 1,0 -2.1,0M132.6,307.0a1.05,1.05 0 1,0 2.1,0a1.05,1.05 0 1,0 -2.1,0M133.9,308.9a1.05,1.05 0 1,0 2.1,0a1.05,1.05 0 1,0 -2.1,0M135.1,309.5a1.05,1.05 0 1,0 2.1,0a1.05,1.05 0 1,0 -2.1,0M136.4,310.9a1.05,1.05 0 1,0 2.1,0a1.05,1.05 0 1,0 -2.1,0M137.7,310.1a1.05,1.05 0 1,0 2.1,0a1.05,1.05 0 1,0 -2.1,0M139.0,309.7a1.05,1.05 0 1,0 2.1,0a1.05,1.05 0 1,0 -2.1,0M140.3,308.4a1.05,1.05 0 1,0 2.1,0a1.05,1.05 0 1,0 -2.1,0M141.6,310.0a1.05,1.05 0 1,0 2.1,0a1.05,1.05 0 1,0 -2.1,0M142.9,308.8a1.05,1.05 0 1,0 2.1,0a1.05,1.05 0 1,0 -2.1,0M144.2,311.5a1.05,1.05 0 1,0 2.1,0a1.05,1.05 0 1,0 -2.1,0M145.5,310.8a1.05,1.05 0 1,0 2.1,0a1.05,1.05 0 1,0 -2.1,0M146.8,311.3a1.05,1.05 0 1,0 2.1,0a1.05,1.05 0 1,0 -2.1,0M148.1,310.5a1.05,1.05 0 1,0 2.1,0a1.05,1.05 0 1,0 -2.1,0M149.3,311.1a1.05,1.05 0 1,0 2.1,0a1.05,1.05 0 1,0 -2.1,0M150.6,311.2a1.05,1.05 0 1,0 2.1,0a1.05,1.05 0 1,0 -2.1,0M151.9,313.2a1.05,1.05 0 1,0 2.1,0a1.05,1.05 0 1,0 -2.1,0M153.2,313.4a1.05,1.05 0 1,0 2.1,0a1.05,1.05 0 1,0 -2.1,0M154.5,312.3a1.05,1.05 0 1,0 2.1,0a1.05,1.05 0 1,0 -2.1,0M155.8,311.5a1.05,1.05 0 1,0 2.1,0a1.05,1.05 0 1,0 -2.1,0M157.1,313.1a1.05,1.05 0 1,0 2.1,0a1.05,1.05 0 1,0 -2.1,0M158.4,313.4a1.05,1.05 0 1,0 2.1,0a1.05,1.05 0 1,0 -2.1,0M159.7,313.2a1.05,1.05 0 1,0 2.1,0a1.05,1.05 0 1,0 -2.1,0M160.9,314.8a1.05,1.05 0 1,0 2.1,0a1.05,1.05 0 1,0 -2.1,0M162.2,314.7a1.05,1.05 0 1,0 2.1,0a1.05,1.05 0 1,0 -2.1,0M163.5,315.0a1.05,1.05 0 1,0 2.1,0a1.05,1.05 0 1,0 -2.1,0M164.8,314.5a1.05,1.05 0 1,0 2.1,0a1.05,1.05 0 1,0 -2.1,0M166.1,314.5a1.05,1.05 0 1,0 2.1,0a1.05,1.05 0 1,0 -2.1,0M167.4,314.6a1.05,1.05 0 1,0 2.1,0a1.05,1.05 0 1,0 -2.1,0M168.7,313.7a1.05,1.05 0 1,0 2.1,0a1.05,1.05 0 1,0 -2.1,0M170.0,315.5a1.05,1.05 0 1,0 2.1,0a1.05,1.05 0 1,0 -2.1,0M171.3,315.9a1.05,1.05 0 1,0 2.1,0a1.05,1.05 0 1,0 -2.1,0M172.6,314.3a1.05,1.05 0 1,0 2.1,0a1.05,1.05 0 1,0 -2.1,0M173.8,315.4a1.05,1.05 0 1,0 2.1,0a1.05,1.05 0 1,0 -2.1,0M175.1,316.8a1.05,1.05 0 1,0 2.1,0a1.05,1.05 0 1,0 -2.1,0M176.4,316.6a1.05,1.05 0 1,0 2.1,0a1.05,1.05 0 1,0 -2.1,0M177.7,317.5a1.05,1.05 0 1,0 2.1,0a1.05,1.05 0 1,0 -2.1,0M179.0,316.5a1.05,1.05 0 1,0 2.1,0a1.05,1.05 0 1,0 -2.1,0M180.3,316.5a1.05,1.05 0 1,0 2.1,0a1.05,1.05 0 1,0 -2.1,0M181.6,315.4a1.05,1.05 0 1,0 2.1,0a1.05,1.05 0 1,0 -2.1,0M182.9,315.5a1.05,1.05 0 1,0 2.1,0a1.05,1.05 0 1,0 -2.1,0M184.2,314.7a1.05,1.05 0 1,0 2.1,0a1.05,1.05 0 1,0 -2.1,0M185.5,315.4a1.05,1.05 0 1,0 2.1,0a1.05,1.05 0 1,0 -2.1,0M186.8,316.7a1.05,1.05 0 1,0 2.1,0a1.05,1.05 0 1,0 -2.1,0M188.0,317.5a1.05,1.05 0 1,0 2.1,0a1.05,1.05 0 1,0 -2.1,0M189.3,318.5a1.05,1.05 0 1,0 2.1,0a1.05,1.05 0 1,0 -2.1,0M190.6,317.9a1.05,1.05 0 1,0 2.1,0a1.05,1.05 0 1,0 -2.1,0M191.9,316.8a1.05,1.05 0 1,0 2.1,0a1.05,1.05 0 1,0 -2.1,0M193.2,317.8a1.05,1.05 0 1,0 2.1,0a1.05,1.05 0 1,0 -2.1,0M194.5,317.7a1.05,1.05 0 1,0 2.1,0a1.05,1.05 0 1,0 -2.1,0M195.8,319.5a1.05,1.05 0 1,0 2.1,0a1.05,1.05 0 1,0 -2.1,0M197.1,320.3a1.05,1.05 0 1,0 2.1,0a1.05,1.05 0 1,0 -2.1,0M198.4,319.8a1.05,1.05 0 1,0 2.1,0a1.05,1.05 0 1,0 -2.1,0M199.7,317.8a1.05,1.05 0 1,0 2.1,0a1.05,1.05 0 1,0 -2.1,0M200.9,317.8a1.05,1.05 0 1,0 2.1,0a1.05,1.05 0 1,0 -2.1,0M202.2,318.5a1.05,1.05 0 1,0 2.1,0a1.05,1.05 0 1,0 -2.1,0M203.5,318.0a1.05,1.05 0 1,0 2.1,0a1.05,1.05 0 1,0 -2.1,0M204.8,319.1a1.05,1.05 0 1,0 2.1,0a1.05,1.05 0 1,0 -2.1,0M206.1,319.7a1.05,1.05 0 1,0 2.1,0a1.05,1.05 0 1,0 -2.1,0M207.4,320.1a1.05,1.05 0 1,0 2.1,0a1.05,1.05 0 1,0 -2.1,0M208.7,319.8a1.05,1.05 0 1,0 2.1,0a1.05,1.05 0 1,0 -2.1,0M210.0,318.8a1.05,1.05 0 1,0 2.1,0a1.05,1.05 0 1,0 -2.1,0M211.3,318.6a1.05,1.05 0 1,0 2.1,0a1.05,1.05 0 1,0 -2.1,0M212.5,319.2a1.05,1.05 0 1,0 2.1,0a1.05,1.05 0 1,0 -2.1,0" fill="#18a0e8"/>
<polyline points="33.0,317.0 34.3,317.8 35.6,317.6 36.9,317.1 38.2,317.3 39.5,317.6 40.7,318.2 42.0,318.1 43.3,316.0 44.6,317.6 45.9,317.7 47.2,316.9 48.5,317.5 49.8,317.4 51.1,317.0 52.4,315.4 53.6,316.4 54.9,317.1 56.2,316.7 57.5,315.2 58.8,316.4 60.1,317.2 61.4,317.1 62.7,317.3 64.0,316.8 65.2,316.4 66.5,317.4 67.8,317.0 69.1,317.4 70.4,320.4 71.7,319.2 73.0,318.3 74.3,316.4 75.6,317.3 76.9,318.3 78.2,317.3 79.4,317.4 80.7,315.6 82.0,317.6 83.3,317.2 84.6,318.3 85.9,319.4 87.2,318.4 88.5,319.2 89.8,318.9 91.1,318.4 92.3,318.3 93.6,317.8 94.9,319.6 96.2,319.9 97.5,318.4 98.8,319.7 100.1,318.9 101.4,318.0 102.7,320.2 104.0,315.5 105.2,285.8 106.5,260.0 107.8,239.5 109.1,229.2 110.4,260.2 111.7,285.8 113.0,288.9 114.3,292.6 115.6,296.6 116.9,297.1 118.1,299.5 119.4,301.8 120.7,302.3 122.0,303.1 123.3,303.1 124.6,303.9 125.9,305.1 127.2,305.6 128.5,305.8 129.8,306.9 131.0,307.8 132.3,308.6 133.6,309.5 134.9,308.0 136.2,310.6 137.5,310.2 138.8,309.8 140.1,310.1 141.4,311.2 142.7,312.1 143.9,311.5 145.2,312.0 146.5,310.7 147.8,312.1 149.1,312.5 150.4,312.5 151.7,313.9 153.0,315.4 154.3,315.4 155.6,313.9 156.8,315.7 158.1,314.8 159.4,314.9 160.7,314.7 162.0,315.7 163.3,316.1 164.6,315.8 165.9,315.5 167.2,315.4 168.5,315.2 169.7,316.4 171.0,315.5 172.3,315.5 173.6,315.5 174.9,315.0 176.2,315.5 177.5,314.7 178.8,316.2 180.1,316.9 181.3,316.5 182.6,318.2 183.9,316.7 185.2,317.6 186.5,317.9 187.8,317.2 189.1,317.2 190.4,318.3 191.7,318.0 193.0,318.2 194.2,319.2 195.5,318.6 196.8,316.8 198.1,317.0 199.4,318.5 200.7,318.3 202.0,317.4 203.3,316.4 204.6,318.2 205.9,320.0 207.2,318.3 208.4,316.9 209.7,318.9 211.0,318.8 212.3,319.0 213.6,319.2" fill="none" stroke="#3ccc2c" stroke-width="1.2" stroke-linejoin="round" />
<path d="M31.9,317.0a1.05,1.05 0 1,0 2.1,0a1.05,1.05 0 1,0 -2.1,0M33.2,317.8a1.05,1.05 0 1,0 2.1,0a1.05,1.05 0 1,0 -2.1,0M34.5,317.6a1.05,1.05 0 1,0 2.1,0a1.05,1.05 0 1,0 -2.1,0M35.8,317.1a1.05,1.05 0 1,0 2.1,0a1.05,1.05 0 1,0 -2.1,0M37.1,317.3a1.05,1.05 0 1,0 2.1,0a1.05,1.05 0 1,0 -2.1,0M38.4,317.6a1.05,1.05 0 1,0 2.1,0a1.05,1.05 0 1,0 -2.1,0M39.7,318.2a1.05,1.05 0 1,0 2.1,0a1.05,1.05 0 1,0 -2.1,0M41.0,318.1a1.05,1.05 0 1,0 2.1,0a1.05,1.05 0 1,0 -2.1,0M42.3,316.0a1.05,1.05 0 1,0 2.1,0a1.05,1.05 0 1,0 -2.1,0M43.6,317.6a1.05,1.05 0 1,0 2.1,0a1.05,1.05 0 1,0 -2.1,0M44.9,317.7a1.05,1.05 0 1,0 2.1,0a1.05,1.05 0 1,0 -2.1,0M46.1,316.9a1.05,1.05 0 1,0 2.1,0a1.05,1.05 0 1,0 -2.1,0M47.4,317.5a1.05,1.05 0 1,0 2.1,0a1.05,1.05 0 1,0 -2.1,0M48.7,317.4a1.05,1.05 0 1,0 2.1,0a1.05,1.05 0 1,0 -2.1,0M50.0,317.0a1.05,1.05 0 1,0 2.1,0a1.05,1.05 0 1,0 -2.1,0M51.3,315.4a1.05,1.05 0 1,0 2.1,0a1.05,1.05 0 1,0 -2.1,0M52.6,316.4a1.05,1.05 0 1,0 2.1,0a1.05,1.05 0 1,0 -2.1,0M53.9,317.1a1.05,1.05 0 1,0 2.1,0a1.05,1.05 0 1,0 -2.1,0M55.2,316.7a1.05,1.05 0 1,0 2.1,0a1.05,1.05 0 1,0 -2.1,0M56.5,315.2a1.05,1.05 0 1,0 2.1,0a1.05,1.05 0 1,0 -2.1,0M57.8,316.4a1.05,1.05 0 1,0 2.1,0a1.05,1.05 0 1,0 -2.1,0M59.0,317.2a1.05,1.05 0 1,0 2.1,0a1.05,1.05 0 1,0 -2.1,0M60.3,317.1a1.05,1.05 0 1,0 2.1,0a1.05,1.05 0 1,0 -2.1,0M61.6,317.3a1.05,1.05 0 1,0 2.1,0a1.05,1.05 0 1,0 -2.1,0M62.9,316.8a1.05,1.05 0 1,0 2.1,0a1.05,1.05 0 1,0 -2.1,0M64.2,316.4a1.05,1.05 0 1,0 2.1,0a1.05,1.05 0 1,0 -2.1,0M65.5,317.4a1.05,1.05 0 1,0 2.1,0a1.05,1.05 0 1,0 -2.1,0M66.8,317.0a1.05,1.05 0 1,0 2.1,0a1.05,1.05 0 1,0 -2.1,0M68.1,317.4a1.05,1.05 0 1,0 2.1,0a1.05,1.05 0 1,0 -2.1,0M69.4,320.4a1.05,1.05 0 1,0 2.1,0a1.05,1.05 0 1,0 -2.1,0M70.7,319.2a1.05,1.05 0 1,0 2.1,0a1.05,1.05 0 1,0 -2.1,0M71.9,318.3a1.05,1.05 0 1,0 2.1,0a1.05,1.05 0 1,0 -2.1,0M73.2,316.4a1.05,1.05 0 1,0 2.1,0a1.05,1.05 0 1,0 -2.1,0M74.5,317.3a1.05,1.05 0 1,0 2.1,0a1.05,1.05 0 1,0 -2.1,0M75.8,318.3a1.05,1.05 0 1,0 2.1,0a1.05,1.05 0 1,0 -2.1,0M77.1,317.3a1.05,1.05 0 1,0 2.1,0a1.05,1.05 0 1,0 -2.1,0M78.4,317.4a1.05,1.05 0 1,0 2.1,0a1.05,1.05 0 1,0 -2.1,0M79.7,315.6a1.05,1.05 0 1,0 2.1,0a1.05,1.05 0 1,0 -2.1,0M81.0,317.6a1.05,1.05 0 1,0 2.1,0a1.05,1.05 0 1,0 -2.1,0M82.3,317.2a1.05,1.05 0 1,0 2.1,0a1.05,1.05 0 1,0 -2.1,0M83.5,318.3a1.05,1.05 0 1,0 2.1,0a1.05,1.05 0 1,0 -2.1,0M84.8,319.4a1.05,1.05 0 1,0 2.1,0a1.05,1.05 0 1,0 -2.1,0M86.1,318.4a1.05,1.05 0 1,0 2.1,0a1.05,1.05 0 1,0 -2.1,0M87.4,319.2a1.05,1.05 0 1,0 2.1,0a1.05,1.05 0 1,0 -2.1,0M88.7,318.9a1.05,1.05 0 1,0 2.1,0a1.05,1.05 0 1,0 -2.1,0M90.0,318.4a1.05,1.05 0 1,0 2.1,0a1.05,1.05 0 1,0 -2.1,0M91.3,318.3a1.05,1.05 0 1,0 2.1,0a1.05,1.05 0 1,0 -2.1,0M92.6,317.8a1.05,1.05 0 1,0 2.1,0a1.05,1.05 0 1,0 -2.1,0M93.9,319.6a1.05,1.05 0 1,0 2.1,0a1.05,1.05 0 1,0 -2.1,0M95.2,319.9a1.05,1.05 0 1,0 2.1,0a1.05,1.05 0 1,0 -2.1,0M96.5,318.4a1.05,1.05 0 1,0 2.1,0a1.05,1.05 0 1,0 -2.1,0M97.7,319.7a1.05,1.05 0 1,0 2.1,0a1.05,1.05 0 1,0 -2.1,0M99.0,318.9a1.05,1.05 0 1,0 2.1,0a1.05,1.05 0 1,0 -2.1,0M100.3,318.0a1.05,1.05 0 1,0 2.1,0a1.05,1.05 0 1,0 -2.1,0M101.6,320.2a1.05,1.05 0 1,0 2.1,0a1.05,1.05 0 1,0 -2.1,0M102.9,315.5a1.05,1.05 0 1,0 2.1,0a1.05,1.05 0 1,0 -2.1,0M104.2,285.8a1.05,1.05 0 1,0 2.1,0a1.05,1.05 0 1,0 -2.1,0M105.5,260.0a1.05,1.05 0 1,0 2.1,0a1.05,1.05 0 1,0 -2.1,0M106.8,239.5a1.05,1.05 0 1,0 2.1,0a1.05,1.05 0 1,0 -2.1,0M108.1,229.2a1.05,1.05 0 1,0 2.1,0a1.05,1.05 0 1,0 -2.1,0M109.4,260.2a1.05,1.05 0 1,0 2.1,0a1.05,1.05 0 1,0 -2.1,0M110.6,285.8a1.05,1.05 0 1,0 2.1,0a1.05,1.05 0 1,0 -2.1,0M111.9,288.9a1.05,1.05 0 1,0 2.1,0a1.05,1.05 0 1,0 -2.1,0M113.2,292.6a1.05,1.05 0 1,0 2.1,0a1.05,1.05 0 1,0 -2.1,0M114.5,296.6a1.05,1.05 0 1,0 2.1,0a1.05,1.05 0 1,0 -2.1,0M115.8,297.1a1.05,1.05 0 1,0 2.1,0a1.05,1.05 0 1,0 -2.1,0M117.1,299.5a1.05,1.05 0 1,0 2.1,0a1.05,1.05 0 1,0 -2.1,0M118.4,301.8a1.05,1.05 0 1,0 2.1,0a1.05,1.05 0 1,0 -2.1,0M119.7,302.3a1.05,1.05 0 1,0 2.1,0a1.05,1.05 0 1,0 -2.1,0M121.0,303.1a1.05,1.05 0 1,0 2.1,0a1.05,1.05 0 1,0 -2.1,0M122.2,303.1a1.05,1.05 0 1,0 2.1,0a1.05,1.05 0 1,0 -2.1,0M123.5,303.9a1.05,1.05 0 1,0 2.1,0a1.05,1.05 0 1,0 -2.1,0M124.8,305.1a1.05,1.05 0 1,0 2.1,0a1.05,1.05 0 1,0 -2.1,0M126.1,305.6a1.05,1.05 0 1,0 2.1,0a1.05,1.05 0 1,0 -2.1,0M127.4,305.8a1.05,1.05 0 1,0 2.1,0a1.05,1.05 0 1,0 -2.1,0M128.7,306.9a1.05,1.05 0 1,0 2.1,0a1.05,1.05 0 1,0 -2.1,0M130.0,307.8a1.05,1.05 0 1,0 2.1,0a1.05,1.05 0 1,0 -2.1,0M131.3,308.6a1.05,1.05 0 1,0 2.1,0a1.05,1.05 0 1,0 -2.1,0M132.6,309.5a1.05,1.05 0 1,0 2.1,0a1.05,1.05 0 1,0 -2.1,0M133.9,308.0a1.05,1.05 0 1,0 2.1,0a1.05,1.05 0 1,0 -2.1,0M135.1,310.6a1.05,1.05 0 1,0 2.1,0a1.05,1.05 0 1,0 -2.1,0M136.4,310.2a1.05,1.05 0 1,0 2.1,0a1.05,1.05 0 1,0 -2.1,0M137.7,309.8a1.05,1.05 0 1,0 2.1,0a1.05,1.05 0 1,0 -2.1,0M139.0,310.1a1.05,1.05 0 1,0 2.1,0a1.05,1.05 0 1,0 -2.1,0M140.3,311.2a1.05,1.05 0 1,0 2.1,0a1.05,1.05 0 1,0 -2.1,0M141.6,312.1a1.05,1.05 0 1,0 2.1,0a1.05,1.05 0 1,0 -2.1,0M142.9,311.5a1.05,1.05 0 1,0 2.1,0a1.05,1.05 0 1,0 -2.1,0M144.2,312.0a1.05,1.05 0 1,0 2.1,0a1.05,1.05 0 1,0 -2.1,0M145.5,310.7a1.05,1.05 0 1,0 2.1,0a1.05,1.05 0 1,0 -2.1,0M146.8,312.1a1.05,1.05 0 1,0 2.1,0a1.05,1.05 0 1,0 -2.1,0M148.1,312.5a1.05,1.05 0 1,0 2.1,0a1.05,1.05 0 1,0 -2.1,0M149.3,312.5a1.05,1.05 0 1,0 2.1,0a1.05,1.05 0 1,0 -2.1,0M150.6,313.9a1.05,1.05 0 1,0 2.1,0a1.05,1.05 0 1,0 -2.1,0M151.9,315.4a1.05,1.05 0 1,0 2.1,0a1.05,1.05 0 1,0 -2.1,0M153.2,315.4a1.05,1.05 0 1,0 2.1,0a1.05,1.05 0 1,0 -2.1,0M154.5,313.9a1.05,1.05 0 1,0 2.1,0a1.05,1.05 0 1,0 -2.1,0M155.8,315.7a1.05,1.05 0 1,0 2.1,0a1.05,1.05 0 1,0 -2.1,0M157.1,314.8a1.05,1.05 0 1,0 2.1,0a1.05,1.05 0 1,0 -2.1,0M158.4,314.9a1.05,1.05 0 1,0 2.1,0a1.05,1.05 0 1,0 -2.1,0M159.7,314.7a1.05,1.05 0 1,0 2.1,0a1.05,1.05 0 1,0 -2.1,0M160.9,315.7a1.05,1.05 0 1,0 2.1,0a1.05,1.05 0 1,0 -2.1,0M162.2,316.1a1.05,1.05 0 1,0 2.1,0a1.05,1.05 0 1,0 -2.1,0M163.5,315.8a1.05,1.05 0 1,0 2.1,0a1.05,1.05 0 1,0 -2.1,0M164.8,315.5a1.05,1.05 0 1,0 2.1,0a1.05,1.05 0 1,0 -2.1,0M166.1,315.4a1.05,1.05 0 1,0 2.1,0a1.05,1.05 0 1,0 -2.1,0M167.4,315.2a1.05,1.05 0 1,0 2.1,0a1.05,1.05 0 1,0 -2.1,0M168.7,316.4a1.05,1.05 0 1,0 2.1,0a1.05,1.05 0 1,0 -2.1,0M170.0,315.5a1.05,1.05 0 1,0 2.1,0a1.05,1.05 0 1,0 -2.1,0M171.3,315.5a1.05,1.05 0 1,0 2.1,0a1.05,1.05 0 1,0 -2.1,0M172.6,315.5a1.05,1.05 0 1,0 2.1,0a1.05,1.05 0 1,0 -2.1,0M173.8,315.0a1.05,1.05 0 1,0 2.1,0a1.05,1.05 0 1,0 -2.1,0M175.1,315.5a1.05,1.05 0 1,0 2.1,0a1.05,1.05 0 1,0 -2.1,0M176.4,314.7a1.05,1.05 0 1,0 2.1,0a1.05,1.05 0 1,0 -2.1,0M177.7,316.2a1.05,1.05 0 1,0 2.1,0a1.05,1.05 0 1,0 -2.1,0M179.0,316.9a1.05,1.05 0 1,0 2.1,0a1.05,1.05 0 1,0 -2.1,0M180.3,316.5a1.05,1.05 0 1,0 2.1,0a1.05,1.05 0 1,0 -2.1,0M181.6,318.2a1.05,1.05 0 1,0 2.1,0a1.05,1.05 0 1,0 -2.1,0M182.9,316.7a1.05,1.05 0 1,0 2.1,0a1.05,1.05 0 1,0 -2.1,0M184.2,317.6a1.05,1.05 0 1,0 2.1,0a1.05,1.05 0 1,0 -2.1,0M185.5,317.9a1.05,1.05 0 1,0 2.1,0a1.05,1.05 0 1,0 -2.1,0M186.8,317.2a1.05,1.05 0 1,0 2.1,0a1.05,1.05 0 1,0 -2.1,0M188.0,317.2a1.05,1.05 0 1,0 2.1,0a1.05,1.05 0 1,0 -2.1,0M189.3,318.3a1.05,1.05 0 1,0 2.1,0a1.05,1.05 0 1,0 -2.1,0M190.6,318.0a1.05,1.05 0 1,0 2.1,0a1.05,1.05 0 1,0 -2.1,0M191.9,318.2a1.05,1.05 0 1,0 2.1,0a1.05,1.05 0 1,0 -2.1,0M193.2,319.2a1.05,1.05 0 1,0 2.1,0a1.05,1.05 0 1,0 -2.1,0M194.5,318.6a1.05,1.05 0 1,0 2.1,0a1.05,1.05 0 1,0 -2.1,0M195.8,316.8a1.05,1.05 0 1,0 2.1,0a1.05,1.05 0 1,0 -2.1,0M197.1,317.0a1.05,1.05 0 1,0 2.1,0a1.05,1.05 0 1,0 -2.1,0M198.4,318.5a1.05,1.05 0 1,0 2.1,0a1.05,1.05 0 1,0 -2.1,0M199.7,318.3a1.05,1.05 0 1,0 2.1,0a1.05,1.05 0 1,0 -2.1,0M200.9,317.4a1.05,1.05 0 1,0 2.1,0a1.05,1.05 0 1,0 -2.1,0M202.2,316.4a1.05,1.05 0 1,0 2.1,0a1.05,1.05 0 1,0 -2.1,0M203.5,318.2a1.05,1.05 0 1,0 2.1,0a1.05,1.05 0 1,0 -2.1,0M204.8,320.0a1.05,1.05 0 1,0 2.1,0a1.05,1.05 0 1,0 -2.1,0M206.1,318.3a1.05,1.05 0 1,0 2.1,0a1.05,1.05 0 1,0 -2.1,0M207.4,316.9a1.05,1.05 0 1,0 2.1,0a1.05,1.05 0 1,0 -2.1,0M208.7,318.9a1.05,1.05 0 1,0 2.1,0a1.05,1.05 0 1,0 -2.1,0M210.0,318.8a1.05,1.05 0 1,0 2.1,0a1.05,1.05 0 1,0 -2.1,0M211.3,319.0a1.05,1.05 0 1,0 2.1,0a1.05,1.05 0 1,0 -2.1,0M212.5,319.2a1.05,1.05 0 1,0 2.1,0a1.05,1.05 0 1,0 -2.1,0" fill="#28b41c"/>
<path d="M33,325.5v-2.3M33,183.5v2.3M58.8,325.5v-2.3M58.8,183.5v2.3M84.6,325.5v-2.3M84.6,183.5v2.3M110.4,325.5v-2.3M110.4,183.5v2.3M136.2,325.5v-2.3M136.2,183.5v2.3M162,325.5v-2.3M162,183.5v2.3M187.8,325.5v-2.3M187.8,183.5v2.3M213.6,325.5v-2.3M213.6,183.5v2.3M45.9,325.5v-1.3M45.9,183.5v1.3M71.7,325.5v-1.3M71.7,183.5v1.3M97.5,325.5v-1.3M97.5,183.5v1.3M123.3,325.5v-1.3M123.3,183.5v1.3M149.1,325.5v-1.3M149.1,183.5v1.3M174.9,325.5v-1.3M174.9,183.5v1.3M200.7,325.5v-1.3M200.7,183.5v1.3M33,316.5h2.3M213.5,316.5h-2.3M33,281.37h2.3M213.5,281.37h-2.3M33,246.24h2.3M213.5,246.24h-2.3M33,211.11h2.3M213.5,211.11h-2.3M33,298.94h1.3M213.5,298.94h-1.3M33,263.81h1.3M213.5,263.81h-1.3M33,228.68h1.3M213.5,228.68h-1.3M33,193.55h1.3M213.5,193.55h-1.3" stroke="#262626" stroke-width="1" fill="none"/>
<rect x="33" y="183.5" width="180.5" height="142" fill="none" stroke="#262626" stroke-width="1.1"/>
<text transform="translate(30.41 335.8) scale(0.930 1)" font-family="Liberation Sans" font-size="10" font-weight="normal" fill="#111" stroke="#111" stroke-width="0.22">0</text>
<text transform="translate(56.21 335.8) scale(0.930 1)" font-family="Liberation Sans" font-size="10" font-weight="normal" fill="#111" stroke="#111" stroke-width="0.22">1</text>
<text transform="translate(82.01 335.8) scale(0.930 1)" font-family="Liberation Sans" font-size="10" font-weight="normal" fill="#111" stroke="#111" stroke-width="0.22">2</text>
<text transform="translate(107.81 335.8) scale(0.930 1)" font-family="Liberation Sans" font-size="10" font-weight="normal" fill="#111" stroke="#111" stroke-width="0.22">3</text>
<text transform="translate(133.61 335.8) scale(0.930 1)" font-family="Liberation Sans" font-size="10" font-weight="normal" fill="#111" stroke="#111" stroke-width="0.22">4</text>
<text transform="translate(159.41 335.8) scale(0.930 1)" font-family="Liberation Sans" font-size="10" font-weight="normal" fill="#111" stroke="#111" stroke-width="0.22">5</text>
<text transform="translate(185.21 335.8) scale(0.930 1)" font-family="Liberation Sans" font-size="10" font-weight="normal" fill="#111" stroke="#111" stroke-width="0.22">6</text>
<text transform="translate(211.01 335.8) scale(0.930 1)" font-family="Liberation Sans" font-size="10" font-weight="normal" fill="#111" stroke="#111" stroke-width="0.22">7</text>
<text transform="translate(26.16 320.25) scale(0.930 1)" font-family="Liberation Sans" font-size="10" font-weight="normal" fill="#111" stroke="#111" stroke-width="0.22">0</text>
<text transform="translate(21 285.12) scale(0.930 1)" font-family="Liberation Sans" font-size="10" font-weight="normal" fill="#111" stroke="#111" stroke-width="0.22">10</text>
<text transform="translate(21 249.99) scale(0.930 1)" font-family="Liberation Sans" font-size="10" font-weight="normal" fill="#111" stroke="#111" stroke-width="0.22">20</text>
<text transform="translate(21 214.86) scale(0.930 1)" font-family="Liberation Sans" font-size="10" font-weight="normal" fill="#111" stroke="#111" stroke-width="0.22">30</text>
<text transform="translate(105.39 346.7) scale(0.974 1)" font-family="Liberation Sans" font-size="11" font-weight="bold" fill="#000">Time (s)</text>
<text transform="translate(16 282.9) rotate(-90) scale(1.022 1) translate(-0.44 0)" font-family="Liberation Sans" font-size="11" font-weight="bold" fill="#000">ΔPSC (%)</text>
<line x1="139.8" y1="197.5" x2="161.7" y2="197.5" stroke="#f03434" stroke-width="1.3" />
<path d="M149.3,197.5a1.4,1.4 0 1,0 2.8,0a1.4,1.4 0 1,0 -2.8,0" fill="#e01818"/>
<text transform="translate(163.2 201.2) scale(0.946 1)" font-family="Liberation Sans" font-size="9.8" font-weight="normal" fill="#111" stroke="#111" stroke-width="0.22">V<tspan font-size="6.47" dy="3.23">GS1</tspan><tspan dy="-3.23"> = 3V</tspan></text>
<line x1="139.8" y1="211.75" x2="161.7" y2="211.75" stroke="#2cb8f4" stroke-width="1.3" />
<path d="M149.3,211.8a1.4,1.4 0 1,0 2.8,0a1.4,1.4 0 1,0 -2.8,0" fill="#18a0e8"/>
<text transform="translate(163.2 215.3) scale(0.946 1)" font-family="Liberation Sans" font-size="9.8" font-weight="normal" fill="#111" stroke="#111" stroke-width="0.22">V<tspan font-size="6.47" dy="3.23">GS2</tspan><tspan dy="-3.23"> = 3V</tspan></text>
<line x1="139.8" y1="226" x2="161.7" y2="226" stroke="#3ccc2c" stroke-width="1.3" />
<path d="M149.3,226.0a1.4,1.4 0 1,0 2.8,0a1.4,1.4 0 1,0 -2.8,0" fill="#28b41c"/>
<text transform="translate(163.2 229.4) scale(0.946 1)" font-family="Liberation Sans" font-size="9.8" font-weight="normal" fill="#111" stroke="#111" stroke-width="0.22">V<tspan font-size="6.47" dy="3.23">GS3</tspan><tspan dy="-3.23"> = 3V</tspan></text>
<text transform="translate(163.41 243)" font-family="Liberation Sans" font-size="9.4" font-weight="normal" fill="#111" stroke="#111" stroke-width="0.22">τ = 200 ms</text>
<text transform="translate(38.6 198.8) scale(0.940 1)" font-family="Liberation Sans" font-size="9.9" font-weight="normal" fill="#111" stroke="#111" stroke-width="0.22">V<tspan font-size="6.53" dy="3.27">DS</tspan><tspan dy="-3.27"> = 2 V</tspan></text>
<text transform="translate(12.9 184.3)" font-family="Liberation Serif" font-size="17" font-weight="bold" fill="#000">d)</text>
<polyline points="264.5,217.2 306.0,217.2 307.9,201.1 308.8,201.1 310.6,217.2 312.2,217.2 314.0,201.1 314.9,201.1 316.8,217.2 327.6,217.2 329.4,201.1 330.3,201.1 332.2,217.2 334.2,217.2 336.0,201.1 336.9,201.1 338.8,217.2 349.6,217.2 351.4,201.1 352.3,201.1 354.2,217.2 356.2,217.2 358.0,201.1 358.9,201.1 360.8,217.2 462.5,217.2" fill="none" stroke="#1c1c74" stroke-width="1.25" stroke-linejoin="round" />
<path d="M264.3,221v-2.3M264.3,184.5v2.3M308.3,221v-2.3M308.3,184.5v2.3M352.3,221v-2.3M352.3,184.5v2.3M396.3,221v-2.3M396.3,184.5v2.3M440.3,221v-2.3M440.3,184.5v2.3M286.3,221v-1.3M286.3,184.5v1.3M330.3,221v-1.3M330.3,184.5v1.3M374.3,221v-1.3M374.3,184.5v1.3M418.3,221v-1.3M418.3,184.5v1.3M462.3,221v-1.3M462.3,184.5v1.3M264.5,217.2h2.3M462.5,217.2h-2.3M264.5,201.1h2.3M462.5,201.1h-2.3M264.5,185h2.3M462.5,185h-2.3M264.5,209.15h1.3M462.5,209.15h-1.3M264.5,193.05h1.3M462.5,193.05h-1.3" stroke="#262626" stroke-width="1" fill="none"/>
<rect x="264.5" y="184.5" width="198" height="36.5" fill="none" stroke="#262626" stroke-width="1.1"/>
<text transform="translate(303.64 196.9) scale(1.103 1)" font-family="Liberation Sans" font-size="8.2" font-weight="bold" fill="#1a8cf0">G3</text>
<text transform="translate(327.34 196.9) scale(1.084 1)" font-family="Liberation Sans" font-size="8.2" font-weight="bold" fill="#f01010">G2</text>
<text transform="translate(349.85 196.9) scale(1.075 1)" font-family="Liberation Sans" font-size="8.2" font-weight="bold" fill="#18c818">G1</text>
<text transform="translate(408.15 210.7) scale(1.078 1)" font-family="Liberation Sans" font-size="9.4" font-weight="normal" fill="#111" stroke="#111" stroke-width="0.22">Δτ = 50 ms</text>
<text transform="translate(254.76 220.95) scale(0.930 1)" font-family="Liberation Sans" font-size="10" font-weight="normal" fill="#111" stroke="#111" stroke-width="0.22">0</text>
<text transform="translate(254.86 204.85) scale(0.930 1)" font-family="Liberation Sans" font-size="10" font-weight="normal" fill="#111" stroke="#111" stroke-width="0.22">2</text>
<text transform="translate(254.67 188.75) scale(0.930 1)" font-family="Liberation Sans" font-size="10" font-weight="normal" fill="#111" stroke="#111" stroke-width="0.22">4</text>
<text transform="translate(251.8 217.1) rotate(-90) scale(1.105 1) translate(-0 0)" font-family="Liberation Sans" font-size="10" font-weight="normal" fill="#111">V<tspan font-size="6.6" dy="3.3">GS</tspan><tspan dy="-3.3">(V)</tspan></text>
<polyline points="264.3,316.5 264.7,316.6 265.2,316.8 265.6,316.8 266.1,316.7 266.5,316.9 266.9,316.8 267.4,316.9 267.8,316.7 268.3,316.9 268.7,317.0 269.1,317.2 269.6,317.1 270.0,317.2 270.5,317.0 270.9,317.1 271.3,317.2 271.8,317.4 272.2,317.2 272.7,317.0 273.1,316.9 273.5,316.9 274.0,316.8 274.4,316.9 274.9,317.1 275.3,317.1 275.7,317.3 276.2,317.3 276.6,317.1 277.1,317.0 277.5,316.9 277.9,317.0 278.4,317.2 278.8,317.2 279.3,317.3 279.7,317.2 280.1,317.1 280.6,317.4 281.0,317.4 281.5,317.5 281.9,317.1 282.3,316.8 282.8,316.7 283.2,317.0 283.7,317.3 284.1,317.1 284.5,317.0 285.0,316.8 285.4,316.7 285.9,316.9 286.3,316.9 286.7,317.2 287.2,317.3 287.6,317.2 288.1,317.2 288.5,317.2 288.9,317.3 289.4,317.4 289.8,317.3 290.3,317.4 290.7,317.5 291.1,317.4 291.6,317.4 292.0,317.5 292.5,317.3 292.9,317.2 293.3,317.4 293.8,317.3 294.2,317.2 294.7,317.2 295.1,316.9 295.5,317.0 296.0,316.7 296.4,316.7 296.9,316.4 297.3,316.4 297.7,316.6 298.2,316.6 298.6,316.5 299.1,316.9 299.5,316.8 299.9,317.1 300.4,316.9 300.8,316.7 301.3,317.1 301.7,317.0 302.1,317.1 302.6,317.3 303.0,317.0 303.5,317.0 303.9,316.9 304.3,317.0 304.8,317.0 305.2,313.0 305.7,309.4 306.1,305.8 306.5,300.6 307.0,295.5 307.4,290.3 307.9,285.1 308.3,282.5 308.7,279.8 309.2,277.4 309.6,274.8 310.1,274.0 310.5,275.9 310.9,277.6 311.4,279.2 311.8,281.1 312.3,283.2 312.7,280.6 313.1,277.9 313.6,275.2 314.0,272.8 314.5,270.2 314.9,267.1 315.3,264.2 315.8,261.3 316.2,258.4 316.7,255.4 317.1,258.2 317.5,261.4 318.0,264.4 318.4,267.0 318.9,269.7 319.3,274.0 319.7,278.3 320.2,282.4 320.6,287.0 321.1,291.0 321.5,292.0 321.9,293.0 322.4,293.7 322.8,294.4 323.3,295.2 323.7,296.1 324.1,296.5 324.6,296.9 325.0,297.5 325.5,298.1 325.9,298.6 326.3,298.9 326.8,299.4 327.2,299.8 327.7,300.9 328.1,301.2 328.5,302.0 329.0,302.5 329.4,302.9 329.9,303.2 330.3,303.5 330.7,304.1 331.2,304.5 331.6,304.8 332.1,305.0 332.5,305.4 332.9,305.5 333.4,305.8 333.8,306.0 334.3,306.5 334.7,306.9 335.1,306.9 335.6,307.3 336.0,307.8 336.5,307.7 336.9,307.7 337.3,308.1 337.8,308.3 338.2,308.4 338.7,308.3 339.1,308.6 339.5,308.7 340.0,308.9 340.4,309.2 340.9,309.5 341.3,309.6 341.7,309.6 342.2,309.8 342.6,309.9 343.1,310.1 343.5,310.2 343.9,310.3 344.4,310.4 344.8,310.5 345.3,310.7 345.7,311.1 346.1,311.2 346.6,311.4 347.0,311.6 347.5,311.7 347.9,311.9 348.3,311.9 348.8,312.0 349.2,312.2 349.7,311.6 350.1,311.8 350.5,312.1 351.0,312.5 351.4,312.4 351.9,312.5 352.3,312.7 352.7,312.6 353.2,312.9 353.6,313.0 354.1,313.0 354.5,312.8 354.9,312.9 355.4,313.4 355.8,313.9 356.3,313.5 356.7,313.2 357.1,313.5 357.6,313.6 358.0,313.6 358.5,313.8 358.9,313.9 359.3,314.1 359.8,314.1 360.2,314.0 360.7,314.3 361.1,314.2 361.5,314.4 362.0,314.6 362.4,314.6 362.9,314.6 363.3,314.6 363.7,314.3 364.2,314.3 364.6,314.4 365.1,314.2 365.5,314.0 365.9,314.3 366.4,314.5 366.8,314.3 367.3,314.5 367.7,314.6 368.1,314.8 368.6,314.8 369.0,314.8 369.5,314.7 369.9,314.8 370.3,314.8 370.8,314.8 371.2,314.8 371.7,314.7 372.1,315.0 372.5,314.8 373.0,314.7 373.4,314.6 373.9,314.9 374.3,314.9 374.7,315.1 375.2,315.3 375.6,315.3 376.1,315.5 376.5,315.6 376.9,315.6 377.4,315.5 377.8,315.6 378.3,315.4 378.7,315.4 379.1,315.4 379.6,315.6 380.0,315.7 380.5,315.6 380.9,315.9 381.3,316.1 381.8,316.1 382.2,316.0 382.7,316.1 383.1,315.6 383.5,315.6 384.0,315.8 384.4,316.2 384.9,316.0 385.3,316.3 385.7,316.7 386.2,317.0 386.6,316.4 387.1,316.6 387.5,316.6 387.9,316.7 388.4,316.6 388.8,316.4 389.3,316.4 389.7,316.6 390.1,316.7 390.6,316.6 391.0,316.6 391.5,316.7 391.9,316.8 392.3,316.7 392.8,316.6 393.2,316.4 393.7,316.3 394.1,316.2 394.5,316.0 395.0,315.8 395.4,316.1 395.9,315.9 396.3,315.8 396.7,315.9 397.2,316.2 397.6,316.5 398.1,316.4 398.5,316.3 398.9,316.2 399.4,316.1 399.8,316.1 400.3,316.3 400.7,316.1 401.1,316.1 401.6,316.1 402.0,316.2 402.5,316.1 402.9,316.1 403.3,316.0 403.8,316.0 404.2,316.2 404.7,316.2 405.1,315.8 405.5,316.0 406.0,316.1 406.4,316.1 406.9,316.2 407.3,315.7 407.7,315.6 408.2,316.0 408.6,316.5 409.1,317.0 409.5,316.8 409.9,316.8 410.4,317.0 410.8,316.7 411.3,317.0 411.7,316.9 412.1,316.9 412.6,316.7 413.0,316.8 413.5,316.8 413.9,317.0 414.3,316.8 414.8,316.8 415.2,317.1 415.7,316.9 416.1,316.9 416.5,317.0 417.0,316.9 417.4,316.8 417.9,317.1 418.3,317.3 418.7,317.3 419.2,317.3 419.6,317.0 420.1,317.0 420.5,317.3 420.9,317.4 421.4,317.1 421.8,316.7 422.3,316.6 422.7,316.7 423.1,316.6 423.6,316.6 424.0,316.7 424.5,316.9 424.9,316.9 425.3,317.1 425.8,316.8 426.2,316.9 426.7,317.0 427.1,316.7 427.5,316.9 428.0,316.6 428.4,316.4 428.9,317.0 429.3,317.2 429.7,317.2 430.2,317.4 430.6,317.5 431.1,317.2 431.5,317.3 431.9,317.5 432.4,317.3 432.8,317.3 433.3,317.1 433.7,317.2 434.1,317.1 434.6,316.9 435.0,316.7 435.5,316.6 435.9,316.7 436.3,316.8 436.8,316.7 437.2,316.6 437.7,316.7 438.1,316.8 438.5,317.0 439.0,316.9 439.4,316.8 439.9,316.9 440.3,317.2 440.7,317.1 441.2,317.1 441.6,316.9 442.1,316.8 442.5,317.0 442.9,317.1 443.4,317.3 443.8,316.9 444.3,317.1 444.7,316.9 445.1,317.0 445.6,316.6 446.0,316.6 446.5,316.5 446.9,316.8 447.3,316.8 447.8,317.1 448.2,317.0 448.7,317.3 449.1,317.2 449.5,317.5 450.0,317.3 450.4,317.1 450.9,317.2 451.3,317.1 451.7,317.0 452.2,316.8 452.6,316.7 453.1,316.8 453.5,316.7 453.9,316.8 454.4,316.4 454.8,316.6 455.3,316.6 455.7,316.9 456.1,316.8 456.6,316.7 457.0,316.7 457.5,316.8 457.9,316.9 458.3,316.8 458.8,316.7 459.2,316.8 459.7,317.0 460.1,316.6 460.5,316.5 461.0,316.4 461.4,316.8 461.9,317.1 462.3,317.2 462.7,317.2 463.2,317.0 463.6,317.2 464.1,317.1" fill="none" stroke="#2cc0f4" stroke-width="1.25" stroke-linejoin="round" />
<polyline points="264.3,316.8 264.7,317.2 265.2,316.9 265.6,317.1 266.1,317.1 266.5,316.9 266.9,316.9 267.4,316.8 267.8,316.8 268.3,316.7 268.7,316.5 269.1,317.1 269.6,316.9 270.0,317.1 270.5,317.1 270.9,317.2 271.3,316.9 271.8,316.7 272.2,316.1 272.7,316.4 273.1,316.6 273.5,316.4 274.0,316.6 274.4,316.8 274.9,317.3 275.3,317.3 275.7,317.4 276.2,317.4 276.6,317.5 277.1,317.4 277.5,317.2 277.9,317.3 278.4,317.4 278.8,317.1 279.3,316.9 279.7,316.8 280.1,317.2 280.6,317.1 281.0,316.7 281.5,316.9 281.9,317.0 282.3,317.3 282.8,317.3 283.2,317.6 283.7,317.3 284.1,317.4 284.5,317.3 285.0,317.0 285.4,316.9 285.9,317.2 286.3,317.3 286.7,317.1 287.2,317.3 287.6,317.4 288.1,317.4 288.5,317.4 288.9,317.3 289.4,317.1 289.8,317.0 290.3,317.0 290.7,316.8 291.1,316.8 291.6,316.8 292.0,316.8 292.5,317.0 292.9,316.8 293.3,316.7 293.8,316.7 294.2,316.7 294.7,316.7 295.1,316.6 295.5,316.9 296.0,316.8 296.4,316.6 296.9,316.7 297.3,317.0 297.7,316.6 298.2,316.6 298.6,316.6 299.1,316.8 299.5,317.1 299.9,317.0 300.4,316.6 300.8,316.8 301.3,316.9 301.7,317.0 302.1,316.9 302.6,316.8 303.0,317.2 303.5,316.9 303.9,316.6 304.3,316.8 304.8,316.8 305.2,316.9 305.7,316.9 306.1,317.2 306.5,317.4 307.0,317.1 307.4,317.2 307.9,316.9 308.3,316.6 308.7,316.8 309.2,316.7 309.6,316.3 310.1,316.4 310.5,316.3 310.9,316.5 311.4,316.5 311.8,316.4 312.3,316.3 312.7,316.5 313.1,316.4 313.6,316.5 314.0,316.3 314.5,316.5 314.9,316.8 315.3,316.9 315.8,317.1 316.2,317.2 316.7,316.9 317.1,316.9 317.5,316.9 318.0,316.9 318.4,316.8 318.9,316.9 319.3,316.8 319.7,316.8 320.2,316.8 320.6,316.6 321.1,316.8 321.5,316.9 321.9,316.9 322.4,316.9 322.8,316.5 323.3,316.3 323.7,316.2 324.1,316.5 324.6,316.5 325.0,316.7 325.5,316.5 325.9,316.4 326.3,316.4 326.8,316.7 327.2,310.2 327.7,304.0 328.1,297.9 328.5,291.8 329.0,286.2 329.4,281.5 329.9,276.8 330.3,271.9 330.7,267.2 331.2,262.3 331.6,257.5 332.1,253.0 332.5,256.5 332.9,259.7 333.4,262.7 333.8,265.6 334.3,268.4 334.7,265.2 335.1,261.7 335.6,257.9 336.0,254.7 336.5,251.2 336.9,247.9 337.3,244.3 337.8,240.4 338.2,236.7 338.7,238.7 339.1,240.6 339.5,242.9 340.0,244.7 340.4,246.7 340.9,251.3 341.3,256.0 341.7,260.5 342.2,265.0 342.6,269.2 343.1,271.5 343.5,273.6 343.9,275.8 344.4,277.7 344.8,279.9 345.3,281.8 345.7,283.8 346.1,285.1 346.6,286.5 347.0,287.9 347.5,289.1 347.9,290.2 348.3,291.7 348.8,293.1 349.2,294.1 349.7,295.1 350.1,295.7 350.5,296.3 351.0,296.6 351.4,297.6 351.9,297.6 352.3,298.0 352.7,298.6 353.2,299.3 353.6,299.5 354.1,300.0 354.5,300.8 354.9,301.6 355.4,302.0 355.8,302.5 356.3,302.6 356.7,303.0 357.1,303.1 357.6,303.0 358.0,303.1 358.5,303.4 358.9,303.6 359.3,304.2 359.8,304.7 360.2,305.2 360.7,305.6 361.1,306.0 361.5,306.3 362.0,306.7 362.4,307.0 362.9,307.3 363.3,307.3 363.7,307.4 364.2,307.5 364.6,307.9 365.1,308.2 365.5,308.1 365.9,308.1 366.4,308.2 366.8,308.5 367.3,308.6 367.7,308.7 368.1,308.8 368.6,308.9 369.0,309.4 369.5,309.4 369.9,309.5 370.3,309.9 370.8,310.2 371.2,310.0 371.7,310.4 372.1,310.2 372.5,310.5 373.0,310.1 373.4,310.2 373.9,310.5 374.3,310.6 374.7,310.7 375.2,310.9 375.6,311.1 376.1,311.1 376.5,311.1 376.9,311.5 377.4,311.9 377.8,312.0 378.3,311.8 378.7,311.8 379.1,311.8 379.6,311.9 380.0,312.3 380.5,312.2 380.9,312.3 381.3,312.3 381.8,312.4 382.2,312.3 382.7,312.4 383.1,312.7 383.5,312.7 384.0,312.7 384.4,312.7 384.9,312.6 385.3,313.0 385.7,312.8 386.2,312.8 386.6,312.7 387.1,313.1 387.5,313.1 387.9,313.1 388.4,313.5 388.8,313.5 389.3,313.4 389.7,313.5 390.1,313.6 390.6,313.5 391.0,313.5 391.5,313.5 391.9,313.7 392.3,313.9 392.8,314.0 393.2,314.0 393.7,314.1 394.1,314.1 394.5,314.3 395.0,314.3 395.4,314.2 395.9,314.5 396.3,314.1 396.7,314.0 397.2,313.9 397.6,313.9 398.1,313.8 398.5,313.6 398.9,313.4 399.4,313.6 399.8,313.6 400.3,314.1 400.7,314.3 401.1,314.2 401.6,314.5 402.0,314.5 402.5,314.8 402.9,314.6 403.3,314.8 403.8,315.0 404.2,314.9 404.7,314.7 405.1,314.7 405.5,314.8 406.0,315.3 406.4,315.6 406.9,315.8 407.3,315.6 407.7,315.5 408.2,315.5 408.6,315.4 409.1,315.3 409.5,315.2 409.9,315.4 410.4,315.3 410.8,315.3 411.3,315.3 411.7,315.2 412.1,315.2 412.6,315.4 413.0,315.4 413.5,315.7 413.9,315.6 414.3,315.8 414.8,315.5 415.2,315.4 415.7,315.4 416.1,315.3 416.5,315.3 417.0,315.1 417.4,315.2 417.9,315.1 418.3,315.2 418.7,315.2 419.2,315.0 419.6,315.0 420.1,315.1 420.5,315.0 420.9,315.1 421.4,315.4 421.8,315.3 422.3,315.5 422.7,315.6 423.1,315.4 423.6,315.7 424.0,316.1 424.5,315.8 424.9,316.2 425.3,316.0 425.8,316.2 426.2,315.7 426.7,315.9 427.1,315.9 427.5,315.6 428.0,315.5 428.4,315.3 428.9,315.2 429.3,315.3 429.7,315.3 430.2,314.9 430.6,314.9 431.1,315.1 431.5,315.2 431.9,315.6 432.4,315.2 432.8,315.3 433.3,315.4 433.7,315.5 434.1,315.3 434.6,315.1 435.0,315.2 435.5,315.2 435.9,315.0 436.3,315.1 436.8,315.2 437.2,315.4 437.7,315.0 438.1,315.2 438.5,315.1 439.0,315.1 439.4,315.3 439.9,315.7 440.3,315.7 440.7,315.7 441.2,315.9 441.6,315.7 442.1,315.7 442.5,315.6 442.9,315.4 443.4,315.5 443.8,315.9 444.3,315.9 444.7,316.0 445.1,315.9 445.6,316.1 446.0,316.1 446.5,315.8 446.9,315.8 447.3,316.1 447.8,316.0 448.2,316.2 448.7,316.1 449.1,316.4 449.5,316.3 450.0,316.4 450.4,316.2 450.9,316.3 451.3,316.2 451.7,315.8 452.2,315.9 452.6,315.6 453.1,315.9 453.5,316.0 453.9,316.0 454.4,316.1 454.8,315.6 455.3,315.9 455.7,315.7 456.1,315.9 456.6,316.3 457.0,315.9 457.5,315.8 457.9,315.9 458.3,315.9 458.8,315.6 459.2,315.5 459.7,315.8 460.1,315.7 460.5,315.8 461.0,315.5 461.4,315.4 461.9,315.1 462.3,315.3 462.7,315.6 463.2,315.6 463.6,315.6 464.1,315.7" fill="none" stroke="#f03c3c" stroke-width="1.25" stroke-linejoin="round" />
<polyline points="264.3,316.2 264.7,316.1 265.2,316.2 265.6,316.6 266.1,316.9 266.5,316.7 266.9,316.4 267.4,316.7 267.8,316.8 268.3,316.9 268.7,316.9 269.1,316.8 269.6,316.8 270.0,316.9 270.5,317.0 270.9,316.7 271.3,316.8 271.8,316.7 272.2,316.5 272.7,316.5 273.1,316.4 273.5,316.8 274.0,316.8 274.4,316.8 274.9,316.7 275.3,316.6 275.7,316.5 276.2,316.6 276.6,316.7 277.1,316.8 277.5,316.5 277.9,316.4 278.4,316.4 278.8,316.1 279.3,316.2 279.7,316.2 280.1,316.2 280.6,316.3 281.0,316.2 281.5,316.5 281.9,316.6 282.3,316.5 282.8,316.5 283.2,316.6 283.7,316.4 284.1,316.3 284.5,316.5 285.0,316.0 285.4,315.8 285.9,315.9 286.3,316.1 286.7,315.9 287.2,316.1 287.6,316.6 288.1,316.6 288.5,316.5 288.9,316.5 289.4,316.3 289.8,316.4 290.3,316.4 290.7,316.5 291.1,316.8 291.6,316.7 292.0,316.7 292.5,316.7 292.9,316.9 293.3,316.6 293.8,316.6 294.2,316.4 294.7,316.4 295.1,316.6 295.5,316.5 296.0,316.6 296.4,316.6 296.9,316.5 297.3,316.3 297.7,316.1 298.2,316.2 298.6,316.1 299.1,316.3 299.5,316.5 299.9,316.3 300.4,316.1 300.8,316.3 301.3,316.1 301.7,316.2 302.1,316.4 302.6,316.3 303.0,316.6 303.5,316.5 303.9,316.5 304.3,316.4 304.8,315.9 305.2,316.0 305.7,316.0 306.1,316.2 306.5,316.2 307.0,316.1 307.4,316.0 307.9,316.0 308.3,316.2 308.7,316.2 309.2,316.5 309.6,316.6 310.1,316.5 310.5,316.7 310.9,316.2 311.4,316.3 311.8,316.1 312.3,316.1 312.7,316.4 313.1,316.4 313.6,316.4 314.0,316.6 314.5,316.5 314.9,316.3 315.3,316.5 315.8,316.6 316.2,316.3 316.7,316.4 317.1,316.5 317.5,316.5 318.0,316.4 318.4,316.5 318.9,316.5 319.3,316.4 319.7,316.5 320.2,316.3 320.6,316.3 321.1,316.7 321.5,316.5 321.9,316.5 322.4,316.1 322.8,316.0 323.3,315.9 323.7,316.0 324.1,316.0 324.6,316.4 325.0,316.2 325.5,316.3 325.9,316.3 326.3,316.5 326.8,316.7 327.2,316.4 327.7,316.8 328.1,316.7 328.5,316.5 329.0,316.2 329.4,316.2 329.9,315.9 330.3,316.1 330.7,316.0 331.2,316.2 331.6,316.1 332.1,316.2 332.5,316.6 332.9,316.8 333.4,316.8 333.8,316.6 334.3,316.9 334.7,316.5 335.1,316.3 335.6,316.5 336.0,316.4 336.5,316.7 336.9,316.8 337.3,317.2 337.8,317.4 338.2,317.4 338.7,317.1 339.1,317.2 339.5,317.3 340.0,317.2 340.4,316.6 340.9,316.6 341.3,316.5 341.7,316.5 342.2,316.5 342.6,316.7 343.1,316.4 343.5,316.5 343.9,316.2 344.4,315.9 344.8,315.8 345.3,315.8 345.7,315.8 346.1,315.8 346.6,316.0 347.0,316.2 347.5,316.3 347.9,316.4 348.3,316.3 348.8,310.9 349.2,305.5 349.7,300.2 350.1,294.8 350.5,289.6 351.0,285.2 351.4,280.7 351.9,276.3 352.3,271.4 352.7,266.4 353.2,261.6 353.6,257.4 354.1,252.9 354.5,255.8 354.9,259.1 355.4,262.1 355.8,265.4 356.3,268.4 356.7,264.5 357.1,260.8 357.6,256.7 358.0,252.9 358.5,249.4 358.9,245.9 359.3,242.1 359.8,238.5 360.2,234.9 360.7,231.2 361.1,234.7 361.5,238.4 362.0,241.7 362.4,245.3 362.9,248.7 363.3,253.0 363.7,257.1 364.2,261.6 364.6,266.2 365.1,270.3 365.5,272.2 365.9,274.3 366.4,276.3 366.8,278.5 367.3,280.5 367.7,282.5 368.1,284.2 368.6,286.3 369.0,287.4 369.5,288.3 369.9,289.2 370.3,290.0 370.8,291.4 371.2,292.5 371.7,293.1 372.1,294.2 372.5,294.8 373.0,295.5 373.4,296.3 373.9,296.9 374.3,297.8 374.7,298.6 375.2,299.2 375.6,300.1 376.1,300.7 376.5,301.1 376.9,301.7 377.4,302.1 377.8,302.3 378.3,302.5 378.7,302.7 379.1,303.1 379.6,302.9 380.0,303.4 380.5,303.8 380.9,304.1 381.3,304.5 381.8,304.9 382.2,305.1 382.7,305.2 383.1,305.6 383.5,306.0 384.0,306.0 384.4,306.2 384.9,306.3 385.3,306.8 385.7,307.0 386.2,307.1 386.6,307.7 387.1,307.9 387.5,308.1 387.9,308.3 388.4,308.3 388.8,308.5 389.3,308.8 389.7,308.9 390.1,309.0 390.6,309.1 391.0,309.5 391.5,309.5 391.9,309.3 392.3,309.5 392.8,309.4 393.2,310.0 393.7,310.2 394.1,310.4 394.5,310.5 395.0,310.9 395.4,310.8 395.9,310.8 396.3,310.6 396.7,310.9 397.2,311.0 397.6,311.4 398.1,311.4 398.5,311.3 398.9,311.3 399.4,311.5 399.8,311.4 400.3,311.5 400.7,311.5 401.1,311.4 401.6,311.4 402.0,311.8 402.5,311.7 402.9,311.8 403.3,312.1 403.8,312.0 404.2,311.8 404.7,312.2 405.1,312.5 405.5,312.5 406.0,312.3 406.4,312.6 406.9,312.6 407.3,312.5 407.7,312.5 408.2,312.2 408.6,312.2 409.1,312.1 409.5,312.0 409.9,312.3 410.4,312.5 410.8,313.0 411.3,312.6 411.7,312.6 412.1,312.6 412.6,312.9 413.0,313.2 413.5,313.3 413.9,313.3 414.3,313.2 414.8,313.2 415.2,313.1 415.7,312.7 416.1,313.2 416.5,313.4 417.0,313.8 417.4,314.0 417.9,314.1 418.3,314.2 418.7,313.8 419.2,313.6 419.6,313.8 420.1,313.8 420.5,313.5 420.9,313.5 421.4,313.3 421.8,313.4 422.3,313.7 422.7,313.6 423.1,313.5 423.6,313.7 424.0,313.7 424.5,313.8 424.9,313.6 425.3,313.6 425.8,313.2 426.2,313.3 426.7,313.6 427.1,313.5 427.5,313.5 428.0,313.7 428.4,314.0 428.9,314.2 429.3,314.0 429.7,313.9 430.2,314.3 430.6,314.1 431.1,314.2 431.5,314.0 431.9,313.9 432.4,313.4 432.8,313.4 433.3,313.1 433.7,313.1 434.1,313.0 434.6,313.5 435.0,313.7 435.5,313.8 435.9,313.8 436.3,313.6 436.8,313.8 437.2,313.7 437.7,313.7 438.1,314.0 438.5,314.0 439.0,314.0 439.4,313.9 439.9,314.1 440.3,314.2 440.7,314.4 441.2,314.7 441.6,314.3 442.1,314.3 442.5,314.4 442.9,314.5 443.4,314.5 443.8,314.5 444.3,314.2 444.7,314.2 445.1,314.4 445.6,314.4 446.0,314.4 446.5,314.5 446.9,314.2 447.3,314.3 447.8,314.6 448.2,314.5 448.7,314.3 449.1,314.4 449.5,314.3 450.0,314.2 450.4,314.2 450.9,314.0 451.3,314.1 451.7,314.0 452.2,313.9 452.6,314.1 453.1,314.2 453.5,314.3 453.9,314.5 454.4,314.8 454.8,315.1 455.3,314.9 455.7,315.0 456.1,314.6 456.6,314.7 457.0,314.9 457.5,314.7 457.9,314.8 458.3,314.9 458.8,314.8 459.2,314.6 459.7,314.9 460.1,314.6 460.5,314.6 461.0,314.8 461.4,314.8 461.9,315.0 462.3,315.2 462.7,315.2 463.2,315.4 463.6,315.4 464.1,315.1" fill="none" stroke="#40d028" stroke-width="1.25" stroke-linejoin="round" />
<path d="M264.3,328.5v-2.3M308.3,328.5v-2.3M352.3,328.5v-2.3M396.3,328.5v-2.3M440.3,328.5v-2.3M286.3,328.5v-1.3M330.3,328.5v-1.3M374.3,328.5v-1.3M418.3,328.5v-1.3M462.3,328.5v-1.3M264.5,316.1h2.3M462.5,316.1h-2.3M264.5,290.33h2.3M462.5,290.33h-2.3M264.5,264.55h2.3M462.5,264.55h-2.3M264.5,238.78h2.3M462.5,238.78h-2.3M264.5,303.21h1.3M462.5,303.21h-1.3M264.5,277.44h1.3M462.5,277.44h-1.3M264.5,251.66h1.3M462.5,251.66h-1.3M264.5,225.89h1.3M462.5,225.89h-1.3" stroke="#262626" stroke-width="1" fill="none"/>
<rect x="264.5" y="221" width="198" height="107.5" fill="none" stroke="#262626" stroke-width="1.1"/>
<line x1="264.5" y1="221" x2="462.5" y2="221" stroke="#262626" stroke-width="1.5" />
<text transform="translate(261.71 340.1) scale(0.930 1)" font-family="Liberation Sans" font-size="10" font-weight="normal" fill="#111" stroke="#111" stroke-width="0.22">0</text>
<text transform="translate(305.71 340.1) scale(0.930 1)" font-family="Liberation Sans" font-size="10" font-weight="normal" fill="#111" stroke="#111" stroke-width="0.22">1</text>
<text transform="translate(349.71 340.1) scale(0.930 1)" font-family="Liberation Sans" font-size="10" font-weight="normal" fill="#111" stroke="#111" stroke-width="0.22">2</text>
<text transform="translate(393.71 340.1) scale(0.930 1)" font-family="Liberation Sans" font-size="10" font-weight="normal" fill="#111" stroke="#111" stroke-width="0.22">3</text>
<text transform="translate(437.71 340.1) scale(0.930 1)" font-family="Liberation Sans" font-size="10" font-weight="normal" fill="#111" stroke="#111" stroke-width="0.22">4</text>
<text transform="translate(254.96 319.85) scale(0.930 1)" font-family="Liberation Sans" font-size="10" font-weight="normal" fill="#111" stroke="#111" stroke-width="0.22">0</text>
<text transform="translate(249.85 294.08) scale(0.930 1)" font-family="Liberation Sans" font-size="10" font-weight="normal" fill="#111" stroke="#111" stroke-width="0.22">25</text>
<text transform="translate(249.8 268.3) scale(0.930 1)" font-family="Liberation Sans" font-size="10" font-weight="normal" fill="#111" stroke="#111" stroke-width="0.22">50</text>
<text transform="translate(249.85 242.53) scale(0.930 1)" font-family="Liberation Sans" font-size="10" font-weight="normal" fill="#111" stroke="#111" stroke-width="0.22">75</text>
<text transform="translate(348.88 351.9) scale(1.004 1)" font-family="Liberation Sans" font-size="11.5" font-weight="bold" fill="#000">Time (s)</text>
<text transform="translate(243.7 296.2) rotate(-90) scale(0.983 1) translate(-0.48 0)" font-family="Liberation Sans" font-size="12" font-weight="bold" fill="#000">ΔPSC (%)</text>
<line x1="398" y1="230.6" x2="420.7" y2="230.6" stroke="#40d028" stroke-width="1.3" />
<text transform="translate(423.4 234.4) scale(0.960 1)" font-family="Liberation Sans" font-size="10.4" font-weight="normal" fill="#111" stroke="#111" stroke-width="0.22">Gate 1</text>
<line x1="398" y1="243.1" x2="420.7" y2="243.1" stroke="#f03c3c" stroke-width="1.3" />
<text transform="translate(423.4 246.7) scale(0.960 1)" font-family="Liberation Sans" font-size="10.4" font-weight="normal" fill="#111" stroke="#111" stroke-width="0.22">Gate 2</text>
<line x1="398" y1="255.6" x2="420.7" y2="255.6" stroke="#2cc0f4" stroke-width="1.3" />
<text transform="translate(423.4 259) scale(0.958 1)" font-family="Liberation Sans" font-size="10.4" font-weight="normal" fill="#111" stroke="#111" stroke-width="0.22">Gate 3</text>
<text transform="translate(406.1 275.3) scale(0.968 1)" font-family="Liberation Sans" font-size="10.4" font-weight="normal" fill="#111" stroke="#111" stroke-width="0.22">V<tspan font-size="6.86" dy="3.43">DS</tspan><tspan dy="-3.43"> = 0.5V</tspan></text>
<text transform="translate(225.8 184)" font-family="Liberation Serif" font-size="17" font-weight="bold" fill="#000">e)</text>
<polyline points="518.2,195.6 527.7,251.4 546.8,266.5 584.9,289.2 651.5,311.8" fill="none" stroke="#2cc0f4" stroke-width="1.25" stroke-linejoin="round" />
<path d="M516.9,195.6a1.35,1.35 0 1,0 2.7,0a1.35,1.35 0 1,0 -2.7,0M526.4,251.4a1.35,1.35 0 1,0 2.7,0a1.35,1.35 0 1,0 -2.7,0M545.4,266.5a1.35,1.35 0 1,0 2.7,0a1.35,1.35 0 1,0 -2.7,0M583.5,289.2a1.35,1.35 0 1,0 2.7,0a1.35,1.35 0 1,0 -2.7,0M650.1,311.8a1.35,1.35 0 1,0 2.7,0a1.35,1.35 0 1,0 -2.7,0" fill="#1aa8ec"/>
<polyline points="518.2,237.9 527.7,271.1 546.8,278.6 584.9,300.7 651.5,313.4" fill="none" stroke="#f03434" stroke-width="1.25" stroke-linejoin="round" />
<path d="M516.9,237.9a1.35,1.35 0 1,0 2.7,0a1.35,1.35 0 1,0 -2.7,0M526.4,271.1a1.35,1.35 0 1,0 2.7,0a1.35,1.35 0 1,0 -2.7,0M545.4,278.6a1.35,1.35 0 1,0 2.7,0a1.35,1.35 0 1,0 -2.7,0M583.5,300.7a1.35,1.35 0 1,0 2.7,0a1.35,1.35 0 1,0 -2.7,0M650.1,313.4a1.35,1.35 0 1,0 2.7,0a1.35,1.35 0 1,0 -2.7,0" fill="#e01818"/>
<polyline points="518.2,216.7 527.7,259.0 546.8,286.2 584.9,297.4 651.5,312.8" fill="none" stroke="#40cc2c" stroke-width="1.25" stroke-linejoin="round" />
<path d="M516.9,216.7a1.35,1.35 0 1,0 2.7,0a1.35,1.35 0 1,0 -2.7,0M526.4,259.0a1.35,1.35 0 1,0 2.7,0a1.35,1.35 0 1,0 -2.7,0M545.4,286.2a1.35,1.35 0 1,0 2.7,0a1.35,1.35 0 1,0 -2.7,0M583.5,297.4a1.35,1.35 0 1,0 2.7,0a1.35,1.35 0 1,0 -2.7,0M650.1,312.8a1.35,1.35 0 1,0 2.7,0a1.35,1.35 0 1,0 -2.7,0" fill="#2cb41c"/>
<path d="M508.7,326v-2.3M508.7,183.5v2.3M554.4,326v-2.3M554.4,183.5v2.3M600.09,326v-2.3M600.09,183.5v2.3M645.79,326v-2.3M645.79,183.5v2.3M531.55,326v-1.3M531.55,183.5v1.3M577.24,326v-1.3M577.24,183.5v1.3M622.94,326v-1.3M622.94,183.5v1.3M668.64,326v-1.3M668.64,183.5v1.3M499.5,319.4h2.3M679.5,319.4h-2.3M499.5,274.1h2.3M679.5,274.1h-2.3M499.5,228.8h2.3M679.5,228.8h-2.3M499.5,183.5h2.3M679.5,183.5h-2.3M499.5,296.75h1.3M679.5,296.75h-1.3M499.5,251.45h1.3M679.5,251.45h-1.3M499.5,206.15h1.3M679.5,206.15h-1.3" stroke="#262626" stroke-width="1" fill="none"/>
<rect x="499.5" y="183.5" width="180" height="142.5" fill="none" stroke="#262626" stroke-width="1.1"/>
<text transform="translate(506.11 336.1) scale(0.930 1)" font-family="Liberation Sans" font-size="10" font-weight="normal" fill="#111" stroke="#111" stroke-width="0.22">0</text>
<text transform="translate(546.64 336.1) scale(0.930 1)" font-family="Liberation Sans" font-size="10" font-weight="normal" fill="#111" stroke="#111" stroke-width="0.22">240</text>
<text transform="translate(592.33 336.1) scale(0.930 1)" font-family="Liberation Sans" font-size="10" font-weight="normal" fill="#111" stroke="#111" stroke-width="0.22">480</text>
<text transform="translate(638.03 336.1) scale(0.930 1)" font-family="Liberation Sans" font-size="10" font-weight="normal" fill="#111" stroke="#111" stroke-width="0.22">720</text>
<text transform="translate(492.46 323.15) scale(0.930 1)" font-family="Liberation Sans" font-size="10" font-weight="normal" fill="#111" stroke="#111" stroke-width="0.22">0</text>
<text transform="translate(487.35 277.85) scale(0.930 1)" font-family="Liberation Sans" font-size="10" font-weight="normal" fill="#111" stroke="#111" stroke-width="0.22">15</text>
<text transform="translate(487.3 232.55) scale(0.930 1)" font-family="Liberation Sans" font-size="10" font-weight="normal" fill="#111" stroke="#111" stroke-width="0.22">30</text>
<text transform="translate(487.35 187.25) scale(0.930 1)" font-family="Liberation Sans" font-size="10" font-weight="normal" fill="#111" stroke="#111" stroke-width="0.22">45</text>
<text transform="translate(573.23 349.6) scale(1.063 1)" font-family="Liberation Sans" font-size="11" font-weight="bold" fill="#000">Δτ (ms)</text>
<text transform="translate(483.4 275.3) rotate(-90) scale(1.052 1) translate(-0.71 0)" font-family="Liberation Sans" font-size="11" font-weight="bold" fill="#000">PPF (%)</text>
<line x1="619.3" y1="215.2" x2="641" y2="215.2" stroke="#40cc2c" stroke-width="1.3" />
<path d="M628.9,215.2a1.4,1.4 0 1,0 2.8,0a1.4,1.4 0 1,0 -2.8,0" fill="#2cb41c"/>
<text transform="translate(643.24 218.3) scale(0.981 1)" font-family="Liberation Sans" font-size="9.4" font-weight="normal" fill="#111" stroke="#111" stroke-width="0.22">Gate 1</text>
<line x1="619.3" y1="226.75" x2="641" y2="226.75" stroke="#f03434" stroke-width="1.3" />
<path d="M628.9,226.8a1.4,1.4 0 1,0 2.8,0a1.4,1.4 0 1,0 -2.8,0" fill="#e01818"/>
<text transform="translate(643.24 229.9) scale(0.981 1)" font-family="Liberation Sans" font-size="9.4" font-weight="normal" fill="#111" stroke="#111" stroke-width="0.22">Gate 2</text>
<line x1="619.3" y1="238.3" x2="641" y2="238.3" stroke="#2cc0f4" stroke-width="1.3" />
<path d="M628.9,238.3a1.4,1.4 0 1,0 2.8,0a1.4,1.4 0 1,0 -2.8,0" fill="#1aa8ec"/>
<text transform="translate(643.24 241.5) scale(0.980 1)" font-family="Liberation Sans" font-size="9.4" font-weight="normal" fill="#111" stroke="#111" stroke-width="0.22">Gate 3</text>
<text transform="translate(578 198.6) scale(0.986 1)" font-family="Liberation Sans" font-size="9.4" font-weight="normal" fill="#111" stroke="#111" stroke-width="0.22">V<tspan font-size="6.2" dy="3.1">GS</tspan><tspan dy="-3.1"> = 2 V &amp; V</tspan><tspan font-size="6.2" dy="3.1">DS</tspan><tspan dy="-3.1"> = 0.5 V</tspan></text>
<text transform="translate(470.8 184)" font-family="Liberation Serif" font-size="17" font-weight="bold" fill="#000">f)</text>
<polyline points="34.5,491.1 35.5,491.3 36.5,491.4 37.5,490.3 38.6,492.2 39.6,490.8 40.6,490.3 41.6,491.1 42.6,491.3 43.6,492.2 44.7,491.9 45.7,491.8 46.7,492.0 47.7,491.2 48.7,490.4 49.7,490.6 50.7,491.5 51.8,491.2 52.8,492.0 53.8,491.3 54.8,491.7 55.8,491.5 56.8,491.9 57.9,491.6 58.9,491.6 59.9,491.1 60.9,492.0 61.9,491.6 62.9,491.7 63.9,491.9 65.0,491.0 66.0,490.7 67.0,490.9 68.0,491.9 69.0,490.9 70.0,490.5 71.0,490.3 72.1,490.5 73.1,490.3 74.1,490.3 75.1,491.1 76.1,490.5 77.1,490.9 78.2,490.4 79.2,490.7 80.2,491.3 81.2,490.1 80.6,490.5 80.9,424.0 81.2,450.9 81.9,461.6 83.1,468.6 84.6,473.4 86.0,477.7 86.0,477.7 86.3,423.6 86.6,450.5 87.3,461.2 88.5,468.2 90.0,473.1 91.4,477.4 91.4,477.4 91.7,423.1 92.0,450.1 92.7,460.9 93.9,467.9 95.4,472.8 96.8,477.1 96.9,477.1 97.2,422.6 97.5,449.7 98.2,460.6 99.4,467.6 100.9,472.5 102.2,476.8 102.3,476.8 102.6,422.2 102.9,449.4 103.6,460.2 104.8,467.3 106.3,472.2 107.6,476.5 107.7,476.5 108.0,421.8 108.3,449.0 109.0,459.9 110.2,466.9 111.7,471.8 113.1,476.2 113.1,476.2 113.4,421.3 113.7,448.6 114.4,459.5 115.6,466.6 117.1,471.5 118.5,475.9 118.5,475.9 118.8,420.9 119.1,448.2 119.8,459.2 121.0,466.3 122.5,471.2 123.9,475.6 124.0,475.6 124.3,420.4 124.6,447.9 125.3,458.8 126.5,466.0 128.0,470.9 129.3,475.3 129.4,475.3 129.7,419.9 130.0,452.0 130.7,465.0 131.8,473.0 133.4,479.0 140.0,482.5 150.0,486.5 170.0,488.5 190.0,489.5 215.0,490.0" fill="none" stroke="#88f058" stroke-width="0.9" stroke-linejoin="round" />
<path d="M33.8,491.1a0.75,0.75 0 1,0 1.5,0a0.75,0.75 0 1,0 -1.5,0M35.8,491.4a0.75,0.75 0 1,0 1.5,0a0.75,0.75 0 1,0 -1.5,0M37.8,492.2a0.75,0.75 0 1,0 1.5,0a0.75,0.75 0 1,0 -1.5,0M39.8,490.3a0.75,0.75 0 1,0 1.5,0a0.75,0.75 0 1,0 -1.5,0M41.9,491.3a0.75,0.75 0 1,0 1.5,0a0.75,0.75 0 1,0 -1.5,0M43.9,491.9a0.75,0.75 0 1,0 1.5,0a0.75,0.75 0 1,0 -1.5,0M45.9,492.0a0.75,0.75 0 1,0 1.5,0a0.75,0.75 0 1,0 -1.5,0M48.0,490.4a0.75,0.75 0 1,0 1.5,0a0.75,0.75 0 1,0 -1.5,0M50.0,491.5a0.75,0.75 0 1,0 1.5,0a0.75,0.75 0 1,0 -1.5,0M52.0,492.0a0.75,0.75 0 1,0 1.5,0a0.75,0.75 0 1,0 -1.5,0M54.1,491.7a0.75,0.75 0 1,0 1.5,0a0.75,0.75 0 1,0 -1.5,0M56.1,491.9a0.75,0.75 0 1,0 1.5,0a0.75,0.75 0 1,0 -1.5,0M58.1,491.6a0.75,0.75 0 1,0 1.5,0a0.75,0.75 0 1,0 -1.5,0M60.1,492.0a0.75,0.75 0 1,0 1.5,0a0.75,0.75 0 1,0 -1.5,0M62.2,491.7a0.75,0.75 0 1,0 1.5,0a0.75,0.75 0 1,0 -1.5,0M64.2,491.0a0.75,0.75 0 1,0 1.5,0a0.75,0.75 0 1,0 -1.5,0M66.2,490.9a0.75,0.75 0 1,0 1.5,0a0.75,0.75 0 1,0 -1.5,0M68.3,490.9a0.75,0.75 0 1,0 1.5,0a0.75,0.75 0 1,0 -1.5,0M70.3,490.3a0.75,0.75 0 1,0 1.5,0a0.75,0.75 0 1,0 -1.5,0M72.3,490.3a0.75,0.75 0 1,0 1.5,0a0.75,0.75 0 1,0 -1.5,0M74.4,491.1a0.75,0.75 0 1,0 1.5,0a0.75,0.75 0 1,0 -1.5,0M76.4,490.9a0.75,0.75 0 1,0 1.5,0a0.75,0.75 0 1,0 -1.5,0M78.4,490.7a0.75,0.75 0 1,0 1.5,0a0.75,0.75 0 1,0 -1.5,0M80.5,490.1a0.75,0.75 0 1,0 1.5,0a0.75,0.75 0 1,0 -1.5,0M80.1,424.0a0.75,0.75 0 1,0 1.5,0a0.75,0.75 0 1,0 -1.5,0M81.1,461.6a0.75,0.75 0 1,0 1.5,0a0.75,0.75 0 1,0 -1.5,0M83.8,473.4a0.75,0.75 0 1,0 1.5,0a0.75,0.75 0 1,0 -1.5,0M85.3,477.7a0.75,0.75 0 1,0 1.5,0a0.75,0.75 0 1,0 -1.5,0M85.9,450.5a0.75,0.75 0 1,0 1.5,0a0.75,0.75 0 1,0 -1.5,0M87.8,468.2a0.75,0.75 0 1,0 1.5,0a0.75,0.75 0 1,0 -1.5,0M90.6,477.4a0.75,0.75 0 1,0 1.5,0a0.75,0.75 0 1,0 -1.5,0M91.0,423.1a0.75,0.75 0 1,0 1.5,0a0.75,0.75 0 1,0 -1.5,0M92.0,460.9a0.75,0.75 0 1,0 1.5,0a0.75,0.75 0 1,0 -1.5,0M94.7,472.8a0.75,0.75 0 1,0 1.5,0a0.75,0.75 0 1,0 -1.5,0M96.1,477.1a0.75,0.75 0 1,0 1.5,0a0.75,0.75 0 1,0 -1.5,0M96.7,449.7a0.75,0.75 0 1,0 1.5,0a0.75,0.75 0 1,0 -1.5,0M98.6,467.6a0.75,0.75 0 1,0 1.5,0a0.75,0.75 0 1,0 -1.5,0M101.5,476.8a0.75,0.75 0 1,0 1.5,0a0.75,0.75 0 1,0 -1.5,0M101.8,422.2a0.75,0.75 0 1,0 1.5,0a0.75,0.75 0 1,0 -1.5,0M102.8,460.2a0.75,0.75 0 1,0 1.5,0a0.75,0.75 0 1,0 -1.5,0M105.5,472.2a0.75,0.75 0 1,0 1.5,0a0.75,0.75 0 1,0 -1.5,0M106.9,476.5a0.75,0.75 0 1,0 1.5,0a0.75,0.75 0 1,0 -1.5,0M107.5,449.0a0.75,0.75 0 1,0 1.5,0a0.75,0.75 0 1,0 -1.5,0M109.4,466.9a0.75,0.75 0 1,0 1.5,0a0.75,0.75 0 1,0 -1.5,0M112.3,476.2a0.75,0.75 0 1,0 1.5,0a0.75,0.75 0 1,0 -1.5,0M112.7,421.3a0.75,0.75 0 1,0 1.5,0a0.75,0.75 0 1,0 -1.5,0M113.7,459.5a0.75,0.75 0 1,0 1.5,0a0.75,0.75 0 1,0 -1.5,0M116.4,471.5a0.75,0.75 0 1,0 1.5,0a0.75,0.75 0 1,0 -1.5,0M117.8,475.9a0.75,0.75 0 1,0 1.5,0a0.75,0.75 0 1,0 -1.5,0M118.4,448.2a0.75,0.75 0 1,0 1.5,0a0.75,0.75 0 1,0 -1.5,0M120.3,466.3a0.75,0.75 0 1,0 1.5,0a0.75,0.75 0 1,0 -1.5,0M123.2,475.6a0.75,0.75 0 1,0 1.5,0a0.75,0.75 0 1,0 -1.5,0M123.5,420.4a0.75,0.75 0 1,0 1.5,0a0.75,0.75 0 1,0 -1.5,0M124.5,458.8a0.75,0.75 0 1,0 1.5,0a0.75,0.75 0 1,0 -1.5,0M127.2,470.9a0.75,0.75 0 1,0 1.5,0a0.75,0.75 0 1,0 -1.5,0M128.6,475.3a0.75,0.75 0 1,0 1.5,0a0.75,0.75 0 1,0 -1.5,0M129.2,452.0a0.75,0.75 0 1,0 1.5,0a0.75,0.75 0 1,0 -1.5,0M131.0,473.0a0.75,0.75 0 1,0 1.5,0a0.75,0.75 0 1,0 -1.5,0M139.2,482.5a0.75,0.75 0 1,0 1.5,0a0.75,0.75 0 1,0 -1.5,0M169.2,488.5a0.75,0.75 0 1,0 1.5,0a0.75,0.75 0 1,0 -1.5,0M214.2,490.0a0.75,0.75 0 1,0 1.5,0a0.75,0.75 0 1,0 -1.5,0" fill="#6ce03c"/>
<polyline points="34.5,490.8 35.5,490.9 36.5,490.8 37.5,491.0 38.6,491.1 39.6,490.2 40.6,490.4 41.6,491.0 42.6,491.7 43.6,490.4 44.7,490.2 45.7,489.7 46.7,490.2 47.7,489.8 48.7,489.7 49.7,490.7 50.7,492.1 51.8,490.2 52.8,491.5 53.8,490.6 54.8,491.1 55.8,491.1 56.8,491.7 57.9,491.1 58.9,490.4 59.9,490.6 60.9,491.2 61.9,490.4 62.9,490.9 63.9,490.8 65.0,490.9 66.0,490.8 67.0,491.2 68.0,491.5 69.0,490.9 70.0,490.7 71.0,489.4 72.1,489.6 73.1,489.2 74.1,490.4 75.1,489.9 76.1,489.9 77.1,490.7 78.2,491.3 79.2,491.8 80.2,490.8 81.2,490.9 80.5,490.5 80.8,430.0 81.0,454.7 81.5,464.6 82.1,471.0 82.7,475.4 83.2,479.4 83.2,479.4 83.5,426.0 83.8,451.9 84.2,462.3 84.8,469.0 85.5,473.7 86.0,477.8 86.0,477.8 86.3,423.0 86.5,449.6 87.0,460.2 87.6,467.2 88.2,471.9 88.7,476.2 88.8,476.2 89.0,421.0 89.3,447.8 89.8,458.5 90.3,465.5 91.0,470.3 91.5,474.6 91.5,474.6 91.8,419.5 92.0,446.2 92.5,456.9 93.1,463.9 93.7,468.7 94.2,473.0 94.2,473.0 94.5,418.5 94.8,444.9 95.2,455.5 95.8,462.4 96.5,467.2 97.0,471.4 97.0,471.4 97.3,417.5 97.5,443.6 98.0,454.1 98.6,460.9 99.2,465.6 99.7,469.8 99.8,469.8 100.0,416.5 100.3,442.4 100.8,452.7 101.3,459.4 102.0,464.1 102.5,468.2 102.5,468.2 102.8,415.7 103.0,441.1 103.5,451.3 104.1,457.9 104.7,462.5 105.2,466.6 105.2,466.6 105.5,414.9 105.8,438.0 106.5,450.0 107.8,462.0 109.8,472.0 112.0,475.0 116.0,479.0 122.0,483.0 135.0,486.5 160.0,488.5 215.0,489.5" fill="none" stroke="#3cc82c" stroke-width="0.9" stroke-linejoin="round" />
<path d="M33.8,490.8a0.75,0.75 0 1,0 1.5,0a0.75,0.75 0 1,0 -1.5,0M35.8,490.8a0.75,0.75 0 1,0 1.5,0a0.75,0.75 0 1,0 -1.5,0M37.8,491.1a0.75,0.75 0 1,0 1.5,0a0.75,0.75 0 1,0 -1.5,0M39.8,490.4a0.75,0.75 0 1,0 1.5,0a0.75,0.75 0 1,0 -1.5,0M41.9,491.7a0.75,0.75 0 1,0 1.5,0a0.75,0.75 0 1,0 -1.5,0M43.9,490.2a0.75,0.75 0 1,0 1.5,0a0.75,0.75 0 1,0 -1.5,0M45.9,490.2a0.75,0.75 0 1,0 1.5,0a0.75,0.75 0 1,0 -1.5,0M48.0,489.7a0.75,0.75 0 1,0 1.5,0a0.75,0.75 0 1,0 -1.5,0M50.0,492.1a0.75,0.75 0 1,0 1.5,0a0.75,0.75 0 1,0 -1.5,0M52.0,491.5a0.75,0.75 0 1,0 1.5,0a0.75,0.75 0 1,0 -1.5,0M54.1,491.1a0.75,0.75 0 1,0 1.5,0a0.75,0.75 0 1,0 -1.5,0M56.1,491.7a0.75,0.75 0 1,0 1.5,0a0.75,0.75 0 1,0 -1.5,0M58.1,490.4a0.75,0.75 0 1,0 1.5,0a0.75,0.75 0 1,0 -1.5,0M60.1,491.2a0.75,0.75 0 1,0 1.5,0a0.75,0.75 0 1,0 -1.5,0M62.2,490.9a0.75,0.75 0 1,0 1.5,0a0.75,0.75 0 1,0 -1.5,0M64.2,490.9a0.75,0.75 0 1,0 1.5,0a0.75,0.75 0 1,0 -1.5,0M66.2,491.2a0.75,0.75 0 1,0 1.5,0a0.75,0.75 0 1,0 -1.5,0M68.3,490.9a0.75,0.75 0 1,0 1.5,0a0.75,0.75 0 1,0 -1.5,0M70.3,489.4a0.75,0.75 0 1,0 1.5,0a0.75,0.75 0 1,0 -1.5,0M72.3,489.2a0.75,0.75 0 1,0 1.5,0a0.75,0.75 0 1,0 -1.5,0M74.4,489.9a0.75,0.75 0 1,0 1.5,0a0.75,0.75 0 1,0 -1.5,0M76.4,490.7a0.75,0.75 0 1,0 1.5,0a0.75,0.75 0 1,0 -1.5,0M78.4,491.8a0.75,0.75 0 1,0 1.5,0a0.75,0.75 0 1,0 -1.5,0M80.5,490.9a0.75,0.75 0 1,0 1.5,0a0.75,0.75 0 1,0 -1.5,0M80.0,430.0a0.75,0.75 0 1,0 1.5,0a0.75,0.75 0 1,0 -1.5,0M80.8,464.6a0.75,0.75 0 1,0 1.5,0a0.75,0.75 0 1,0 -1.5,0M82.0,475.4a0.75,0.75 0 1,0 1.5,0a0.75,0.75 0 1,0 -1.5,0M82.5,479.4a0.75,0.75 0 1,0 1.5,0a0.75,0.75 0 1,0 -1.5,0M83.0,451.9a0.75,0.75 0 1,0 1.5,0a0.75,0.75 0 1,0 -1.5,0M84.1,469.0a0.75,0.75 0 1,0 1.5,0a0.75,0.75 0 1,0 -1.5,0M85.2,477.8a0.75,0.75 0 1,0 1.5,0a0.75,0.75 0 1,0 -1.5,0M85.5,423.0a0.75,0.75 0 1,0 1.5,0a0.75,0.75 0 1,0 -1.5,0M86.2,460.2a0.75,0.75 0 1,0 1.5,0a0.75,0.75 0 1,0 -1.5,0M87.5,471.9a0.75,0.75 0 1,0 1.5,0a0.75,0.75 0 1,0 -1.5,0M88.0,476.2a0.75,0.75 0 1,0 1.5,0a0.75,0.75 0 1,0 -1.5,0M88.5,447.8a0.75,0.75 0 1,0 1.5,0a0.75,0.75 0 1,0 -1.5,0M89.6,465.5a0.75,0.75 0 1,0 1.5,0a0.75,0.75 0 1,0 -1.5,0M90.7,474.6a0.75,0.75 0 1,0 1.5,0a0.75,0.75 0 1,0 -1.5,0M91.0,419.5a0.75,0.75 0 1,0 1.5,0a0.75,0.75 0 1,0 -1.5,0M91.8,456.9a0.75,0.75 0 1,0 1.5,0a0.75,0.75 0 1,0 -1.5,0M93.0,468.7a0.75,0.75 0 1,0 1.5,0a0.75,0.75 0 1,0 -1.5,0M93.5,473.0a0.75,0.75 0 1,0 1.5,0a0.75,0.75 0 1,0 -1.5,0M94.0,444.9a0.75,0.75 0 1,0 1.5,0a0.75,0.75 0 1,0 -1.5,0M95.1,462.4a0.75,0.75 0 1,0 1.5,0a0.75,0.75 0 1,0 -1.5,0M96.2,471.4a0.75,0.75 0 1,0 1.5,0a0.75,0.75 0 1,0 -1.5,0M96.5,417.5a0.75,0.75 0 1,0 1.5,0a0.75,0.75 0 1,0 -1.5,0M97.2,454.1a0.75,0.75 0 1,0 1.5,0a0.75,0.75 0 1,0 -1.5,0M98.5,465.6a0.75,0.75 0 1,0 1.5,0a0.75,0.75 0 1,0 -1.5,0M99.0,469.8a0.75,0.75 0 1,0 1.5,0a0.75,0.75 0 1,0 -1.5,0M99.5,442.4a0.75,0.75 0 1,0 1.5,0a0.75,0.75 0 1,0 -1.5,0M100.6,459.4a0.75,0.75 0 1,0 1.5,0a0.75,0.75 0 1,0 -1.5,0M101.7,468.2a0.75,0.75 0 1,0 1.5,0a0.75,0.75 0 1,0 -1.5,0M102.0,415.7a0.75,0.75 0 1,0 1.5,0a0.75,0.75 0 1,0 -1.5,0M102.8,451.3a0.75,0.75 0 1,0 1.5,0a0.75,0.75 0 1,0 -1.5,0M104.0,462.5a0.75,0.75 0 1,0 1.5,0a0.75,0.75 0 1,0 -1.5,0M104.5,466.6a0.75,0.75 0 1,0 1.5,0a0.75,0.75 0 1,0 -1.5,0M105.1,438.0a0.75,0.75 0 1,0 1.5,0a0.75,0.75 0 1,0 -1.5,0M107.0,462.0a0.75,0.75 0 1,0 1.5,0a0.75,0.75 0 1,0 -1.5,0M111.2,475.0a0.75,0.75 0 1,0 1.5,0a0.75,0.75 0 1,0 -1.5,0M121.2,483.0a0.75,0.75 0 1,0 1.5,0a0.75,0.75 0 1,0 -1.5,0M159.2,488.5a0.75,0.75 0 1,0 1.5,0a0.75,0.75 0 1,0 -1.5,0" fill="#28b018"/>
<polyline points="34.5,490.1 35.5,489.2 36.5,489.1 37.5,488.4 38.6,488.4 39.6,489.4 40.6,489.5 41.6,489.2 42.6,488.9 43.6,490.2 44.7,490.3 45.7,489.0 46.7,490.7 47.7,489.8 48.7,489.5 49.7,489.1 50.7,488.8 51.8,489.6 52.8,488.4 53.8,488.9 54.8,488.9 55.8,490.4 56.8,490.2 57.9,490.1 58.9,490.1 59.9,490.2 60.9,489.9 61.9,487.9 62.9,488.9 63.9,488.9 65.0,489.7 66.0,489.7 67.0,489.2 68.0,488.6 69.0,488.3 70.0,489.0 71.0,489.1 72.1,488.6 73.1,488.8 74.1,489.3 75.1,488.9 76.1,489.0 77.1,488.8 78.2,487.3 79.2,488.4 80.2,488.9 81.2,489.7 81.2,489.4 81.5,430.0" fill="none" stroke="#1e3c1e" stroke-width="1.0" stroke-linejoin="round" />
<path d="M33.7,490.1a0.8,0.8 0 1,0 1.6,0a0.8,0.8 0 1,0 -1.6,0M35.7,489.1a0.8,0.8 0 1,0 1.6,0a0.8,0.8 0 1,0 -1.6,0M37.8,488.4a0.8,0.8 0 1,0 1.6,0a0.8,0.8 0 1,0 -1.6,0M39.8,489.5a0.8,0.8 0 1,0 1.6,0a0.8,0.8 0 1,0 -1.6,0M41.8,488.9a0.8,0.8 0 1,0 1.6,0a0.8,0.8 0 1,0 -1.6,0M43.9,490.3a0.8,0.8 0 1,0 1.6,0a0.8,0.8 0 1,0 -1.6,0M45.9,490.7a0.8,0.8 0 1,0 1.6,0a0.8,0.8 0 1,0 -1.6,0M47.9,489.5a0.8,0.8 0 1,0 1.6,0a0.8,0.8 0 1,0 -1.6,0M49.9,488.8a0.8,0.8 0 1,0 1.6,0a0.8,0.8 0 1,0 -1.6,0M52.0,488.4a0.8,0.8 0 1,0 1.6,0a0.8,0.8 0 1,0 -1.6,0M54.0,488.9a0.8,0.8 0 1,0 1.6,0a0.8,0.8 0 1,0 -1.6,0M56.0,490.2a0.8,0.8 0 1,0 1.6,0a0.8,0.8 0 1,0 -1.6,0M58.1,490.1a0.8,0.8 0 1,0 1.6,0a0.8,0.8 0 1,0 -1.6,0M60.1,489.9a0.8,0.8 0 1,0 1.6,0a0.8,0.8 0 1,0 -1.6,0M62.1,488.9a0.8,0.8 0 1,0 1.6,0a0.8,0.8 0 1,0 -1.6,0M64.2,489.7a0.8,0.8 0 1,0 1.6,0a0.8,0.8 0 1,0 -1.6,0M66.2,489.2a0.8,0.8 0 1,0 1.6,0a0.8,0.8 0 1,0 -1.6,0M68.2,488.3a0.8,0.8 0 1,0 1.6,0a0.8,0.8 0 1,0 -1.6,0M70.2,489.1a0.8,0.8 0 1,0 1.6,0a0.8,0.8 0 1,0 -1.6,0M72.3,488.8a0.8,0.8 0 1,0 1.6,0a0.8,0.8 0 1,0 -1.6,0M74.3,488.9a0.8,0.8 0 1,0 1.6,0a0.8,0.8 0 1,0 -1.6,0M76.3,488.8a0.8,0.8 0 1,0 1.6,0a0.8,0.8 0 1,0 -1.6,0M78.4,488.4a0.8,0.8 0 1,0 1.6,0a0.8,0.8 0 1,0 -1.6,0M80.4,489.7a0.8,0.8 0 1,0 1.6,0a0.8,0.8 0 1,0 -1.6,0" fill="#102810"/>
<path d="M81.5,428.0 L82.3,413.0 L83.3,405.0 L84.9,399.7 L86.5,394.5 L88.2,390.2 L90.5,386.5 L92.9,383.6 L93.4,383.0 L93.4,404.0 L90.6,405.5 L88.5,412.0 L86.3,420.0 L84.0,428.0 L82.5,440.0 L81.5,452.0Z" fill="#36683a" stroke="#173317" stroke-width="0.9"/>
<polyline points="81.6,427.1 81.8,440.1 82.1,417.8 82.3,430.8 82.6,411.6 82.8,424.6 83.1,407.6 83.3,420.6 83.6,405.0 83.8,418.0 84.1,403.4 84.3,416.4 84.6,401.7 84.8,414.7 85.1,400.1 85.3,413.1 85.6,398.4 85.8,411.4 86.1,396.8 86.3,409.8 86.6,395.2 86.8,408.2 87.1,394.0 87.3,407.0 87.6,392.7 87.8,405.7 88.1,391.5 88.3,404.5 88.6,390.6 88.8,403.6 89.1,389.8 89.3,402.8 89.6,388.9 89.8,401.9 90.1,388.1 90.3,401.1 90.6,387.4 90.8,400.4 91.1,386.8 91.3,399.8 91.6,386.2 91.8,399.2 92.1,385.6 92.3,398.6 92.6,385.0 92.8,398.0 93.1,384.4 93.3,397.4" fill="none" stroke="#173a17" stroke-width="0.5" stroke-linejoin="round" />
<polyline points="93.5,383.0 93.9,415.0 94.3,430.0 94.8,440.0 95.8,448.0 97.4,455.0 100.0,463.0 102.5,470.5 105.0,476.0 110.0,480.9 115.0,482.6 120.0,483.7 128.0,484.8 136.0,485.1 150.0,486.6 170.0,487.2 190.0,487.2 215.0,488.0" fill="none" stroke="#1e3c1e" stroke-width="1.0" stroke-linejoin="round" />
<path d="M99.2,463.0a0.8,0.8 0 1,0 1.6,0a0.8,0.8 0 1,0 -1.6,0M101.7,470.5a0.8,0.8 0 1,0 1.6,0a0.8,0.8 0 1,0 -1.6,0M104.2,476.0a0.8,0.8 0 1,0 1.6,0a0.8,0.8 0 1,0 -1.6,0M109.2,480.9a0.8,0.8 0 1,0 1.6,0a0.8,0.8 0 1,0 -1.6,0M114.2,482.6a0.8,0.8 0 1,0 1.6,0a0.8,0.8 0 1,0 -1.6,0M119.2,483.7a0.8,0.8 0 1,0 1.6,0a0.8,0.8 0 1,0 -1.6,0M127.2,484.8a0.8,0.8 0 1,0 1.6,0a0.8,0.8 0 1,0 -1.6,0M135.2,485.1a0.8,0.8 0 1,0 1.6,0a0.8,0.8 0 1,0 -1.6,0M149.2,486.6a0.8,0.8 0 1,0 1.6,0a0.8,0.8 0 1,0 -1.6,0M169.2,487.2a0.8,0.8 0 1,0 1.6,0a0.8,0.8 0 1,0 -1.6,0M189.2,487.2a0.8,0.8 0 1,0 1.6,0a0.8,0.8 0 1,0 -1.6,0M214.2,488.0a0.8,0.8 0 1,0 1.6,0a0.8,0.8 0 1,0 -1.6,0" fill="#102810"/>
<path d="M34.5,502.5v-2.3M34.5,359.5v2.3M79.62,502.5v-2.3M79.62,359.5v2.3M124.75,502.5v-2.3M124.75,359.5v2.3M169.88,502.5v-2.3M169.88,359.5v2.3M215,502.5v-2.3M215,359.5v2.3M57.06,502.5v-1.3M57.06,359.5v1.3M102.19,502.5v-1.3M102.19,359.5v1.3M147.31,502.5v-1.3M147.31,359.5v1.3M192.44,502.5v-1.3M192.44,359.5v1.3M34.5,490.6h2.3M215,490.6h-2.3M34.5,455.47h2.3M215,455.47h-2.3M34.5,420.34h2.3M215,420.34h-2.3M34.5,385.21h2.3M215,385.21h-2.3M34.5,473.03h1.3M215,473.03h-1.3M34.5,437.9h1.3M215,437.9h-1.3M34.5,402.77h1.3M215,402.77h-1.3" stroke="#262626" stroke-width="1" fill="none"/>
<rect x="34.5" y="359.5" width="180.5" height="143" fill="none" stroke="#262626" stroke-width="1.1"/>
<text transform="translate(31.91 511.8) scale(0.930 1)" font-family="Liberation Sans" font-size="10" font-weight="normal" fill="#111" stroke="#111" stroke-width="0.22">5</text>
<text transform="translate(74.45 511.8) scale(0.930 1)" font-family="Liberation Sans" font-size="10" font-weight="normal" fill="#111" stroke="#111" stroke-width="0.22">10</text>
<text transform="translate(119.58 511.8) scale(0.930 1)" font-family="Liberation Sans" font-size="10" font-weight="normal" fill="#111" stroke="#111" stroke-width="0.22">15</text>
<text transform="translate(164.7 511.8) scale(0.930 1)" font-family="Liberation Sans" font-size="10" font-weight="normal" fill="#111" stroke="#111" stroke-width="0.22">20</text>
<text transform="translate(209.83 511.8) scale(0.930 1)" font-family="Liberation Sans" font-size="10" font-weight="normal" fill="#111" stroke="#111" stroke-width="0.22">25</text>
<text transform="translate(17.25 494.35)" font-family="Liberation Sans" font-size="10" font-weight="normal" fill="#111" stroke="#111" stroke-width="0.22">87n</text>
<text transform="translate(12.4 459.22)" font-family="Liberation Sans" font-size="10" font-weight="normal" fill="#111" stroke="#111" stroke-width="0.22">116n</text>
<text transform="translate(11.65 424.09)" font-family="Liberation Sans" font-size="10" font-weight="normal" fill="#111" stroke="#111" stroke-width="0.22">145n</text>
<text transform="translate(11.65 388.96)" font-family="Liberation Sans" font-size="10" font-weight="normal" fill="#111" stroke="#111" stroke-width="0.22">174n</text>
<text transform="translate(106.79 522.5) scale(0.974 1)" font-family="Liberation Sans" font-size="11" font-weight="bold" fill="#000">Time (s)</text>
<text transform="translate(7.7 453.7) rotate(-90) scale(1.021 1) translate(-0.71 0)" font-family="Liberation Sans" font-size="11" font-weight="bold" fill="#000">EPSC (A)</text>
<text transform="translate(133.4 374.3) scale(0.839 1)" font-family="Liberation Sans" font-size="9.6" font-weight="normal" fill="#111" stroke="#111" stroke-width="0.22">V<tspan font-size="6.34" dy="3.17">DS</tspan><tspan dy="-3.17"> = 0.5V V</tspan><tspan font-size="6.34" dy="3.17">GS</tspan><tspan dy="-3.17"> = 2 V</tspan></text>
<text transform="translate(173.93 437.3) scale(1.007 1)" font-family="Liberation Sans" font-size="9.4" font-weight="normal" fill="#111" stroke="#111" stroke-width="0.22">Gate 1</text>
<line x1="159" y1="445.8" x2="180.4" y2="445.8" stroke="#2a4a2a" stroke-width="1.5" />
<path d="M168.5,445.8a0.9,0.9 0 1,0 1.8,0a0.9,0.9 0 1,0 -1.8,0" fill="#102810"/>
<text transform="translate(182.19 448.6)" font-family="Liberation Sans" font-size="10.2" font-weight="normal" fill="#111" stroke="#111" stroke-width="0.22">20 Hz</text>
<line x1="159" y1="457.4" x2="180.4" y2="457.4" stroke="#3cc82c" stroke-width="1.5" />
<path d="M168.5,457.4a0.9,0.9 0 1,0 1.8,0a0.9,0.9 0 1,0 -1.8,0" fill="#28b018"/>
<text transform="translate(182.29 460.25)" font-family="Liberation Sans" font-size="10.2" font-weight="normal" fill="#111" stroke="#111" stroke-width="0.22">5 Hz</text>
<line x1="159" y1="469" x2="180.4" y2="469" stroke="#90f264" stroke-width="1.5" />
<path d="M168.5,469.0a0.9,0.9 0 1,0 1.8,0a0.9,0.9 0 1,0 -1.8,0" fill="#6ce03c"/>
<text transform="translate(182.19 471.9)" font-family="Liberation Sans" font-size="10.2" font-weight="normal" fill="#111" stroke="#111" stroke-width="0.22">2 Hz</text>
<text transform="translate(12.5 369)" font-family="Liberation Serif" font-size="17" font-weight="bold" fill="#000">g)</text>
<polyline points="291.9,493.6 308.3,484.8 324.8,487.3 341.2,484.8 357.6,481.6 374.0,481.6 390.4,481.6 406.9,475.7 423.3,478.8 439.7,472.8" fill="none" stroke="#6cf040" stroke-width="1.25" stroke-linejoin="round" />
<path d="M290.5,493.6a1.45,1.45 0 1,0 2.9,0a1.45,1.45 0 1,0 -2.9,0M306.9,484.8a1.45,1.45 0 1,0 2.9,0a1.45,1.45 0 1,0 -2.9,0M323.3,487.3a1.45,1.45 0 1,0 2.9,0a1.45,1.45 0 1,0 -2.9,0M339.7,484.8a1.45,1.45 0 1,0 2.9,0a1.45,1.45 0 1,0 -2.9,0M356.2,481.6a1.45,1.45 0 1,0 2.9,0a1.45,1.45 0 1,0 -2.9,0M372.6,481.6a1.45,1.45 0 1,0 2.9,0a1.45,1.45 0 1,0 -2.9,0M389.0,481.6a1.45,1.45 0 1,0 2.9,0a1.45,1.45 0 1,0 -2.9,0M405.4,475.7a1.45,1.45 0 1,0 2.9,0a1.45,1.45 0 1,0 -2.9,0M421.8,478.8a1.45,1.45 0 1,0 2.9,0a1.45,1.45 0 1,0 -2.9,0M438.3,472.8a1.45,1.45 0 1,0 2.9,0a1.45,1.45 0 1,0 -2.9,0" fill="#48dc20"/>
<polyline points="291.9,492.7 308.3,478.5 324.8,477.7 341.2,470.6 357.6,466.9 374.0,464.3 390.4,463.5 406.9,463.5 423.3,465.2 439.7,465.2" fill="none" stroke="#44cc2c" stroke-width="1.25" stroke-linejoin="round" />
<path d="M290.5,492.7a1.45,1.45 0 1,0 2.9,0a1.45,1.45 0 1,0 -2.9,0M306.9,478.5a1.45,1.45 0 1,0 2.9,0a1.45,1.45 0 1,0 -2.9,0M323.3,477.7a1.45,1.45 0 1,0 2.9,0a1.45,1.45 0 1,0 -2.9,0M339.7,470.6a1.45,1.45 0 1,0 2.9,0a1.45,1.45 0 1,0 -2.9,0M356.2,466.9a1.45,1.45 0 1,0 2.9,0a1.45,1.45 0 1,0 -2.9,0M372.6,464.3a1.45,1.45 0 1,0 2.9,0a1.45,1.45 0 1,0 -2.9,0M389.0,463.5a1.45,1.45 0 1,0 2.9,0a1.45,1.45 0 1,0 -2.9,0M405.4,463.5a1.45,1.45 0 1,0 2.9,0a1.45,1.45 0 1,0 -2.9,0M421.8,465.2a1.45,1.45 0 1,0 2.9,0a1.45,1.45 0 1,0 -2.9,0M438.3,465.2a1.45,1.45 0 1,0 2.9,0a1.45,1.45 0 1,0 -2.9,0" fill="#2aae1a"/>
<polyline points="291.9,491.3 308.3,478.5 324.8,472.8 341.2,466.9 357.6,462.9 374.0,461.8 390.4,453.0 406.9,455.5 423.3,455.5 439.7,452.7" fill="none" stroke="#2e962e" stroke-width="1.25" stroke-linejoin="round" />
<path d="M290.5,491.3a1.45,1.45 0 1,0 2.9,0a1.45,1.45 0 1,0 -2.9,0M306.9,478.5a1.45,1.45 0 1,0 2.9,0a1.45,1.45 0 1,0 -2.9,0M323.3,472.8a1.45,1.45 0 1,0 2.9,0a1.45,1.45 0 1,0 -2.9,0M339.7,466.9a1.45,1.45 0 1,0 2.9,0a1.45,1.45 0 1,0 -2.9,0M356.2,462.9a1.45,1.45 0 1,0 2.9,0a1.45,1.45 0 1,0 -2.9,0M372.6,461.8a1.45,1.45 0 1,0 2.9,0a1.45,1.45 0 1,0 -2.9,0M389.0,453.0a1.45,1.45 0 1,0 2.9,0a1.45,1.45 0 1,0 -2.9,0M405.4,455.5a1.45,1.45 0 1,0 2.9,0a1.45,1.45 0 1,0 -2.9,0M421.8,455.5a1.45,1.45 0 1,0 2.9,0a1.45,1.45 0 1,0 -2.9,0M438.3,452.7a1.45,1.45 0 1,0 2.9,0a1.45,1.45 0 1,0 -2.9,0" fill="#1e7a1e"/>
<polyline points="291.9,489.9 308.3,468.0 324.8,455.5 341.2,444.2 357.6,440.7 374.0,435.6 390.4,430.0 406.9,421.2 423.3,415.2 439.7,413.8" fill="none" stroke="#2e7e2e" stroke-width="1.25" stroke-linejoin="round" />
<path d="M290.5,489.9a1.45,1.45 0 1,0 2.9,0a1.45,1.45 0 1,0 -2.9,0M306.9,468.0a1.45,1.45 0 1,0 2.9,0a1.45,1.45 0 1,0 -2.9,0M323.3,455.5a1.45,1.45 0 1,0 2.9,0a1.45,1.45 0 1,0 -2.9,0M339.7,444.2a1.45,1.45 0 1,0 2.9,0a1.45,1.45 0 1,0 -2.9,0M356.2,440.7a1.45,1.45 0 1,0 2.9,0a1.45,1.45 0 1,0 -2.9,0M372.6,435.6a1.45,1.45 0 1,0 2.9,0a1.45,1.45 0 1,0 -2.9,0M389.0,430.0a1.45,1.45 0 1,0 2.9,0a1.45,1.45 0 1,0 -2.9,0M405.4,421.2a1.45,1.45 0 1,0 2.9,0a1.45,1.45 0 1,0 -2.9,0M421.8,415.2a1.45,1.45 0 1,0 2.9,0a1.45,1.45 0 1,0 -2.9,0M438.3,413.8a1.45,1.45 0 1,0 2.9,0a1.45,1.45 0 1,0 -2.9,0" fill="#1a5a1a"/>
<polyline points="291.9,488.4 308.3,450.1 324.8,438.2 341.2,418.3 357.6,415.5 374.0,407.0 390.4,401.0 406.9,395.3 423.3,389.4 439.7,378.3" fill="none" stroke="#2a5a2a" stroke-width="1.25" stroke-linejoin="round" />
<path d="M290.5,488.4a1.45,1.45 0 1,0 2.9,0a1.45,1.45 0 1,0 -2.9,0M306.9,450.1a1.45,1.45 0 1,0 2.9,0a1.45,1.45 0 1,0 -2.9,0M323.3,438.2a1.45,1.45 0 1,0 2.9,0a1.45,1.45 0 1,0 -2.9,0M339.7,418.3a1.45,1.45 0 1,0 2.9,0a1.45,1.45 0 1,0 -2.9,0M356.2,415.5a1.45,1.45 0 1,0 2.9,0a1.45,1.45 0 1,0 -2.9,0M372.6,407.0a1.45,1.45 0 1,0 2.9,0a1.45,1.45 0 1,0 -2.9,0M389.0,401.0a1.45,1.45 0 1,0 2.9,0a1.45,1.45 0 1,0 -2.9,0M405.4,395.3a1.45,1.45 0 1,0 2.9,0a1.45,1.45 0 1,0 -2.9,0M421.8,389.4a1.45,1.45 0 1,0 2.9,0a1.45,1.45 0 1,0 -2.9,0M438.3,378.3a1.45,1.45 0 1,0 2.9,0a1.45,1.45 0 1,0 -2.9,0" fill="#163a16"/>
<path d="M275.5,502.5v-2.3M275.5,359.5v2.3M308.34,502.5v-2.3M308.34,359.5v2.3M341.18,502.5v-2.3M341.18,359.5v2.3M374.02,502.5v-2.3M374.02,359.5v2.3M406.86,502.5v-2.3M406.86,359.5v2.3M439.7,502.5v-2.3M439.7,359.5v2.3M291.92,502.5v-1.3M291.92,359.5v1.3M324.76,502.5v-1.3M324.76,359.5v1.3M357.6,502.5v-1.3M357.6,359.5v1.3M390.44,502.5v-1.3M390.44,359.5v1.3M423.28,502.5v-1.3M423.28,359.5v1.3M275.5,467.1h2.3M456,467.1h-2.3M275.5,421.4h2.3M456,421.4h-2.3M275.5,375.7h2.3M456,375.7h-2.3M275.5,489.95h1.3M456,489.95h-1.3M275.5,444.25h1.3M456,444.25h-1.3M275.5,398.55h1.3M456,398.55h-1.3" stroke="#262626" stroke-width="1" fill="none"/>
<rect x="275.5" y="359.5" width="180.5" height="143" fill="none" stroke="#262626" stroke-width="1.1"/>
<text transform="translate(272.91 511.8) scale(0.930 1)" font-family="Liberation Sans" font-size="10" font-weight="normal" fill="#111" stroke="#111" stroke-width="0.22">0</text>
<text transform="translate(305.75 511.8) scale(0.930 1)" font-family="Liberation Sans" font-size="10" font-weight="normal" fill="#111" stroke="#111" stroke-width="0.22">2</text>
<text transform="translate(338.59 511.8) scale(0.930 1)" font-family="Liberation Sans" font-size="10" font-weight="normal" fill="#111" stroke="#111" stroke-width="0.22">4</text>
<text transform="translate(371.43 511.8) scale(0.930 1)" font-family="Liberation Sans" font-size="10" font-weight="normal" fill="#111" stroke="#111" stroke-width="0.22">6</text>
<text transform="translate(404.27 511.8) scale(0.930 1)" font-family="Liberation Sans" font-size="10" font-weight="normal" fill="#111" stroke="#111" stroke-width="0.22">8</text>
<text transform="translate(434.53 511.8) scale(0.930 1)" font-family="Liberation Sans" font-size="10" font-weight="normal" fill="#111" stroke="#111" stroke-width="0.22">10</text>
<text transform="translate(253.33 470.85) scale(0.950 1)" font-family="Liberation Sans" font-size="10" font-weight="normal" fill="#111" stroke="#111" stroke-width="0.22">144n</text>
<text transform="translate(253.33 425.15) scale(0.950 1)" font-family="Liberation Sans" font-size="10" font-weight="normal" fill="#111" stroke="#111" stroke-width="0.22">160n</text>
<text transform="translate(253.33 379.45) scale(0.950 1)" font-family="Liberation Sans" font-size="10" font-weight="normal" fill="#111" stroke="#111" stroke-width="0.22">176n</text>
<text transform="translate(333.21 523.2) scale(0.969 1)" font-family="Liberation Sans" font-size="11" font-weight="bold" fill="#000">Pulse Number</text>
<text transform="translate(249.1 454) rotate(-90) scale(1.027 1) translate(-0.71 0)" font-family="Liberation Sans" font-size="11" font-weight="bold" fill="#000">EPSC (A)</text>
<line x1="280" y1="367.7" x2="301" y2="367.7" stroke="#2a5a2a" stroke-width="1.3" />
<path d="M288.9,367.7a1.3,1.3 0 1,0 2.6,0a1.3,1.3 0 1,0 -2.6,0" fill="#163a16"/>
<text transform="translate(302.79 371.1)" font-family="Liberation Sans" font-size="10.2" font-weight="normal" fill="#111" stroke="#111" stroke-width="0.22">20 Hz</text>
<line x1="280" y1="379.35" x2="301" y2="379.35" stroke="#2e7e2e" stroke-width="1.3" />
<path d="M288.9,379.3a1.3,1.3 0 1,0 2.6,0a1.3,1.3 0 1,0 -2.6,0" fill="#1a5a1a"/>
<text transform="translate(302.54 382.75)" font-family="Liberation Sans" font-size="10.2" font-weight="normal" fill="#111" stroke="#111" stroke-width="0.22">10 Hz</text>
<line x1="280" y1="391" x2="301" y2="391" stroke="#2e962e" stroke-width="1.3" />
<path d="M288.9,391.0a1.3,1.3 0 1,0 2.6,0a1.3,1.3 0 1,0 -2.6,0" fill="#1e7a1e"/>
<text transform="translate(302.89 394.4)" font-family="Liberation Sans" font-size="10.2" font-weight="normal" fill="#111" stroke="#111" stroke-width="0.22">5 Hz</text>
<line x1="280" y1="402.65" x2="301" y2="402.65" stroke="#44cc2c" stroke-width="1.3" />
<path d="M288.9,402.6a1.3,1.3 0 1,0 2.6,0a1.3,1.3 0 1,0 -2.6,0" fill="#2aae1a"/>
<text transform="translate(302.79 406.05)" font-family="Liberation Sans" font-size="10.2" font-weight="normal" fill="#111" stroke="#111" stroke-width="0.22">2 Hz</text>
<line x1="280" y1="414.3" x2="301" y2="414.3" stroke="#6cf040" stroke-width="1.3" />
<path d="M288.9,414.3a1.3,1.3 0 1,0 2.6,0a1.3,1.3 0 1,0 -2.6,0" fill="#48dc20"/>
<text transform="translate(302.54 417.7)" font-family="Liberation Sans" font-size="10.2" font-weight="normal" fill="#111" stroke="#111" stroke-width="0.22">1.25 Hz</text>
<text transform="translate(235.7 368.5)" font-family="Liberation Serif" font-size="17" font-weight="bold" fill="#000">h)</text>
<polyline points="513.9,491.3 535.5,463.6 571.5,421.6 643.5,375.7" fill="none" stroke="#48c030" stroke-width="1.3" stroke-linejoin="round" />
<path d="M512.4,491.3a1.5,1.5 0 1,0 3.0,0a1.5,1.5 0 1,0 -3.0,0M534.0,463.6a1.5,1.5 0 1,0 3.0,0a1.5,1.5 0 1,0 -3.0,0M570.0,421.6a1.5,1.5 0 1,0 3.0,0a1.5,1.5 0 1,0 -3.0,0M642.0,375.7a1.5,1.5 0 1,0 3.0,0a1.5,1.5 0 1,0 -3.0,0" fill="#2a9a1e"/>
<path d="M499.5,502.5v-2.3M499.5,359.5v2.3M535.5,502.5v-2.3M535.5,359.5v2.3M571.5,502.5v-2.3M571.5,359.5v2.3M607.5,502.5v-2.3M607.5,359.5v2.3M643.5,502.5v-2.3M643.5,359.5v2.3M679.5,502.5v-2.3M679.5,359.5v2.3M517.5,502.5v-1.3M517.5,359.5v1.3M553.5,502.5v-1.3M553.5,359.5v1.3M589.5,502.5v-1.3M589.5,359.5v1.3M625.5,502.5v-1.3M625.5,359.5v1.3M661.5,502.5v-1.3M661.5,359.5v1.3M499.5,484.2h2.3M679.5,484.2h-2.3M499.5,448.45h2.3M679.5,448.45h-2.3M499.5,412.7h2.3M679.5,412.7h-2.3M499.5,376.95h2.3M679.5,376.95h-2.3M499.5,502.07h1.3M679.5,502.07h-1.3M499.5,466.32h1.3M679.5,466.32h-1.3M499.5,430.57h1.3M679.5,430.57h-1.3M499.5,394.82h1.3M679.5,394.82h-1.3M499.5,359.07h1.3M679.5,359.07h-1.3" stroke="#262626" stroke-width="1" fill="none"/>
<rect x="499.5" y="359.5" width="180" height="143" fill="none" stroke="#262626" stroke-width="1.1"/>
<text transform="translate(496.91 511.9) scale(0.930 1)" font-family="Liberation Sans" font-size="10" font-weight="normal" fill="#111" stroke="#111" stroke-width="0.22">0</text>
<text transform="translate(532.91 511.9) scale(0.930 1)" font-family="Liberation Sans" font-size="10" font-weight="normal" fill="#111" stroke="#111" stroke-width="0.22">5</text>
<text transform="translate(566.33 511.9) scale(0.930 1)" font-family="Liberation Sans" font-size="10" font-weight="normal" fill="#111" stroke="#111" stroke-width="0.22">10</text>
<text transform="translate(602.33 511.9) scale(0.930 1)" font-family="Liberation Sans" font-size="10" font-weight="normal" fill="#111" stroke="#111" stroke-width="0.22">15</text>
<text transform="translate(638.33 511.9) scale(0.930 1)" font-family="Liberation Sans" font-size="10" font-weight="normal" fill="#111" stroke="#111" stroke-width="0.22">20</text>
<text transform="translate(674.33 511.9) scale(0.930 1)" font-family="Liberation Sans" font-size="10" font-weight="normal" fill="#111" stroke="#111" stroke-width="0.22">25</text>
<text transform="translate(487.5 487.95) scale(0.930 1)" font-family="Liberation Sans" font-size="10" font-weight="normal" fill="#111" stroke="#111" stroke-width="0.22">20</text>
<text transform="translate(487.5 452.2) scale(0.930 1)" font-family="Liberation Sans" font-size="10" font-weight="normal" fill="#111" stroke="#111" stroke-width="0.22">40</text>
<text transform="translate(487.5 416.45) scale(0.930 1)" font-family="Liberation Sans" font-size="10" font-weight="normal" fill="#111" stroke="#111" stroke-width="0.22">60</text>
<text transform="translate(487.5 380.7) scale(0.930 1)" font-family="Liberation Sans" font-size="10" font-weight="normal" fill="#111" stroke="#111" stroke-width="0.22">80</text>
<text transform="translate(550.99 525) scale(0.990 1)" font-family="Liberation Sans" font-size="11" font-weight="bold" fill="#000">Frequency (Hz)</text>
<text transform="translate(481 456.7) rotate(-90) scale(1.013 1) translate(-0 0)" font-family="Liberation Sans" font-size="11.5" font-weight="normal" fill="#111">A<tspan font-size="7.59" dy="3.8">10</tspan><tspan dy="-3.8">/A</tspan><tspan font-size="7.59" dy="3.8">0</tspan><tspan dy="-3.8"> (%)</tspan></text>
<rect x="582.2" y="416.8" width="91.3" height="68.2" fill="#fff"/>
<polyline points="582.6,482.5 583.6,482.4 584.6,482.7 585.6,482.4 586.6,482.3 587.6,482.6 588.6,481.8 589.6,482.0 590.6,482.6 591.6,482.8 592.6,481.8 593.6,482.4 594.6,482.2 595.6,482.3 596.6,482.6 597.6,482.9 598.6,483.0 599.6,482.7 600.6,482.6 601.6,482.4 602.6,481.7 603.6,482.5 604.6,482.0 605.6,482.0 606.6,482.4 607.6,481.8 608.6,483.0 609.6,482.6 610.6,482.4 611.2,452.0 611.6,446.6 611.9,451.6 612.6,453.8 612.7,441.8 613.0,446.8 613.7,449.0 613.9,437.0 614.2,442.0 614.9,446.8 615.0,434.8 615.3,439.8 616.0,445.2 616.2,433.2 616.5,438.2 617.2,442.4 617.3,430.4 617.6,435.4 618.3,440.9 618.4,428.9 618.7,433.9 619.4,440.0 619.6,428.0 619.9,433.0 620.6,439.1 620.7,427.1 621.0,432.1 621.7,438.2 621.9,426.2 622.2,431.2 622.9,437.1 623.0,425.1 623.3,430.1 624.0,435.9 624.1,423.9 624.4,428.9 625.1,434.7 625.3,422.7 625.6,427.7 626.3,433.4 626.4,421.4 626.7,426.4 627.4,431.8 627.6,419.8 627.9,424.8 628.6,430.2 628.7,418.2 629.5,425.0 630.5,433.0 632.0,445.0 634.0,456.0 636.0,463.0 640.0,470.0 645.0,474.0 650.0,476.0 655.0,477.2 665.0,478.6 673.2,479.5" fill="none" stroke="#34a824" stroke-width="0.9" stroke-linejoin="round" />
<path d="M586.6,485v-1.6M586.6,416.8v1.6M609.9,485v-1.6M609.9,416.8v1.6M633.2,485v-1.6M633.2,416.8v1.6M656.5,485v-1.6M656.5,416.8v1.6M598.25,485v-1M598.25,416.8v1M621.55,485v-1M621.55,416.8v1M644.85,485v-1M644.85,416.8v1M668.15,485v-1M668.15,416.8v1M582.2,473.9h1.6M673.5,473.9h-1.6M582.2,459.1h1.6M673.5,459.1h-1.6M582.2,444.3h1.6M673.5,444.3h-1.6M582.2,429.5h1.6M673.5,429.5h-1.6M582.2,466.5h1M673.5,466.5h-1M582.2,451.7h1M673.5,451.7h-1M582.2,436.9h1M673.5,436.9h-1" stroke="#262626" stroke-width="1" fill="none"/>
<rect x="582.2" y="416.8" width="91.3" height="68.2" fill="none" stroke="#262626" stroke-width="1.1"/>
<line x1="582.5" y1="483.3" x2="673.2" y2="483.3" stroke="#222" stroke-width="0.8" stroke-dasharray="1 1.4"/>
<line x1="603.1" y1="446.3" x2="611" y2="446.3" stroke="#222" stroke-width="0.8" stroke-dasharray="1 1.4"/>
<line x1="628.7" y1="418.2" x2="638.9" y2="418.2" stroke="#222" stroke-width="0.8" stroke-dasharray="1 1.4"/>
<line x1="603.1" y1="447" x2="603.1" y2="482.6" stroke="#222" stroke-width="0.8" />
<line x1="638.9" y1="419" x2="638.9" y2="482.6" stroke="#222" stroke-width="0.8" />
<path d="M601.9,449 L603.1,446.4 L604.3,449Z M601.9,480.6 L603.1,483.2 L604.3,480.6Z M637.7,421 L638.9,418.4 L640.1,421Z M637.7,480.6 L638.9,483.2 L640.1,480.6Z" fill="#222"/>
<text transform="translate(597.6 466)" font-family="Liberation Sans" font-size="4.5" font-weight="normal" fill="#222">A0</text>
<text transform="translate(640.6 452.5)" font-family="Liberation Sans" font-size="4.5" font-weight="normal" fill="#222">A10</text>
<line x1="642.3" y1="425.9" x2="655.1" y2="425.9" stroke="#3cb828" stroke-width="1.2" />
<text transform="translate(655.54 428.3) scale(0.827 1)" font-family="Liberation Sans" font-size="6.2" font-weight="normal" fill="#222">20 Hz</text>
<text transform="translate(584.88 491.8)" font-family="Liberation Sans" font-size="6.2" font-weight="normal" fill="#222">8</text>
<text transform="translate(606.45 491.8)" font-family="Liberation Sans" font-size="6.2" font-weight="normal" fill="#222">10</text>
<text transform="translate(629.75 491.8)" font-family="Liberation Sans" font-size="6.2" font-weight="normal" fill="#222">12</text>
<text transform="translate(653.05 491.8)" font-family="Liberation Sans" font-size="6.2" font-weight="normal" fill="#222">14</text>
<text transform="translate(567.38 476.1)" font-family="Liberation Sans" font-size="6.2" font-weight="normal" fill="#222">100n</text>
<text transform="translate(567.38 461.3)" font-family="Liberation Sans" font-size="6.2" font-weight="normal" fill="#222">120n</text>
<text transform="translate(567.38 446.5)" font-family="Liberation Sans" font-size="6.2" font-weight="normal" fill="#222">140n</text>
<text transform="translate(567.38 431.7)" font-family="Liberation Sans" font-size="6.2" font-weight="normal" fill="#222">160n</text>
<text transform="translate(617.54 496.6) scale(0.820 1)" font-family="Liberation Sans" font-size="7.2" font-weight="bold" fill="#111">Time (s)</text>
<text transform="translate(566.3 464.1) rotate(-90) scale(0.973 1) translate(-0.4 0)" font-family="Liberation Sans" font-size="6.2" font-weight="bold" fill="#111">EPSC (A)</text>
<text transform="translate(476.8 368.8)" font-family="Liberation Serif" font-size="17" font-weight="bold" fill="#000">i)</text>
</svg></body></html>
